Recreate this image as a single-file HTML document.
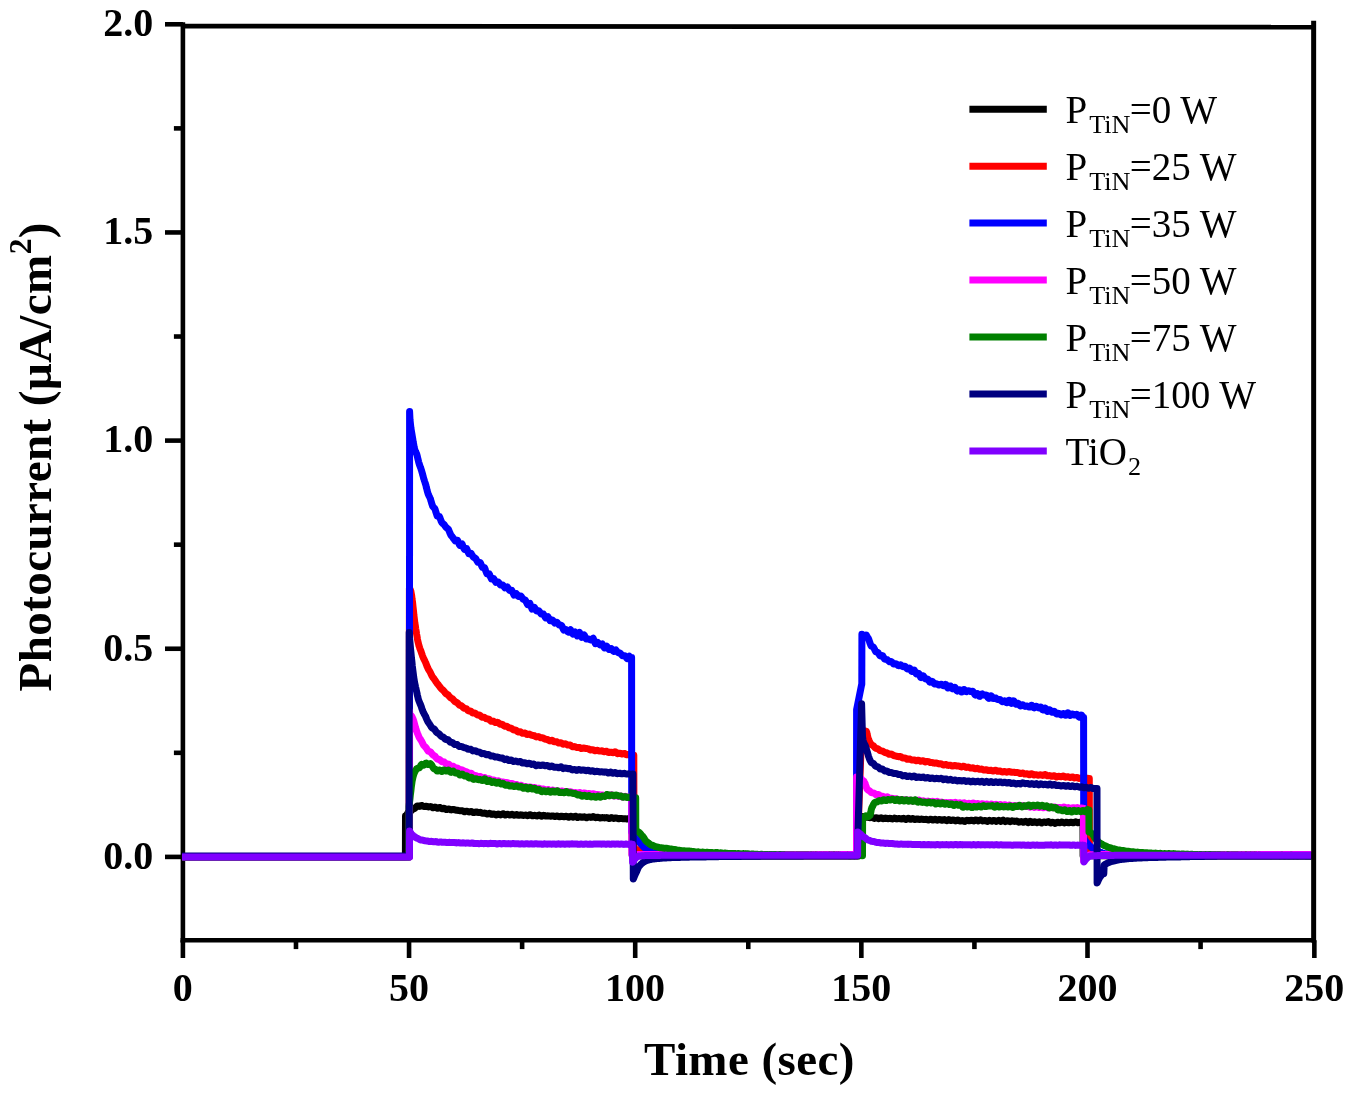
<!DOCTYPE html>
<html lang="en">
<head>
<meta charset="utf-8">
<title>Photocurrent vs Time</title>
<style>
html,body{margin:0;padding:0;background:#fff;}
body{width:1353px;height:1096px;overflow:hidden;}
svg{display:block;will-change:transform;}
</style>
</head>
<body>
<svg width="1353" height="1096" viewBox="0 0 1353 1096">
<rect width="1353" height="1096" fill="#fff"/>
<g stroke="#000" stroke-width="4.6" fill="none" stroke-linecap="butt"><line x1="182.9" y1="22.3" x2="182.9" y2="942.50"/><line x1="180.60" y1="940.2" x2="1315.95" y2="940.2"/><line x1="182.9" y1="26.1" x2="1313.65" y2="27.15"/><line x1="165.00" y1="856.90" x2="182.90" y2="856.90"/><line x1="173.90" y1="752.82" x2="182.90" y2="752.82"/><line x1="165.00" y1="648.75" x2="182.90" y2="648.75"/><line x1="173.90" y1="544.67" x2="182.90" y2="544.67"/><line x1="165.00" y1="440.60" x2="182.90" y2="440.60"/><line x1="173.90" y1="336.52" x2="182.90" y2="336.52"/><line x1="165.00" y1="232.45" x2="182.90" y2="232.45"/><line x1="173.90" y1="128.38" x2="182.90" y2="128.38"/><line x1="165.00" y1="24.30" x2="182.90" y2="24.30"/><line x1="182.90" y1="940.20" x2="182.90" y2="958.00"/><line x1="295.98" y1="940.20" x2="295.98" y2="949.10"/><line x1="409.05" y1="940.20" x2="409.05" y2="958.00"/><line x1="522.12" y1="940.20" x2="522.12" y2="949.10"/><line x1="635.20" y1="940.20" x2="635.20" y2="958.00"/><line x1="748.27" y1="940.20" x2="748.27" y2="949.10"/><line x1="861.35" y1="940.20" x2="861.35" y2="958.00"/><line x1="974.42" y1="940.20" x2="974.42" y2="949.10"/><line x1="1087.50" y1="940.20" x2="1087.50" y2="958.00"/><line x1="1200.58" y1="940.20" x2="1200.58" y2="949.10"/><line x1="1314.35" y1="940.20" x2="1314.35" y2="958.00"/></g>
<defs><clipPath id="plot"><rect x="182" y="24" width="1129.5" height="918"/></clipPath></defs>
<g clip-path="url(#plot)" fill="none" stroke-width="7.0" stroke-linejoin="round" stroke-linecap="round"><path stroke="#000000" d="M182.9 856.9L405.2 856.9L405.4 856.9L405.5 816.1L405.7 816.1L406.1 815.8L406.6 814.9L407.0 814.2L407.5 813.5L407.9 812.8L408.4 812.4L408.8 812.2L409.3 812.0L409.7 811.8L410.2 811.6L410.6 811.3L411.1 810.8L411.5 810.4L412.0 809.9L412.4 809.5L412.9 809.2L413.3 809.0L413.8 808.8L414.2 808.6L414.7 808.4L415.1 808.0L415.6 807.5L416.1 807.0L416.5 806.6L417.0 806.2L417.4 806.0L417.9 806.0L418.3 806.1L418.8 806.2L419.2 806.4L419.7 806.3L420.1 806.1L420.6 805.9L421.0 805.6L421.5 805.4L421.9 805.5L422.4 805.7L422.8 806.0L423.3 806.2L423.7 806.4L424.2 806.5L424.6 806.4L425.1 806.4L425.5 806.3L426.0 806.3L426.4 806.3L426.9 806.5L427.3 806.6L427.8 806.8L428.3 806.9L428.7 806.9L429.2 806.8L429.6 806.7L430.1 806.7L430.5 806.6L431.0 806.7L431.4 806.9L431.9 807.2L432.3 807.4L432.8 807.7L433.2 807.7L433.7 807.5L434.1 807.4L434.6 807.3L435.0 807.1L435.5 807.2L435.9 807.5L436.4 807.7L436.8 808.0L437.3 808.2L437.7 808.2L438.2 808.0L438.6 807.8L439.1 807.6L439.5 807.4L440.0 807.5L440.5 807.8L440.9 808.1L441.4 808.5L441.8 808.8L442.3 808.8L442.7 808.7L443.2 808.6L443.6 808.4L444.1 808.3L444.5 808.4L445.0 808.7L445.4 809.0L445.9 809.3L446.3 809.5L446.8 809.6L447.2 809.4L447.7 809.3L448.1 809.1L448.6 809.0L449.0 809.0L449.5 809.2L449.9 809.4L450.4 809.6L450.8 809.8L451.3 809.9L451.7 809.7L452.2 809.6L452.6 809.5L453.1 809.4L453.6 809.5L454.0 809.6L454.5 809.8L454.9 809.9L455.4 810.0L455.8 810.1L456.3 810.2L456.7 810.2L457.2 810.2L457.6 810.3L458.1 810.4L458.5 810.5L459.0 810.6L459.4 810.7L459.9 810.7L460.3 810.8L460.8 810.8L461.2 810.8L461.7 810.8L462.1 810.8L462.6 810.9L463.0 811.1L463.5 811.3L463.9 811.5L464.4 811.7L464.8 811.7L465.3 811.5L465.8 811.4L466.2 811.3L466.7 811.2L467.1 811.2L467.6 811.4L468.0 811.6L468.5 811.8L468.9 811.9L469.4 811.9L469.8 811.8L470.3 811.7L470.7 811.6L471.2 811.5L471.6 811.7L472.1 811.9L472.5 812.1L473.0 812.4L473.4 812.6L473.9 812.6L474.3 812.4L474.8 812.3L475.2 812.1L475.7 811.9L476.1 811.9L476.6 812.0L477.0 812.2L477.5 812.3L478.0 812.4L478.4 812.5L478.9 812.4L479.3 812.4L479.8 812.4L480.2 812.3L480.7 812.5L481.1 812.7L481.6 812.9L482.0 813.1L482.5 813.3L482.9 813.3L483.4 813.3L483.8 813.2L484.3 813.1L484.7 813.1L485.2 813.2L485.6 813.4L486.1 813.6L486.5 813.8L487.0 814.0L487.4 814.0L487.9 813.8L488.3 813.7L488.8 813.5L489.2 813.3L489.7 813.4L490.2 813.6L490.6 813.9L491.1 814.1L491.5 814.3L492.0 814.4L492.4 814.2L492.9 814.1L493.3 814.0L493.8 813.9L494.2 813.9L494.7 814.2L495.1 814.4L495.6 814.6L496.0 814.9L496.5 814.9L496.9 814.7L497.4 814.5L497.8 814.3L498.3 814.1L498.7 814.2L499.2 814.3L499.6 814.5L500.1 814.7L500.5 814.9L501.0 814.8L501.4 814.5L501.9 814.3L502.4 814.0L502.8 813.7L503.3 813.8L503.7 814.1L504.2 814.3L504.6 814.6L505.1 814.9L505.5 814.9L506.0 814.7L506.4 814.6L506.9 814.4L507.3 814.2L507.8 814.3L508.2 814.4L508.7 814.6L509.1 814.8L509.6 815.0L510.0 814.9L510.5 814.8L510.9 814.6L511.4 814.5L511.8 814.3L512.3 814.4L512.7 814.6L513.2 814.8L513.6 815.0L514.1 815.2L514.6 815.2L515.0 815.1L515.5 814.9L515.9 814.7L516.4 814.6L516.8 814.6L517.3 814.8L517.7 815.0L518.2 815.1L518.6 815.3L519.1 815.3L519.5 815.2L520.0 815.1L520.4 815.0L520.9 814.8L521.3 814.9L521.8 815.0L522.2 815.2L522.7 815.3L523.1 815.4L523.6 815.4L524.0 815.3L524.5 815.3L524.9 815.2L525.4 815.1L525.8 815.1L526.3 815.3L526.8 815.4L527.2 815.5L527.7 815.7L528.1 815.6L528.6 815.4L529.0 815.2L529.5 814.9L529.9 814.7L530.4 814.8L530.8 815.0L531.3 815.3L531.7 815.6L532.2 815.8L532.6 815.8L533.1 815.7L533.5 815.6L534.0 815.4L534.4 815.3L534.9 815.3L535.3 815.5L535.8 815.6L536.2 815.8L536.7 815.9L537.1 815.9L537.6 815.7L538.0 815.5L538.5 815.3L539.0 815.0L539.4 815.1L539.9 815.4L540.3 815.7L540.8 816.0L541.2 816.3L541.7 816.2L542.1 816.0L542.6 815.8L543.0 815.6L543.5 815.3L543.9 815.4L544.4 815.5L544.8 815.7L545.3 815.9L545.7 816.1L546.2 816.1L546.6 816.0L547.1 816.0L547.5 815.9L548.0 815.8L548.4 815.9L548.9 816.0L549.3 816.0L549.8 816.1L550.2 816.2L550.7 816.2L551.2 816.1L551.6 816.1L552.1 816.0L552.5 815.9L553.0 816.0L553.4 816.1L553.9 816.2L554.3 816.3L554.8 816.5L555.2 816.5L555.7 816.4L556.1 816.2L556.6 816.1L557.0 816.0L557.5 816.1L557.9 816.2L558.4 816.4L558.8 816.6L559.3 816.7L559.7 816.7L560.2 816.6L560.6 816.4L561.1 816.3L561.5 816.2L562.0 816.2L562.4 816.4L562.9 816.5L563.4 816.7L563.8 816.8L564.3 816.8L564.7 816.7L565.2 816.5L565.6 816.4L566.1 816.3L566.5 816.3L567.0 816.6L567.4 816.8L567.9 817.0L568.3 817.3L568.8 817.2L569.2 816.9L569.7 816.7L570.1 816.5L570.6 816.2L571.0 816.3L571.5 816.5L571.9 816.7L572.4 817.0L572.8 817.2L573.3 817.2L573.7 816.9L574.2 816.7L574.6 816.5L575.1 816.2L575.6 816.3L576.0 816.6L576.5 816.9L576.9 817.2L577.4 817.5L577.8 817.5L578.3 817.3L578.7 817.1L579.2 816.9L579.6 816.7L580.1 816.7L580.5 816.9L581.0 817.0L581.4 817.2L581.9 817.3L582.3 817.3L582.8 817.2L583.2 817.0L583.7 816.9L584.1 816.8L584.6 816.9L585.0 817.1L585.5 817.3L585.9 817.5L586.4 817.7L586.8 817.7L587.3 817.5L587.8 817.3L588.2 817.1L588.7 816.9L589.1 816.9L589.6 817.0L590.0 817.1L590.5 817.2L590.9 817.4L591.4 817.3L591.8 817.1L592.3 817.0L592.7 816.8L593.2 816.6L593.6 816.7L594.1 817.0L594.5 817.2L595.0 817.5L595.4 817.7L595.9 817.7L596.3 817.6L596.8 817.5L597.2 817.3L597.7 817.2L598.1 817.2L598.6 817.4L599.0 817.6L599.5 817.8L600.0 818.0L600.4 818.0L600.9 817.9L601.3 817.8L601.8 817.7L602.2 817.6L602.7 817.6L603.1 817.7L603.6 817.8L604.0 817.8L604.5 817.9L604.9 817.9L605.4 817.8L605.8 817.7L606.3 817.7L606.7 817.6L607.2 817.7L607.6 817.9L608.1 818.1L608.5 818.3L609.0 818.5L609.4 818.5L609.9 818.3L610.3 818.1L610.8 817.8L611.2 817.6L611.7 817.7L612.2 817.8L612.6 818.0L613.1 818.2L613.5 818.4L614.0 818.4L614.4 818.3L614.9 818.1L615.3 818.0L615.8 817.9L616.2 817.9L616.7 818.1L617.1 818.3L617.6 818.5L618.0 818.7L618.5 818.7L618.9 818.7L619.4 818.6L619.8 818.5L620.3 818.4L620.7 818.4L621.2 818.5L621.6 818.6L622.1 818.6L622.5 818.7L623.0 818.7L623.4 818.7L623.9 818.7L624.4 818.7L624.8 818.7L625.3 818.7L625.7 818.8L626.2 818.9L626.6 818.9L627.1 819.0L627.5 818.9L628.0 818.8L628.4 818.6L628.9 818.5L629.3 818.4L629.8 818.4L630.2 818.7L630.7 818.9L631.1 819.1L631.6 819.0L632.0 819.0L632.2 855.2L632.3 855.2L633.4 855.3L634.5 855.4L635.7 855.5L636.8 855.5L637.9 855.6L639.1 855.6L640.2 855.7L641.3 855.7L642.5 855.7L643.6 855.7L644.7 855.7L645.9 855.7L647.0 855.7L648.1 855.7L649.3 855.7L650.4 855.7L651.5 855.7L652.7 855.7L653.8 855.7L654.9 855.7L656.1 855.7L657.2 855.7L658.3 855.7L659.5 855.7L660.6 855.8L661.7 855.8L662.9 855.8L664.0 855.8L665.1 855.8L666.3 855.8L667.4 855.8L668.5 855.8L669.6 855.8L670.8 855.8L671.9 855.8L673.0 855.8L674.2 855.8L675.3 855.8L676.4 855.8L677.6 855.8L678.7 855.8L679.8 855.8L681.0 855.8L682.1 855.8L683.2 855.8L684.4 855.8L685.5 855.8L686.6 855.9L687.8 855.9L688.9 855.9L690.0 855.9L691.2 855.9L692.3 855.9L693.4 855.9L694.6 855.9L695.7 855.9L696.8 855.9L698.0 855.9L699.1 855.9L700.2 855.9L701.4 855.9L702.5 855.9L703.6 855.9L704.8 855.9L705.9 855.9L707.0 855.9L708.2 855.9L709.3 855.9L710.4 855.9L711.6 855.9L712.7 855.9L713.8 855.9L715.0 855.9L716.1 855.9L717.2 855.9L718.4 855.9L719.5 855.9L720.6 855.9L721.8 855.9L722.9 856.0L724.0 856.0L725.2 856.0L726.3 856.0L727.4 856.0L728.6 856.0L729.7 856.0L730.8 856.0L732.0 856.0L733.1 856.0L734.2 856.0L735.4 856.0L736.5 856.0L737.6 856.0L738.8 856.0L739.9 856.0L741.0 856.0L742.2 856.0L743.3 856.0L744.4 856.0L745.6 856.0L746.7 856.0L747.8 856.0L749.0 856.0L750.1 856.0L751.2 856.0L752.4 856.0L753.5 856.0L754.6 856.0L755.8 856.0L756.9 856.0L758.0 856.0L759.2 856.0L760.3 856.0L761.4 856.0L762.6 856.0L763.7 856.0L764.8 856.0L766.0 856.0L767.1 856.0L768.2 856.0L769.4 856.0L770.5 856.0L771.6 856.0L772.8 856.0L773.9 856.0L775.0 856.0L776.2 856.0L777.3 856.0L778.4 856.0L779.6 856.0L780.7 856.0L781.8 856.0L783.0 856.0L784.1 856.0L785.2 856.0L786.4 856.0L787.5 856.0L788.6 856.0L789.8 856.0L790.9 856.0L792.0 856.0L793.1 856.0L794.3 856.1L795.4 856.1L796.5 856.1L797.7 856.1L798.8 856.1L799.9 856.1L801.1 856.1L802.2 856.1L803.3 856.1L804.5 856.1L805.6 856.1L806.7 856.1L807.9 856.1L809.0 856.1L810.1 856.1L811.3 856.1L812.4 856.1L813.5 856.1L814.7 856.1L815.8 856.1L816.9 856.1L818.1 856.1L819.2 856.1L820.3 856.1L821.5 856.1L822.6 856.1L823.7 856.1L824.9 856.1L826.0 856.1L827.1 856.1L828.3 856.1L829.4 856.1L830.5 856.1L831.7 856.1L832.8 856.1L833.9 856.1L835.1 856.1L836.2 856.1L837.3 856.1L838.5 856.1L839.6 856.1L840.7 856.1L841.9 856.1L843.0 856.1L844.1 856.1L845.3 856.1L846.4 856.1L847.5 856.1L848.7 856.1L849.8 856.1L850.9 856.1L852.1 856.1L853.2 856.1L854.3 856.1L855.5 856.1L856.6 856.1L857.7 856.1L858.2 856.1L858.3 819.4L858.4 819.4L858.9 819.1L859.3 819.0L859.8 818.8L860.2 818.7L860.7 818.5L861.1 818.1L861.6 817.6L862.0 817.2L862.5 816.9L862.9 816.6L863.4 816.7L863.8 816.8L864.3 816.9L864.7 817.1L865.2 817.2L865.6 817.2L866.1 817.2L866.6 817.2L867.0 817.2L867.5 817.2L867.9 817.3L868.4 817.4L868.8 817.5L869.3 817.6L869.7 817.7L870.2 817.6L870.6 817.5L871.1 817.4L871.5 817.3L872.0 817.2L872.4 817.4L872.9 817.7L873.3 817.9L873.8 818.2L874.2 818.4L874.7 818.2L875.1 818.1L875.6 817.9L876.0 817.8L876.5 817.7L877.0 817.9L877.4 818.1L877.9 818.3L878.3 818.5L878.8 818.7L879.2 818.5L879.7 818.3L880.1 818.1L880.6 817.9L881.0 817.8L881.5 818.0L881.9 818.2L882.4 818.4L882.8 818.6L883.3 818.7L883.7 818.6L884.2 818.5L884.6 818.3L885.1 818.2L885.5 818.1L886.0 818.2L886.5 818.3L886.9 818.5L887.4 818.6L887.8 818.7L888.3 818.6L888.7 818.5L889.2 818.4L889.6 818.3L890.1 818.3L890.5 818.4L891.0 818.5L891.4 818.7L891.9 818.8L892.3 818.9L892.8 818.7L893.2 818.6L893.7 818.4L894.1 818.3L894.6 818.1L895.0 818.3L895.5 818.5L896.0 818.6L896.4 818.8L896.9 818.9L897.3 818.8L897.8 818.7L898.2 818.6L898.7 818.6L899.1 818.5L899.6 818.6L900.0 818.7L900.5 818.8L900.9 818.9L901.4 819.0L901.8 818.8L902.3 818.7L902.7 818.5L903.2 818.4L903.6 818.3L904.1 818.6L904.5 818.8L905.0 819.1L905.4 819.3L905.9 819.5L906.4 819.2L906.8 819.0L907.3 818.7L907.7 818.4L908.2 818.2L908.6 818.4L909.1 818.7L909.5 818.9L910.0 819.2L910.4 819.3L910.9 819.2L911.3 819.0L911.8 818.8L912.2 818.6L912.7 818.5L913.1 818.7L913.6 818.9L914.0 819.1L914.5 819.4L914.9 819.6L915.4 819.4L915.9 819.3L916.3 819.1L916.8 819.0L917.2 818.9L917.7 819.0L918.1 819.2L918.6 819.3L919.0 819.4L919.5 819.5L919.9 819.4L920.4 819.3L920.8 819.2L921.3 819.1L921.7 819.1L922.2 819.2L922.6 819.3L923.1 819.4L923.5 819.5L924.0 819.5L924.4 819.5L924.9 819.4L925.4 819.4L925.8 819.3L926.3 819.3L926.7 819.4L927.2 819.6L927.6 819.7L928.1 819.9L928.5 820.0L929.0 819.8L929.4 819.7L929.9 819.5L930.3 819.3L930.8 819.2L931.2 819.4L931.7 819.6L932.1 819.8L932.6 820.0L933.0 820.1L933.5 819.9L933.9 819.8L934.4 819.6L934.8 819.4L935.3 819.3L935.8 819.5L936.2 819.7L936.7 819.9L937.1 820.1L937.6 820.2L938.0 820.0L938.5 819.8L938.9 819.7L939.4 819.5L939.8 819.4L940.3 819.6L940.7 819.8L941.2 820.0L941.6 820.2L942.1 820.3L942.5 820.2L943.0 820.0L943.4 819.8L943.9 819.7L944.3 819.6L944.8 819.8L945.3 820.0L945.7 820.3L946.2 820.5L946.6 820.7L947.1 820.5L947.5 820.3L948.0 820.0L948.4 819.8L948.9 819.6L949.3 819.8L949.8 820.0L950.2 820.2L950.7 820.4L951.1 820.6L951.6 820.4L952.0 820.3L952.5 820.2L952.9 820.0L953.4 819.9L953.8 820.1L954.3 820.4L954.7 820.6L955.2 820.8L955.7 820.9L956.1 820.7L956.6 820.5L957.0 820.4L957.5 820.2L957.9 820.0L958.4 820.2L958.8 820.5L959.3 820.7L959.7 820.9L960.2 821.1L960.6 821.0L961.1 820.9L961.5 820.7L962.0 820.6L962.4 820.6L962.9 820.7L963.3 820.9L963.8 821.1L964.2 821.3L964.7 821.4L965.2 821.2L965.6 820.9L966.1 820.7L966.5 820.5L967.0 820.3L967.4 820.4L967.9 820.5L968.3 820.6L968.8 820.7L969.2 820.8L969.7 820.7L970.1 820.5L970.6 820.4L971.0 820.3L971.5 820.2L971.9 820.3L972.4 820.5L972.8 820.6L973.3 820.8L973.7 820.9L974.2 820.7L974.7 820.4L975.1 820.2L975.6 820.0L976.0 819.9L976.5 820.1L976.9 820.3L977.4 820.5L977.8 820.7L978.3 820.9L978.7 820.6L979.2 820.4L979.6 820.2L980.1 820.0L980.5 819.8L981.0 820.1L981.4 820.3L981.9 820.5L982.3 820.7L982.8 820.9L983.2 820.8L983.7 820.7L984.1 820.6L984.6 820.6L985.1 820.5L985.5 820.7L986.0 820.9L986.4 821.1L986.9 821.3L987.3 821.4L987.8 821.2L988.2 821.0L988.7 820.7L989.1 820.5L989.6 820.3L990.0 820.5L990.5 820.7L990.9 820.9L991.4 821.0L991.8 821.2L992.3 821.0L992.7 820.9L993.2 820.7L993.6 820.5L994.1 820.4L994.6 820.6L995.0 820.8L995.5 821.0L995.9 821.2L996.4 821.4L996.8 821.2L997.3 820.9L997.7 820.7L998.2 820.5L998.6 820.3L999.1 820.5L999.5 820.8L1000.0 821.0L1000.4 821.2L1000.9 821.4L1001.3 821.1L1001.8 820.8L1002.2 820.6L1002.7 820.3L1003.1 820.1L1003.6 820.4L1004.1 820.7L1004.5 821.0L1005.0 821.3L1005.4 821.6L1005.9 821.4L1006.3 821.2L1006.8 821.0L1007.2 820.8L1007.7 820.7L1008.1 820.9L1008.6 821.1L1009.0 821.3L1009.5 821.5L1009.9 821.7L1010.4 821.5L1010.8 821.3L1011.3 821.1L1011.7 820.9L1012.2 820.8L1012.6 820.9L1013.1 821.1L1013.5 821.2L1014.0 821.3L1014.5 821.4L1014.9 821.4L1015.4 821.3L1015.8 821.2L1016.3 821.1L1016.7 821.1L1017.2 821.3L1017.6 821.5L1018.1 821.8L1018.5 822.0L1019.0 822.2L1019.4 822.1L1019.9 821.9L1020.3 821.8L1020.8 821.7L1021.2 821.6L1021.7 821.8L1022.1 821.9L1022.6 822.0L1023.0 822.2L1023.5 822.3L1024.0 822.1L1024.4 821.8L1024.9 821.6L1025.3 821.4L1025.8 821.2L1026.2 821.5L1026.7 821.8L1027.1 822.1L1027.6 822.4L1028.0 822.7L1028.5 822.4L1028.9 822.1L1029.4 821.8L1029.8 821.5L1030.3 821.3L1030.7 821.5L1031.2 821.8L1031.6 822.0L1032.1 822.3L1032.5 822.5L1033.0 822.3L1033.5 822.2L1033.9 822.0L1034.4 821.8L1034.8 821.7L1035.3 821.9L1035.7 822.2L1036.2 822.4L1036.6 822.6L1037.1 822.8L1037.5 822.5L1038.0 822.3L1038.4 822.1L1038.9 821.9L1039.3 821.8L1039.8 822.0L1040.2 822.3L1040.7 822.5L1041.1 822.8L1041.6 823.0L1042.0 822.8L1042.5 822.6L1042.9 822.4L1043.4 822.2L1043.9 822.0L1044.3 822.1L1044.8 822.2L1045.2 822.3L1045.7 822.4L1046.1 822.5L1046.6 822.3L1047.0 822.1L1047.5 821.9L1047.9 821.7L1048.4 821.6L1048.8 821.9L1049.3 822.2L1049.7 822.5L1050.2 822.7L1050.6 823.0L1051.1 822.8L1051.5 822.6L1052.0 822.5L1052.4 822.3L1052.9 822.2L1053.4 822.5L1053.8 822.7L1054.3 823.0L1054.7 823.2L1055.2 823.4L1055.6 823.2L1056.1 822.9L1056.5 822.7L1057.0 822.4L1057.4 822.2L1057.9 822.3L1058.3 822.5L1058.8 822.6L1059.2 822.7L1059.7 822.8L1060.1 822.7L1060.6 822.5L1061.0 822.3L1061.5 822.1L1061.9 822.0L1062.4 822.2L1062.8 822.4L1063.3 822.6L1063.8 822.7L1064.2 822.9L1064.7 822.7L1065.1 822.6L1065.6 822.5L1066.0 822.3L1066.5 822.2L1066.9 822.3L1067.4 822.5L1067.8 822.6L1068.3 822.7L1068.7 822.8L1069.2 822.7L1069.6 822.6L1070.1 822.4L1070.5 822.3L1071.0 822.2L1071.4 822.3L1071.9 822.4L1072.3 822.6L1072.8 822.7L1073.3 822.8L1073.7 822.6L1074.2 822.4L1074.6 822.2L1075.1 822.0L1075.5 821.8L1076.0 822.0L1076.4 822.2L1076.9 822.4L1077.3 822.6L1077.8 822.8L1078.2 822.7L1078.7 822.5L1079.1 822.4L1079.6 822.3L1080.0 822.2L1080.5 822.4L1080.9 822.5L1081.4 822.6L1081.8 822.8L1082.3 822.9L1082.8 822.8L1083.0 822.8L1083.1 855.7L1083.2 855.7L1313.7 856.1"/><path stroke="#ff0000" d="M182.9 856.9L409.0 856.9L409.1 856.9L409.4 588.5L409.4 588.5L409.9 589.3L410.3 589.8L410.8 590.9L411.2 593.1L411.7 595.9L412.1 599.3L412.6 602.7L413.0 606.6L413.5 610.9L413.9 615.3L414.4 619.3L414.8 622.6L415.3 625.6L415.7 628.5L416.2 631.3L416.6 634.0L417.1 636.8L417.5 639.4L418.0 641.7L418.5 643.8L418.9 645.5L419.4 646.9L419.8 648.3L420.3 649.5L420.7 650.7L421.2 651.9L421.6 653.2L422.1 654.5L422.5 655.8L423.0 657.0L423.4 658.1L423.9 659.0L424.3 659.9L424.8 660.8L425.2 661.7L425.7 662.7L426.1 663.9L426.6 665.1L427.0 666.2L427.5 667.3L427.9 668.3L428.4 669.2L428.8 670.0L429.3 670.7L429.8 671.5L430.2 672.3L430.7 673.3L431.1 674.2L431.6 675.1L432.0 676.0L432.5 676.7L432.9 677.4L433.4 678.0L433.8 678.6L434.3 679.2L434.7 679.8L435.2 680.5L435.6 681.2L436.1 681.9L436.5 682.6L437.0 683.2L437.4 683.8L437.9 684.3L438.3 684.8L438.8 685.4L439.2 686.0L439.7 686.6L440.1 687.2L440.6 687.8L441.1 688.5L441.5 688.9L442.0 689.3L442.4 689.7L442.9 690.0L443.3 690.4L443.8 690.9L444.2 691.5L444.7 692.1L445.1 692.7L445.6 693.3L446.0 693.7L446.5 694.0L446.9 694.2L447.4 694.5L447.8 694.7L448.3 695.1L448.7 695.7L449.2 696.2L449.6 696.8L450.1 697.3L450.5 697.7L451.0 698.0L451.5 698.2L451.9 698.5L452.4 698.7L452.8 699.1L453.3 699.7L453.7 700.3L454.2 700.8L454.6 701.4L455.1 701.7L455.5 701.9L456.0 702.1L456.4 702.3L456.9 702.5L457.3 702.8L457.8 703.3L458.2 703.8L458.7 704.3L459.1 704.8L459.6 705.2L460.0 705.3L460.5 705.5L460.9 705.6L461.4 705.8L461.8 706.1L462.3 706.6L462.8 707.0L463.2 707.5L463.7 708.0L464.1 708.2L464.6 708.3L465.0 708.4L465.5 708.5L465.9 708.5L466.4 708.8L466.8 709.3L467.3 709.8L467.7 710.2L468.2 710.7L468.6 710.9L469.1 710.9L469.5 711.0L470.0 711.0L470.4 711.1L470.9 711.3L471.3 711.7L471.8 712.1L472.2 712.5L472.7 712.9L473.1 713.1L473.6 713.1L474.1 713.1L474.5 713.1L475.0 713.1L475.4 713.3L475.9 713.7L476.3 714.0L476.8 714.4L477.2 714.7L477.7 714.9L478.1 714.9L478.6 715.0L479.0 715.0L479.5 715.0L479.9 715.3L480.4 715.7L480.8 716.2L481.3 716.6L481.7 717.0L482.2 717.2L482.6 717.2L483.1 717.2L483.5 717.2L484.0 717.2L484.4 717.4L484.9 717.7L485.4 718.0L485.8 718.3L486.3 718.7L486.7 718.8L487.2 718.8L487.6 718.9L488.1 718.9L488.5 718.9L489.0 719.2L489.4 719.7L489.9 720.2L490.3 720.6L490.8 721.1L491.2 721.3L491.7 721.3L492.1 721.2L492.6 721.2L493.0 721.1L493.5 721.2L493.9 721.5L494.4 721.9L494.8 722.2L495.3 722.5L495.7 722.6L496.2 722.5L496.7 722.5L497.1 722.4L497.6 722.3L498.0 722.5L498.5 722.9L498.9 723.3L499.4 723.6L499.8 724.0L500.3 724.2L500.7 724.2L501.2 724.2L501.6 724.3L502.1 724.3L502.5 724.5L503.0 724.9L503.4 725.3L503.9 725.7L504.3 726.1L504.8 726.2L505.2 726.2L505.7 726.2L506.1 726.2L506.6 726.2L507.0 726.4L507.5 726.7L508.0 727.1L508.4 727.4L508.9 727.8L509.3 727.9L509.8 728.0L510.2 728.1L510.7 728.1L511.1 728.2L511.6 728.4L512.0 728.7L512.5 729.1L512.9 729.4L513.4 729.8L513.8 729.9L514.3 730.0L514.7 730.0L515.2 730.0L515.6 730.0L516.1 730.3L516.5 730.7L517.0 731.1L517.4 731.5L517.9 731.8L518.4 732.0L518.8 731.9L519.3 731.9L519.7 731.8L520.2 731.7L520.6 731.9L521.1 732.2L521.5 732.5L522.0 732.9L522.4 733.2L522.9 733.3L523.3 733.2L523.8 733.2L524.2 733.1L524.7 733.0L525.1 733.1L525.6 733.5L526.0 733.8L526.5 734.1L526.9 734.4L527.4 734.5L527.8 734.4L528.3 734.3L528.7 734.2L529.2 734.1L529.7 734.2L530.1 734.5L530.6 734.7L531.0 735.0L531.5 735.2L531.9 735.3L532.4 735.4L532.8 735.4L533.3 735.4L533.7 735.4L534.2 735.6L534.6 735.9L535.1 736.2L535.5 736.5L536.0 736.8L536.4 736.9L536.9 736.8L537.3 736.7L537.8 736.7L538.2 736.6L538.7 736.7L539.1 736.9L539.6 737.2L540.0 737.4L540.5 737.7L541.0 737.8L541.4 737.8L541.9 737.8L542.3 737.8L542.8 737.8L543.2 738.0L543.7 738.3L544.1 738.6L544.6 738.8L545.0 739.1L545.5 739.3L545.9 739.3L546.4 739.4L546.8 739.4L547.3 739.5L547.7 739.7L548.2 740.0L548.6 740.2L549.1 740.5L549.5 740.8L550.0 740.9L550.4 740.8L550.9 740.6L551.3 740.5L551.8 740.3L552.3 740.4L552.7 740.8L553.2 741.1L553.6 741.4L554.1 741.7L554.5 741.8L555.0 741.8L555.4 741.7L555.9 741.7L556.3 741.7L556.8 741.8L557.2 742.1L557.7 742.4L558.1 742.7L558.6 743.0L559.0 743.1L559.5 743.0L559.9 742.9L560.4 742.8L560.8 742.7L561.3 742.9L561.7 743.2L562.2 743.5L562.6 743.8L563.1 744.2L563.6 744.2L564.0 744.1L564.5 744.0L564.9 743.9L565.4 743.8L565.8 743.9L566.3 744.2L566.7 744.5L567.2 744.7L567.6 745.0L568.1 745.1L568.5 745.1L569.0 745.1L569.4 745.0L569.9 745.0L570.3 745.1L570.8 745.5L571.2 745.8L571.7 746.2L572.1 746.5L572.6 746.7L573.0 746.7L573.5 746.7L573.9 746.7L574.4 746.6L574.9 746.7L575.3 746.9L575.8 747.1L576.2 747.2L576.7 747.4L577.1 747.5L577.6 747.4L578.0 747.4L578.5 747.4L578.9 747.4L579.4 747.5L579.8 747.7L580.3 748.0L580.7 748.2L581.2 748.5L581.6 748.5L582.1 748.4L582.5 748.3L583.0 748.2L583.4 748.0L583.9 748.0L584.3 748.2L584.8 748.3L585.3 748.4L585.7 748.5L586.2 748.6L586.6 748.6L587.1 748.6L587.5 748.7L588.0 748.7L588.4 748.9L588.9 749.1L589.3 749.4L589.8 749.6L590.2 749.9L590.7 749.9L591.1 749.9L591.6 749.8L592.0 749.7L592.5 749.7L592.9 749.8L593.4 750.0L593.8 750.2L594.3 750.5L594.7 750.7L595.2 750.8L595.6 750.6L596.1 750.5L596.6 750.4L597.0 750.3L597.5 750.4L597.9 750.5L598.4 750.7L598.8 750.9L599.3 751.1L599.7 751.1L600.2 751.1L600.6 751.0L601.1 750.9L601.5 750.8L602.0 750.8L602.4 751.1L602.9 751.3L603.3 751.5L603.8 751.8L604.2 751.8L604.7 751.6L605.1 751.5L605.6 751.4L606.0 751.2L606.5 751.3L606.9 751.6L607.4 751.8L607.9 752.1L608.3 752.4L608.8 752.5L609.2 752.4L609.7 752.3L610.1 752.2L610.6 752.2L611.0 752.2L611.5 752.3L611.9 752.5L612.4 752.6L612.8 752.7L613.3 752.6L613.7 752.4L614.2 752.2L614.6 752.0L615.1 751.8L615.5 751.9L616.0 752.3L616.4 752.7L616.9 753.1L617.3 753.5L617.8 753.7L618.2 753.6L618.7 753.4L619.2 753.3L619.6 753.2L620.1 753.2L620.5 753.4L621.0 753.6L621.4 753.8L621.9 754.0L622.3 754.1L622.8 753.9L623.2 753.7L623.7 753.6L624.1 753.4L624.6 753.5L625.0 753.8L625.5 754.1L625.9 754.4L626.4 754.7L626.8 754.8L627.3 754.7L627.7 754.7L628.2 754.6L628.6 754.5L629.1 754.6L629.5 754.8L630.0 755.0L630.5 755.2L630.9 755.4L631.4 755.5L631.8 755.4L632.3 755.4L632.7 755.3L633.2 755.2L633.6 755.3L633.8 755.3L634.0 851.9L634.1 848.6L635.2 848.9L636.3 849.2L637.5 849.6L638.6 850.0L639.7 850.4L640.9 851.0L642.0 851.7L643.1 852.3L644.2 852.7L645.4 853.1L646.5 853.4L647.6 853.8L648.8 854.0L649.9 854.2L651.0 854.4L652.2 854.5L653.3 854.6L654.4 854.8L655.6 854.8L656.7 854.9L657.8 855.0L658.9 855.1L660.1 855.1L661.2 855.2L662.3 855.2L663.5 855.3L664.6 855.3L665.7 855.4L666.9 855.4L668.0 855.4L669.1 855.5L670.3 855.5L671.4 855.5L672.5 855.6L673.6 855.6L674.8 855.6L675.9 855.6L677.0 855.6L678.2 855.6L679.3 855.6L680.4 855.7L681.6 855.7L682.7 855.7L683.8 855.7L685.0 855.7L686.1 855.7L687.2 855.7L688.3 855.7L689.5 855.7L690.6 855.7L691.7 855.7L692.9 855.7L694.0 855.7L695.1 855.7L696.3 855.7L697.4 855.7L698.5 855.7L699.7 855.7L700.8 855.7L701.9 855.7L703.0 855.7L704.2 855.7L705.3 855.7L706.4 855.7L707.6 855.7L708.7 855.7L709.8 855.7L711.0 855.7L712.1 855.7L713.2 855.7L714.4 855.7L715.5 855.7L716.6 855.7L717.7 855.7L718.9 855.7L720.0 855.7L721.1 855.7L722.3 855.7L723.4 855.7L724.5 855.7L725.7 855.7L726.8 855.7L727.9 855.7L729.1 855.7L730.2 855.7L731.3 855.7L732.4 855.7L733.6 855.7L734.7 855.7L735.8 855.7L737.0 855.7L738.1 855.7L739.2 855.7L740.4 855.7L741.5 855.7L742.6 855.7L743.8 855.7L744.9 855.7L746.0 855.7L747.1 855.7L748.3 855.7L749.4 855.7L750.5 855.7L751.7 855.7L752.8 855.7L753.9 855.7L755.1 855.7L756.2 855.7L757.3 855.7L758.5 855.7L759.6 855.7L760.7 855.7L761.8 855.7L763.0 855.7L764.1 855.7L765.2 855.7L766.4 855.7L767.5 855.7L768.6 855.7L769.8 855.7L770.9 855.7L772.0 855.7L773.2 855.7L774.3 855.7L775.4 855.7L776.5 855.7L777.7 855.7L778.8 855.7L779.9 855.7L781.1 855.7L782.2 855.7L783.3 855.7L784.5 855.7L785.6 855.7L786.7 855.7L787.9 855.7L789.0 855.7L790.1 855.7L791.2 855.7L792.4 855.7L793.5 855.7L794.6 855.7L795.8 855.7L796.9 855.7L798.0 855.7L799.2 855.7L800.3 855.7L801.4 855.7L802.6 855.7L803.7 855.7L804.8 855.7L805.9 855.7L807.1 855.7L808.2 855.7L809.3 855.7L810.5 855.7L811.6 855.7L812.7 855.7L813.9 855.7L815.0 855.7L816.1 855.7L817.3 855.7L818.4 855.7L819.5 855.7L820.6 855.7L821.8 855.7L822.9 855.7L824.0 855.7L825.2 855.7L826.3 855.7L827.4 855.7L828.6 855.7L829.7 855.7L830.8 855.7L832.0 855.7L833.1 855.7L834.2 855.7L835.3 855.7L836.5 855.7L837.6 855.7L838.7 855.7L839.9 855.7L841.0 855.7L842.1 855.7L843.3 855.7L844.4 855.7L845.5 855.7L846.7 855.7L847.8 855.7L848.9 855.7L850.0 855.7L851.2 855.7L852.3 855.7L853.4 855.7L854.6 855.7L855.7 855.7L856.8 855.7L857.1 855.7L861.4 738.3L861.4 738.3L861.8 736.6L862.3 735.1L862.7 733.7L863.2 732.6L863.6 731.8L864.1 731.2L864.5 730.9L865.0 730.9L865.4 731.0L865.9 731.1L866.3 731.4L866.8 732.5L867.2 734.4L867.7 736.5L868.1 738.4L868.6 739.4L869.0 740.4L869.5 741.5L869.9 742.4L870.4 743.3L870.8 744.0L871.3 744.5L871.8 744.8L872.2 745.1L872.7 745.4L873.1 745.6L873.6 746.0L874.0 746.5L874.5 747.0L874.9 747.5L875.4 748.0L875.8 748.3L876.3 748.4L876.7 748.5L877.2 748.6L877.6 748.7L878.1 748.9L878.5 749.3L879.0 749.7L879.4 750.1L879.9 750.5L880.3 750.7L880.8 750.7L881.3 750.8L881.7 750.9L882.2 750.9L882.6 751.1L883.1 751.4L883.5 751.7L884.0 752.0L884.4 752.3L884.9 752.5L885.3 752.6L885.8 752.7L886.2 752.7L886.7 752.8L887.1 753.0L887.6 753.3L888.0 753.6L888.5 753.9L888.9 754.2L889.4 754.3L889.8 754.3L890.3 754.2L890.7 754.1L891.2 754.1L891.7 754.2L892.1 754.5L892.6 754.8L893.0 755.1L893.5 755.4L893.9 755.6L894.4 755.7L894.8 755.8L895.3 755.9L895.7 756.0L896.2 756.1L896.6 756.2L897.1 756.4L897.5 756.5L898.0 756.6L898.4 756.7L898.9 756.6L899.3 756.6L899.8 756.5L900.2 756.5L900.7 756.6L901.2 756.9L901.6 757.3L902.1 757.6L902.5 757.9L903.0 758.1L903.4 758.0L903.9 758.0L904.3 758.0L904.8 757.9L905.2 758.1L905.7 758.4L906.1 758.6L906.6 758.9L907.0 759.2L907.5 759.3L907.9 759.2L908.4 759.1L908.8 759.0L909.3 758.9L909.7 759.0L910.2 759.2L910.7 759.4L911.1 759.7L911.6 759.9L912.0 760.0L912.5 760.0L912.9 759.9L913.4 759.9L913.8 759.9L914.3 760.0L914.7 760.1L915.2 760.3L915.6 760.5L916.1 760.7L916.5 760.7L917.0 760.5L917.4 760.4L917.9 760.3L918.3 760.2L918.8 760.2L919.2 760.5L919.7 760.7L920.1 760.9L920.6 761.2L921.1 761.2L921.5 761.1L922.0 760.9L922.4 760.8L922.9 760.7L923.3 760.7L923.8 761.0L924.2 761.3L924.7 761.6L925.1 761.9L925.6 761.9L926.0 761.8L926.5 761.6L926.9 761.5L927.4 761.4L927.8 761.4L928.3 761.6L928.7 761.8L929.2 762.0L929.6 762.2L930.1 762.4L930.6 762.4L931.0 762.4L931.5 762.4L931.9 762.5L932.4 762.5L932.8 762.7L933.3 762.8L933.7 763.0L934.2 763.1L934.6 763.2L935.1 763.1L935.5 763.1L936.0 763.1L936.4 763.0L936.9 763.1L937.3 763.3L937.8 763.5L938.2 763.6L938.7 763.8L939.1 763.9L939.6 763.8L940.1 763.8L940.5 763.8L941.0 763.8L941.4 763.9L941.9 764.2L942.3 764.5L942.8 764.7L943.2 765.0L943.7 765.0L944.1 764.9L944.6 764.7L945.0 764.6L945.5 764.4L945.9 764.5L946.4 764.7L946.8 764.9L947.3 765.1L947.7 765.3L948.2 765.4L948.6 765.4L949.1 765.3L949.5 765.3L950.0 765.2L950.5 765.3L950.9 765.5L951.4 765.7L951.8 765.9L952.3 766.1L952.7 766.1L953.2 765.9L953.6 765.7L954.1 765.6L954.5 765.4L955.0 765.4L955.4 765.6L955.9 765.7L956.3 765.9L956.8 766.0L957.2 766.1L957.7 766.1L958.1 766.1L958.6 766.1L959.0 766.1L959.5 766.2L960.0 766.4L960.4 766.6L960.9 766.7L961.3 766.9L961.8 766.9L962.2 766.7L962.7 766.5L963.1 766.3L963.6 766.2L964.0 766.2L964.5 766.5L964.9 766.8L965.4 767.0L965.8 767.3L966.3 767.4L966.7 767.3L967.2 767.2L967.6 767.2L968.1 767.1L968.5 767.2L969.0 767.4L969.4 767.6L969.9 767.8L970.4 768.0L970.8 768.1L971.3 768.0L971.7 768.0L972.2 767.9L972.6 767.8L973.1 767.9L973.5 768.1L974.0 768.3L974.4 768.5L974.9 768.7L975.3 768.8L975.8 768.7L976.2 768.6L976.7 768.5L977.1 768.3L977.6 768.4L978.0 768.6L978.5 768.8L978.9 769.0L979.4 769.2L979.9 769.3L980.3 769.2L980.8 769.2L981.2 769.1L981.7 769.1L982.1 769.2L982.6 769.4L983.0 769.6L983.5 769.9L983.9 770.1L984.4 770.1L984.8 770.0L985.3 769.9L985.7 769.8L986.2 769.7L986.6 769.8L987.1 770.0L987.5 770.2L988.0 770.4L988.4 770.6L988.9 770.6L989.4 770.5L989.8 770.4L990.3 770.3L990.7 770.2L991.2 770.3L991.6 770.5L992.1 770.7L992.5 770.9L993.0 771.0L993.4 771.0L993.9 770.8L994.3 770.6L994.8 770.4L995.2 770.2L995.7 770.2L996.1 770.4L996.6 770.7L997.0 770.9L997.5 771.2L997.9 771.2L998.4 771.2L998.8 771.1L999.3 771.1L999.8 771.0L1000.2 771.1L1000.7 771.3L1001.1 771.5L1001.6 771.7L1002.0 771.9L1002.5 772.0L1002.9 771.9L1003.4 771.7L1003.8 771.6L1004.3 771.5L1004.7 771.6L1005.2 771.7L1005.6 771.9L1006.1 772.0L1006.5 772.2L1007.0 772.2L1007.4 772.0L1007.9 771.9L1008.3 771.7L1008.8 771.6L1009.3 771.6L1009.7 771.7L1010.2 771.9L1010.6 772.0L1011.1 772.2L1011.5 772.3L1012.0 772.2L1012.4 772.2L1012.9 772.2L1013.3 772.2L1013.8 772.2L1014.2 772.3L1014.7 772.4L1015.1 772.5L1015.6 772.5L1016.0 772.6L1016.5 772.6L1016.9 772.6L1017.4 772.6L1017.8 772.6L1018.3 772.7L1018.8 772.9L1019.2 773.1L1019.7 773.3L1020.1 773.5L1020.6 773.6L1021.0 773.4L1021.5 773.3L1021.9 773.2L1022.4 773.1L1022.8 773.1L1023.3 773.3L1023.7 773.6L1024.2 773.8L1024.6 774.0L1025.1 774.1L1025.5 774.0L1026.0 773.9L1026.4 773.8L1026.9 773.7L1027.3 773.7L1027.8 774.0L1028.2 774.2L1028.7 774.5L1029.2 774.7L1029.6 774.7L1030.1 774.4L1030.5 774.2L1031.0 773.9L1031.4 773.7L1031.9 773.7L1032.3 774.0L1032.8 774.3L1033.2 774.6L1033.7 774.9L1034.1 775.0L1034.6 774.9L1035.0 774.8L1035.5 774.8L1035.9 774.7L1036.4 774.8L1036.8 774.9L1037.3 775.0L1037.7 775.1L1038.2 775.2L1038.7 775.2L1039.1 775.1L1039.6 775.0L1040.0 774.9L1040.5 774.8L1040.9 774.9L1041.4 775.0L1041.8 775.1L1042.3 775.3L1042.7 775.4L1043.2 775.3L1043.6 775.1L1044.1 774.9L1044.5 774.7L1045.0 774.5L1045.4 774.6L1045.9 774.9L1046.3 775.1L1046.8 775.4L1047.2 775.7L1047.7 775.8L1048.1 775.8L1048.6 775.7L1049.1 775.7L1049.5 775.6L1050.0 775.7L1050.4 775.9L1050.9 776.0L1051.3 776.2L1051.8 776.3L1052.2 776.3L1052.7 776.2L1053.1 776.0L1053.6 775.8L1054.0 775.7L1054.5 775.7L1054.9 776.0L1055.4 776.3L1055.8 776.6L1056.3 776.9L1056.7 776.9L1057.2 776.7L1057.6 776.6L1058.1 776.4L1058.6 776.2L1059.0 776.2L1059.5 776.4L1059.9 776.5L1060.4 776.6L1060.8 776.8L1061.3 776.7L1061.7 776.6L1062.2 776.4L1062.6 776.2L1063.1 776.0L1063.5 776.0L1064.0 776.3L1064.4 776.6L1064.9 776.8L1065.3 777.1L1065.8 777.2L1066.2 777.0L1066.7 776.9L1067.1 776.8L1067.6 776.7L1068.1 776.8L1068.5 777.0L1069.0 777.1L1069.4 777.3L1069.9 777.5L1070.3 777.5L1070.8 777.4L1071.2 777.2L1071.7 777.1L1072.1 776.9L1072.6 777.0L1073.0 777.2L1073.5 777.4L1073.9 777.7L1074.4 777.9L1074.8 777.9L1075.3 777.8L1075.7 777.7L1076.2 777.6L1076.6 777.5L1077.1 777.5L1077.5 777.7L1078.0 777.9L1078.5 778.1L1078.9 778.4L1079.4 778.4L1079.8 778.3L1080.3 778.1L1080.7 778.0L1081.2 777.9L1081.6 777.9L1082.1 778.1L1082.5 778.3L1083.0 778.5L1083.4 778.7L1083.9 778.7L1084.3 778.5L1084.8 778.4L1085.2 778.2L1085.7 778.0L1086.1 778.0L1086.6 778.1L1087.0 778.2L1087.5 778.3L1088.0 778.5L1088.4 778.5L1088.9 778.5L1089.3 778.5L1089.4 852.7L1089.5 852.7L1090.7 853.2L1091.8 853.6L1092.9 854.0L1094.1 854.3L1095.2 854.6L1096.3 854.8L1097.5 854.9L1098.6 855.0L1099.7 855.1L1100.9 855.2L1102.0 855.3L1103.1 855.4L1104.2 855.5L1105.4 855.5L1106.5 855.6L1107.6 855.6L1108.8 855.6L1109.9 855.7L1111.0 855.7L1112.2 855.7L1113.3 855.7L1114.4 855.7L1115.6 855.7L1116.7 855.7L1117.8 855.7L1119.0 855.7L1120.1 855.7L1121.2 855.7L1122.4 855.7L1123.5 855.7L1124.6 855.7L1125.8 855.7L1126.9 855.7L1128.0 855.7L1129.2 855.7L1130.3 855.7L1131.4 855.7L1132.5 855.7L1133.7 855.7L1134.8 855.7L1135.9 855.7L1137.1 855.7L1138.2 855.7L1139.3 855.7L1140.5 855.7L1141.6 855.7L1142.7 855.7L1143.9 855.7L1145.0 855.7L1146.1 855.7L1147.3 855.7L1148.4 855.7L1149.5 855.7L1150.7 855.7L1151.8 855.7L1152.9 855.7L1154.1 855.7L1155.2 855.7L1156.3 855.7L1157.4 855.7L1158.6 855.7L1159.7 855.7L1160.8 855.7L1162.0 855.7L1163.1 855.7L1164.2 855.7L1165.4 855.7L1166.5 855.7L1167.6 855.7L1168.8 855.7L1169.9 855.7L1171.0 855.7L1172.2 855.7L1173.3 855.7L1174.4 855.7L1175.6 855.7L1176.7 855.7L1177.8 855.7L1179.0 855.7L1180.1 855.7L1181.2 855.7L1182.4 855.7L1183.5 855.7L1184.6 855.7L1185.7 855.7L1186.9 855.7L1188.0 855.7L1189.1 855.7L1190.3 855.7L1191.4 855.7L1192.5 855.7L1193.7 855.7L1194.8 855.7L1195.9 855.7L1197.1 855.7L1198.2 855.7L1199.3 855.7L1200.5 855.7L1201.6 855.7L1202.7 855.7L1203.9 855.7L1205.0 855.7L1206.1 855.7L1207.3 855.7L1208.4 855.7L1209.5 855.7L1210.6 855.7L1211.8 855.7L1212.9 855.7L1214.0 855.7L1215.2 855.7L1216.3 855.7L1217.4 855.7L1218.6 855.7L1219.7 855.7L1220.8 855.7L1222.0 855.7L1223.1 855.7L1224.2 855.7L1225.4 855.7L1226.5 855.7L1227.6 855.7L1228.8 855.7L1229.9 855.7L1231.0 855.7L1232.2 855.7L1233.3 855.7L1234.4 855.7L1235.5 855.7L1236.7 855.7L1237.8 855.7L1238.9 855.7L1240.1 855.7L1241.2 855.7L1242.3 855.7L1243.5 855.7L1244.6 855.7L1245.7 855.7L1246.9 855.7L1248.0 855.7L1249.1 855.7L1250.3 855.7L1251.4 855.7L1252.5 855.7L1253.7 855.7L1254.8 855.7L1255.9 855.7L1257.1 855.7L1258.2 855.7L1259.3 855.7L1260.5 855.7L1261.6 855.7L1262.7 855.7L1263.8 855.7L1265.0 855.7L1266.1 855.7L1267.2 855.7L1268.4 855.7L1269.5 855.7L1270.6 855.7L1271.8 855.7L1272.9 855.7L1274.0 855.7L1275.2 855.7L1276.3 855.7L1277.4 855.7L1278.6 855.7L1279.7 855.7L1280.8 855.7L1282.0 855.7L1283.1 855.7L1284.2 855.7L1285.4 855.7L1286.5 855.7L1287.6 855.7L1288.7 855.7L1289.9 855.7L1291.0 855.7L1292.1 855.7L1293.3 855.7L1294.4 855.7L1295.5 855.7L1296.7 855.7L1297.8 855.7L1298.9 855.7L1300.1 855.7L1301.2 855.7L1302.3 855.7L1303.5 855.7L1304.6 855.7L1305.7 855.7L1306.9 855.7L1308.0 855.7L1309.1 855.7L1310.3 855.7L1311.4 855.7L1312.5 855.7L1313.7 855.7"/><path stroke="#0000ff" d="M182.9 856.9L409.1 856.9L409.4 856.9L409.6 411.6L409.6 411.6L410.0 419.6L410.5 424.3L410.9 427.8L411.4 431.0L411.9 433.8L412.3 436.3L412.8 439.2L413.2 441.9L413.7 444.5L414.1 446.8L414.6 449.0L415.0 450.2L415.5 451.3L415.9 452.4L416.4 453.4L416.8 454.4L417.3 456.2L417.7 458.1L418.2 460.0L418.6 461.8L419.1 463.7L419.5 464.9L420.0 466.1L420.4 467.3L420.9 468.6L421.3 469.8L421.8 471.5L422.3 473.2L422.7 474.8L423.2 476.5L423.6 478.2L424.1 479.6L424.5 481.0L425.0 482.5L425.4 483.9L425.9 485.3L426.3 487.2L426.8 489.0L427.2 490.7L427.7 492.4L428.1 493.9L428.6 494.9L429.0 495.9L429.5 496.8L429.9 497.7L430.4 498.7L430.8 500.3L431.3 501.8L431.7 503.4L432.2 504.9L432.7 506.3L433.1 506.9L433.6 507.4L434.0 507.9L434.5 508.3L434.9 508.9L435.4 510.3L435.8 511.8L436.3 513.2L436.7 514.6L437.2 516.0L437.6 516.1L438.1 516.2L438.5 516.3L439.0 516.3L439.4 516.5L439.9 517.7L440.3 518.9L440.8 520.1L441.2 521.3L441.7 522.4L442.1 522.8L442.6 523.3L443.0 523.7L443.5 524.1L444.0 524.5L444.4 525.1L444.9 525.7L445.3 526.3L445.8 526.9L446.2 527.5L446.7 527.8L447.1 528.2L447.6 528.6L448.0 528.9L448.5 529.4L448.9 530.5L449.4 531.6L449.8 532.7L450.3 533.8L450.7 534.9L451.2 535.5L451.6 536.0L452.1 536.6L452.5 537.1L453.0 537.7L453.4 538.4L453.9 539.0L454.4 539.7L454.8 540.3L455.3 540.9L455.7 540.8L456.2 540.6L456.6 540.5L457.1 540.3L457.5 540.2L458.0 541.3L458.4 542.3L458.9 543.4L459.3 544.5L459.8 545.4L460.2 545.1L460.7 544.7L461.1 544.4L461.6 544.0L462.0 543.8L462.5 544.9L462.9 546.0L463.4 547.1L463.8 548.3L464.3 549.3L464.8 549.1L465.2 548.9L465.7 548.8L466.1 548.6L466.6 548.5L467.0 549.6L467.5 550.6L467.9 551.7L468.4 552.8L468.8 553.8L469.3 553.7L469.7 553.6L470.2 553.4L470.6 553.3L471.1 553.3L471.5 554.0L472.0 554.8L472.4 555.6L472.9 556.4L473.3 557.1L473.8 557.4L474.2 557.6L474.7 557.9L475.1 558.1L475.6 558.4L476.1 559.2L476.5 560.0L477.0 560.8L477.4 561.5L477.9 562.3L478.3 562.3L478.8 562.3L479.2 562.4L479.7 562.4L480.1 562.4L480.6 563.4L481.0 564.4L481.5 565.4L481.9 566.4L482.4 567.4L482.8 567.4L483.3 567.5L483.7 567.5L484.2 567.6L484.6 567.7L485.1 569.0L485.5 570.2L486.0 571.5L486.5 572.8L486.9 573.9L487.4 573.9L487.8 573.8L488.3 573.8L488.7 573.8L489.2 573.8L489.6 574.8L490.1 575.9L490.5 577.0L491.0 578.0L491.4 579.0L491.9 578.9L492.3 578.8L492.8 578.7L493.2 578.5L493.7 578.5L494.1 579.3L494.6 580.1L495.0 580.8L495.5 581.6L495.9 582.4L496.4 582.3L496.9 582.2L497.3 582.0L497.8 581.9L498.2 581.9L498.7 582.5L499.1 583.1L499.6 583.8L500.0 584.4L500.5 585.0L500.9 585.0L501.4 585.0L501.8 585.0L502.3 585.0L502.7 585.0L503.2 585.6L503.6 586.2L504.1 586.8L504.5 587.3L505.0 587.9L505.4 587.7L505.9 587.4L506.3 587.2L506.8 587.0L507.2 586.8L507.7 587.6L508.2 588.3L508.6 589.0L509.1 589.8L509.5 590.4L510.0 590.4L510.4 590.3L510.9 590.3L511.3 590.2L511.8 590.2L512.2 591.2L512.7 592.2L513.1 593.2L513.6 594.2L514.0 595.1L514.5 594.8L514.9 594.4L515.4 594.1L515.8 593.8L516.3 593.6L516.7 594.1L517.2 594.7L517.6 595.3L518.1 595.9L518.6 596.5L519.0 596.4L519.5 596.2L519.9 596.1L520.4 595.9L520.8 595.9L521.3 596.5L521.7 597.2L522.2 597.9L522.6 598.5L523.1 599.2L523.5 599.4L524.0 599.5L524.4 599.7L524.9 599.9L525.3 600.1L525.8 601.0L526.2 601.9L526.7 602.8L527.1 603.7L527.6 604.6L528.0 604.3L528.5 604.1L529.0 603.9L529.4 603.6L529.9 603.4L530.3 604.6L530.8 605.8L531.2 606.9L531.7 608.1L532.1 609.1L532.6 608.8L533.0 608.4L533.5 608.1L533.9 607.7L534.4 607.4L534.8 608.1L535.3 608.8L535.7 609.5L536.2 610.2L536.6 610.9L537.1 610.9L537.5 610.9L538.0 610.9L538.4 610.8L538.9 610.8L539.3 611.5L539.8 612.1L540.3 612.8L540.7 613.4L541.2 614.0L541.6 614.0L542.1 614.0L542.5 613.9L543.0 613.9L543.4 614.0L543.9 614.8L544.3 615.6L544.8 616.4L545.2 617.3L545.7 618.0L546.1 617.8L546.6 617.5L547.0 617.2L547.5 616.9L547.9 616.7L548.4 617.5L548.8 618.4L549.3 619.2L549.7 620.0L550.2 620.8L550.7 620.7L551.1 620.5L551.6 620.3L552.0 620.1L552.5 620.0L552.9 620.6L553.4 621.3L553.8 621.9L554.3 622.5L554.7 623.1L555.2 622.9L555.6 622.8L556.1 622.6L556.5 622.4L557.0 622.3L557.4 622.9L557.9 623.4L558.3 624.0L558.8 624.6L559.2 625.1L559.7 625.1L560.1 625.2L560.6 625.2L561.1 625.2L561.5 625.3L562.0 626.3L562.4 627.3L562.9 628.2L563.3 629.2L563.8 630.1L564.2 630.0L564.7 629.9L565.1 629.8L565.6 629.6L566.0 629.6L566.5 630.1L566.9 630.6L567.4 631.1L567.8 631.7L568.3 632.1L568.7 631.6L569.2 631.1L569.6 630.6L570.1 630.1L570.5 629.7L571.0 630.6L571.5 631.5L571.9 632.3L572.4 633.2L572.8 634.0L573.3 633.6L573.7 633.2L574.2 632.7L574.6 632.3L575.1 631.9L575.5 632.7L576.0 633.6L576.4 634.4L576.9 635.2L577.3 635.9L577.8 635.2L578.2 634.5L578.7 633.8L579.1 633.1L579.6 632.5L580.0 633.5L580.5 634.5L580.9 635.5L581.4 636.5L581.8 637.4L582.3 636.9L582.8 636.4L583.2 635.8L583.7 635.3L584.1 634.9L584.6 635.7L585.0 636.6L585.5 637.4L585.9 638.3L586.4 639.1L586.8 639.1L587.3 639.1L587.7 639.0L588.2 639.0L588.6 639.0L589.1 639.2L589.5 639.4L590.0 639.6L590.4 639.8L590.9 640.0L591.3 639.6L591.8 639.3L592.2 638.9L592.7 638.6L593.2 638.3L593.6 639.4L594.1 640.5L594.5 641.6L595.0 642.7L595.4 643.7L595.9 643.5L596.3 643.2L596.8 642.9L597.2 642.6L597.7 642.3L598.1 642.9L598.6 643.4L599.0 643.9L599.5 644.4L599.9 644.9L600.4 644.7L600.8 644.5L601.3 644.3L601.7 644.1L602.2 643.9L602.6 644.7L603.1 645.6L603.6 646.4L604.0 647.2L604.5 647.9L604.9 647.6L605.4 647.2L605.8 646.9L606.3 646.5L606.7 646.2L607.2 646.9L607.6 647.5L608.1 648.2L608.5 648.8L609.0 649.5L609.4 649.3L609.9 649.1L610.3 648.9L610.8 648.7L611.2 648.5L611.7 649.1L612.1 649.7L612.6 650.3L613.0 650.9L613.5 651.4L613.9 651.1L614.4 650.8L614.9 650.5L615.3 650.2L615.8 649.9L616.2 650.4L616.7 651.0L617.1 651.5L617.6 652.0L618.0 652.5L618.5 652.6L618.9 652.8L619.4 652.9L619.8 653.0L620.3 653.2L620.7 653.7L621.2 654.2L621.6 654.7L622.1 655.2L622.5 655.7L623.0 655.7L623.4 655.7L623.9 655.7L624.3 655.7L624.8 655.7L625.3 656.3L625.7 656.9L626.2 657.4L626.6 658.0L627.1 658.5L627.5 658.0L628.0 657.6L628.4 657.1L628.9 656.6L629.3 656.2L629.8 657.0L630.2 657.8L630.7 658.6L631.1 657.5L631.6 657.5L631.7 831.9L631.8 831.9L632.9 833.4L634.1 834.9L635.2 836.4L636.3 837.9L637.5 839.4L638.6 841.0L639.7 842.5L640.8 843.9L642.0 845.2L643.1 846.4L644.2 847.5L645.3 848.5L646.5 849.4L647.6 850.1L648.7 850.7L649.9 851.2L651.0 851.7L652.1 852.2L653.2 852.6L654.4 853.0L655.5 853.3L656.6 853.5L657.8 853.7L658.9 853.9L660.0 854.1L661.1 854.3L662.3 854.4L663.4 854.6L664.5 854.7L665.7 854.9L666.8 855.0L667.9 855.1L669.0 855.1L670.2 855.2L671.3 855.2L672.4 855.3L673.6 855.3L674.7 855.3L675.8 855.3L676.9 855.4L678.1 855.4L679.2 855.4L680.3 855.4L681.5 855.5L682.6 855.5L683.7 855.5L684.8 855.5L686.0 855.5L687.1 855.5L688.2 855.6L689.4 855.6L690.5 855.6L691.6 855.6L692.7 855.6L693.9 855.6L695.0 855.6L696.1 855.6L697.3 855.6L698.4 855.6L699.5 855.6L700.6 855.6L701.8 855.7L702.9 855.7L704.0 855.7L705.2 855.7L706.3 855.7L707.4 855.7L708.5 855.7L709.7 855.7L710.8 855.7L711.9 855.7L713.1 855.7L714.2 855.7L715.3 855.7L716.4 855.7L717.6 855.7L718.7 855.7L719.8 855.7L721.0 855.7L722.1 855.7L723.2 855.7L724.3 855.7L725.5 855.7L726.6 855.7L727.7 855.7L728.9 855.7L730.0 855.7L731.1 855.7L732.2 855.7L733.4 855.7L734.5 855.7L735.6 855.7L736.8 855.7L737.9 855.7L739.0 855.7L740.1 855.7L741.3 855.7L742.4 855.7L743.5 855.7L744.7 855.7L745.8 855.7L746.9 855.7L748.0 855.7L749.2 855.7L750.3 855.7L751.4 855.7L752.6 855.7L753.7 855.7L754.8 855.7L755.9 855.7L757.1 855.7L758.2 855.7L759.3 855.7L760.5 855.7L761.6 855.7L762.7 855.7L763.8 855.7L765.0 855.7L766.1 855.7L767.2 855.7L768.4 855.7L769.5 855.7L770.6 855.7L771.7 855.7L772.9 855.7L774.0 855.7L775.1 855.7L776.3 855.7L777.4 855.7L778.5 855.7L779.6 855.7L780.8 855.7L781.9 855.7L783.0 855.7L784.2 855.7L785.3 855.7L786.4 855.7L787.5 855.7L788.7 855.7L789.8 855.7L790.9 855.7L792.1 855.7L793.2 855.7L794.3 855.7L795.4 855.7L796.6 855.7L797.7 855.7L798.8 855.7L800.0 855.7L801.1 855.7L802.2 855.7L803.3 855.7L804.5 855.7L805.6 855.7L806.7 855.7L807.9 855.7L809.0 855.7L810.1 855.7L811.2 855.7L812.4 855.7L813.5 855.7L814.6 855.7L815.7 855.7L816.9 855.7L818.0 855.7L819.1 855.7L820.3 855.7L821.4 855.7L822.5 855.7L823.6 855.7L824.8 855.7L825.9 855.7L827.0 855.7L828.2 855.7L829.3 855.7L830.4 855.7L831.5 855.7L832.7 855.7L833.8 855.7L834.9 855.7L836.1 855.7L837.2 855.7L838.3 855.7L839.4 855.7L840.6 855.7L841.7 855.7L842.8 855.7L844.0 855.7L845.1 855.7L846.2 855.7L847.3 855.7L848.5 855.7L849.6 855.7L850.7 855.7L851.9 855.7L853.0 855.7L854.1 855.7L855.2 855.7L856.4 855.7L856.5 855.7L856.6 709.8L856.6 709.8L861.7 684.3L861.8 684.3L861.9 634.3L861.9 634.3L862.3 637.4L862.8 637.5L863.2 637.4L863.7 637.2L864.2 636.9L864.6 636.5L865.1 636.0L865.5 635.4L866.0 635.0L866.4 635.2L866.9 636.1L867.3 636.8L867.8 637.5L868.2 638.3L868.7 639.2L869.1 640.4L869.6 641.9L870.0 643.2L870.5 644.4L870.9 645.4L871.4 646.1L871.8 646.3L872.3 646.5L872.7 646.8L873.2 646.9L873.6 647.5L874.1 648.4L874.6 649.4L875.0 650.3L875.5 651.2L875.9 651.7L876.4 651.9L876.8 652.1L877.3 652.2L877.7 652.4L878.2 652.8L878.6 653.5L879.1 654.2L879.5 654.9L880.0 655.6L880.4 655.9L880.9 655.8L881.3 655.7L881.8 655.6L882.2 655.5L882.7 655.8L883.1 656.6L883.6 657.3L884.0 658.1L884.5 658.9L885.0 659.3L885.4 659.3L885.9 659.3L886.3 659.4L886.8 659.4L887.2 659.6L887.7 660.1L888.1 660.5L888.6 661.0L889.0 661.4L889.5 661.7L889.9 661.7L890.4 661.6L890.8 661.6L891.3 661.6L891.7 661.8L892.2 662.4L892.6 662.9L893.1 663.4L893.5 663.9L894.0 664.1L894.4 664.0L894.9 663.9L895.3 663.8L895.8 663.7L896.3 663.9L896.7 664.3L897.2 664.7L897.6 665.1L898.1 665.5L898.5 665.7L899.0 665.4L899.4 665.2L899.9 665.0L900.3 664.8L900.8 664.9L901.2 665.3L901.7 665.7L902.1 666.1L902.6 666.5L903.0 666.7L903.5 666.6L903.9 666.5L904.4 666.3L904.8 666.2L905.3 666.4L905.7 667.0L906.2 667.6L906.7 668.1L907.1 668.7L907.6 668.9L908.0 668.7L908.5 668.5L908.9 668.3L909.4 668.1L909.8 668.4L910.3 669.1L910.7 669.8L911.2 670.5L911.6 671.2L912.1 671.4L912.5 671.0L913.0 670.7L913.4 670.3L913.9 670.0L914.3 670.2L914.8 671.1L915.2 671.9L915.7 672.8L916.1 673.7L916.6 674.0L917.1 673.8L917.5 673.6L918.0 673.5L918.4 673.3L918.9 673.6L919.3 674.6L919.8 675.5L920.2 676.4L920.7 677.4L921.1 677.6L921.6 677.2L922.0 676.7L922.5 676.3L922.9 675.8L923.4 675.9L923.8 676.6L924.3 677.3L924.7 677.9L925.2 678.6L925.6 678.9L926.1 678.9L926.5 678.9L927.0 678.9L927.4 678.9L927.9 679.2L928.4 679.9L928.8 680.6L929.3 681.3L929.7 682.0L930.2 682.2L930.6 682.0L931.1 681.8L931.5 681.5L932.0 681.3L932.4 681.5L932.9 682.1L933.3 682.7L933.8 683.2L934.2 683.8L934.7 684.1L935.1 684.0L935.6 684.0L936.0 683.9L936.5 683.8L936.9 683.9L937.4 684.2L937.8 684.5L938.3 684.8L938.8 685.1L939.2 685.1L939.7 684.9L940.1 684.6L940.6 684.4L941.0 684.2L941.5 684.2L941.9 684.6L942.4 685.0L942.8 685.3L943.3 685.7L943.7 685.7L944.2 685.4L944.6 685.0L945.1 684.7L945.5 684.4L946.0 684.6L946.4 685.4L946.9 686.3L947.3 687.1L947.8 688.0L948.2 688.1L948.7 687.6L949.2 687.0L949.6 686.5L950.1 685.9L950.5 686.0L951.0 686.7L951.4 687.4L951.9 688.1L952.3 688.8L952.8 688.9L953.2 688.5L953.7 688.0L954.1 687.6L954.6 687.2L955.0 687.4L955.5 688.2L955.9 689.1L956.4 690.0L956.8 690.8L957.3 691.1L957.7 690.7L958.2 690.4L958.6 690.0L959.1 689.7L959.5 689.7L960.0 690.3L960.5 690.9L960.9 691.4L961.4 692.0L961.8 692.0L962.3 691.4L962.7 690.8L963.2 690.1L963.6 689.5L964.1 689.5L964.5 690.0L965.0 690.5L965.4 691.0L965.9 691.6L966.3 691.7L966.8 691.4L967.2 691.2L967.7 690.9L968.1 690.7L968.6 690.7L969.0 690.9L969.5 691.1L969.9 691.3L970.4 691.5L970.9 691.6L971.3 691.5L971.8 691.4L972.2 691.3L972.7 691.2L973.1 691.6L973.6 692.4L974.0 693.2L974.5 694.0L974.9 694.8L975.4 695.1L975.8 694.7L976.3 694.3L976.7 693.9L977.2 693.5L977.6 693.7L978.1 694.3L978.5 695.0L979.0 695.7L979.4 696.3L979.9 696.4L980.3 695.8L980.8 695.2L981.3 694.7L981.7 694.1L982.2 693.9L982.6 694.2L983.1 694.5L983.5 694.8L984.0 695.1L984.4 695.2L984.9 695.1L985.3 695.1L985.8 695.0L986.2 695.0L986.7 695.3L987.1 696.1L987.6 696.8L988.0 697.6L988.5 698.3L988.9 698.4L989.4 697.7L989.8 697.1L990.3 696.4L990.7 695.8L991.2 695.8L991.6 696.4L992.1 697.1L992.6 697.7L993.0 698.4L993.5 698.6L993.9 698.5L994.4 698.3L994.8 698.1L995.3 697.9L995.7 698.0L996.2 698.4L996.6 698.7L997.1 699.1L997.5 699.4L998.0 699.6L998.4 699.6L998.9 699.6L999.3 699.6L999.8 699.5L1000.2 699.7L1000.7 700.2L1001.1 700.7L1001.6 701.1L1002.0 701.6L1002.5 701.7L1003.0 701.5L1003.4 701.2L1003.9 701.0L1004.3 700.8L1004.8 700.9L1005.2 701.3L1005.7 701.8L1006.1 702.3L1006.6 702.7L1007.0 702.7L1007.5 702.1L1007.9 701.5L1008.4 700.9L1008.8 700.3L1009.3 700.3L1009.7 701.1L1010.2 701.8L1010.6 702.6L1011.1 703.3L1011.5 703.4L1012.0 702.7L1012.4 702.1L1012.9 701.5L1013.4 700.8L1013.8 700.9L1014.3 701.7L1014.7 702.4L1015.2 703.2L1015.6 704.0L1016.1 704.3L1016.5 704.0L1017.0 703.7L1017.4 703.5L1017.9 703.2L1018.3 703.3L1018.8 703.9L1019.2 704.5L1019.7 705.1L1020.1 705.7L1020.6 705.9L1021.0 705.6L1021.5 705.3L1021.9 705.0L1022.4 704.8L1022.8 704.8L1023.3 705.2L1023.8 705.5L1024.2 705.9L1024.7 706.2L1025.1 706.4L1025.6 706.3L1026.0 706.2L1026.5 706.1L1026.9 706.0L1027.4 706.1L1027.8 706.3L1028.3 706.6L1028.7 706.9L1029.2 707.1L1029.6 707.0L1030.1 706.6L1030.5 706.1L1031.0 705.6L1031.4 705.2L1031.9 705.2L1032.3 705.9L1032.8 706.5L1033.2 707.1L1033.7 707.7L1034.1 707.9L1034.6 707.5L1035.1 707.1L1035.5 706.7L1036.0 706.3L1036.4 706.3L1036.9 706.7L1037.3 707.1L1037.8 707.4L1038.2 707.8L1038.7 707.9L1039.1 707.7L1039.6 707.4L1040.0 707.2L1040.5 707.0L1040.9 707.2L1041.4 707.9L1041.8 708.6L1042.3 709.2L1042.7 709.9L1043.2 710.0L1043.6 709.5L1044.1 709.0L1044.5 708.5L1045.0 708.0L1045.5 708.1L1045.9 708.9L1046.4 709.7L1046.8 710.5L1047.3 711.3L1047.7 711.5L1048.2 711.1L1048.6 710.7L1049.1 710.3L1049.5 709.8L1050.0 709.9L1050.4 710.4L1050.9 711.0L1051.3 711.6L1051.8 712.1L1052.2 712.3L1052.7 712.0L1053.1 711.8L1053.6 711.5L1054.0 711.2L1054.5 711.4L1054.9 712.0L1055.4 712.6L1055.9 713.2L1056.3 713.8L1056.8 714.0L1057.2 713.8L1057.7 713.6L1058.1 713.5L1058.6 713.3L1059.0 713.4L1059.5 713.8L1059.9 714.1L1060.4 714.5L1060.8 714.9L1061.3 714.9L1061.7 714.6L1062.2 714.2L1062.6 713.8L1063.1 713.5L1063.5 713.5L1064.0 713.9L1064.4 714.4L1064.9 714.8L1065.3 715.2L1065.8 715.2L1066.2 714.6L1066.7 714.0L1067.2 713.4L1067.6 712.8L1068.1 712.8L1068.5 713.4L1069.0 714.1L1069.4 714.7L1069.9 715.3L1070.3 715.5L1070.8 715.1L1071.2 714.7L1071.7 714.4L1072.1 714.0L1072.6 714.0L1073.0 714.3L1073.5 714.5L1073.9 714.8L1074.4 715.1L1074.8 715.1L1075.3 714.9L1075.7 714.7L1076.2 714.5L1076.6 714.2L1077.1 714.4L1077.6 715.1L1078.0 715.7L1078.5 716.4L1078.9 717.1L1079.4 717.2L1079.8 716.6L1080.3 716.1L1080.7 715.6L1081.2 715.1L1081.6 715.2L1082.1 716.0L1082.5 716.8L1083.0 717.6L1083.4 717.4L1083.6 717.4L1083.7 838.2L1083.9 838.2L1085.0 840.0L1086.1 841.7L1087.3 843.3L1088.4 844.6L1089.5 845.7L1090.7 846.7L1091.8 847.7L1092.9 848.5L1094.1 849.3L1095.2 849.9L1096.3 850.5L1097.5 851.0L1098.6 851.5L1099.7 852.0L1100.9 852.4L1102.0 852.8L1103.1 853.1L1104.3 853.4L1105.4 853.6L1106.5 853.8L1107.7 854.0L1108.8 854.2L1109.9 854.4L1111.0 854.5L1112.2 854.7L1113.3 854.8L1114.4 854.9L1115.6 855.0L1116.7 855.1L1117.8 855.2L1119.0 855.2L1120.1 855.3L1121.2 855.3L1122.4 855.3L1123.5 855.3L1124.6 855.4L1125.8 855.4L1126.9 855.4L1128.0 855.4L1129.2 855.4L1130.3 855.5L1131.4 855.5L1132.6 855.5L1133.7 855.5L1134.8 855.5L1135.9 855.5L1137.1 855.5L1138.2 855.6L1139.3 855.6L1140.5 855.6L1141.6 855.6L1142.7 855.6L1143.9 855.6L1145.0 855.6L1146.1 855.6L1147.3 855.6L1148.4 855.6L1149.5 855.6L1150.7 855.6L1151.8 855.6L1152.9 855.6L1154.1 855.7L1155.2 855.7L1156.3 855.7L1157.5 855.7L1158.6 855.7L1159.7 855.7L1160.8 855.7L1162.0 855.7L1163.1 855.7L1164.2 855.7L1165.4 855.7L1166.5 855.7L1167.6 855.7L1168.8 855.7L1169.9 855.7L1171.0 855.7L1172.2 855.7L1173.3 855.7L1174.4 855.7L1175.6 855.7L1176.7 855.7L1177.8 855.7L1179.0 855.7L1180.1 855.7L1181.2 855.7L1182.4 855.7L1183.5 855.7L1184.6 855.7L1185.7 855.7L1186.9 855.7L1188.0 855.7L1189.1 855.7L1190.3 855.7L1191.4 855.7L1192.5 855.7L1193.7 855.7L1194.8 855.7L1195.9 855.7L1197.1 855.7L1198.2 855.7L1199.3 855.7L1200.5 855.7L1201.6 855.7L1202.7 855.7L1203.9 855.7L1205.0 855.7L1206.1 855.7L1207.3 855.7L1208.4 855.7L1209.5 855.7L1210.7 855.7L1211.8 855.7L1212.9 855.7L1214.0 855.7L1215.2 855.7L1216.3 855.7L1217.4 855.7L1218.6 855.7L1219.7 855.7L1220.8 855.7L1222.0 855.7L1223.1 855.7L1224.2 855.7L1225.4 855.7L1226.5 855.7L1227.6 855.7L1228.8 855.7L1229.9 855.7L1231.0 855.7L1232.2 855.7L1233.3 855.7L1234.4 855.7L1235.6 855.7L1236.7 855.7L1237.8 855.7L1238.9 855.7L1240.1 855.7L1241.2 855.7L1242.3 855.7L1243.5 855.7L1244.6 855.7L1245.7 855.7L1246.9 855.7L1248.0 855.7L1249.1 855.7L1250.3 855.7L1251.4 855.7L1252.5 855.7L1253.7 855.7L1254.8 855.7L1255.9 855.7L1257.1 855.7L1258.2 855.7L1259.3 855.7L1260.5 855.7L1261.6 855.7L1262.7 855.7L1263.8 855.7L1265.0 855.7L1266.1 855.7L1267.2 855.7L1268.4 855.7L1269.5 855.7L1270.6 855.7L1271.8 855.7L1272.9 855.7L1274.0 855.7L1275.2 855.7L1276.3 855.7L1277.4 855.7L1278.6 855.7L1279.7 855.7L1280.8 855.7L1282.0 855.7L1283.1 855.7L1284.2 855.7L1285.4 855.7L1286.5 855.7L1287.6 855.7L1288.7 855.7L1289.9 855.7L1291.0 855.7L1292.1 855.7L1293.3 855.7L1294.4 855.7L1295.5 855.7L1296.7 855.7L1297.8 855.7L1298.9 855.7L1300.1 855.7L1301.2 855.7L1302.3 855.7L1303.5 855.7L1304.6 855.7L1305.7 855.7L1306.9 855.7L1308.0 855.7L1309.1 855.7L1310.3 855.7L1311.4 855.7L1312.5 855.7L1313.7 855.7"/><path stroke="#ff00ff" d="M182.9 856.9L409.1 856.9L409.5 856.9L409.6 711.2L409.7 713.3L410.2 714.5L410.6 715.0L411.1 715.5L411.5 716.1L412.0 716.8L412.4 717.6L412.9 718.7L413.4 720.0L413.8 721.4L414.3 723.0L414.7 724.7L415.2 726.3L415.6 727.8L416.1 729.3L416.5 730.7L417.0 732.0L417.4 733.2L417.9 734.3L418.3 735.4L418.8 736.5L419.2 737.5L419.7 738.2L420.1 739.0L420.6 739.6L421.0 740.3L421.5 741.0L422.0 742.0L422.4 742.9L422.9 743.8L423.3 744.7L423.8 745.4L424.2 745.9L424.7 746.4L425.1 746.8L425.6 747.2L426.0 747.7L426.5 748.4L426.9 749.2L427.4 749.9L427.8 750.6L428.3 751.2L428.7 751.3L429.2 751.5L429.6 751.7L430.1 751.8L430.6 752.0L431.0 752.6L431.5 753.2L431.9 753.7L432.4 754.3L432.8 754.8L433.3 755.1L433.7 755.4L434.2 755.7L434.6 755.9L435.1 756.3L435.5 756.9L436.0 757.5L436.4 758.1L436.9 758.6L437.3 759.1L437.8 759.2L438.3 759.3L438.7 759.3L439.2 759.4L439.6 759.6L440.1 760.0L440.5 760.5L441.0 760.9L441.4 761.3L441.9 761.7L442.3 761.7L442.8 761.7L443.2 761.8L443.7 761.8L444.1 761.9L444.6 762.4L445.0 762.8L445.5 763.3L445.9 763.7L446.4 764.1L446.9 764.1L447.3 764.1L447.8 764.1L448.2 764.1L448.7 764.2L449.1 764.6L449.6 765.0L450.0 765.4L450.5 765.8L450.9 766.1L451.4 766.2L451.8 766.2L452.3 766.2L452.7 766.2L453.2 766.3L453.6 766.6L454.1 767.0L454.6 767.3L455.0 767.6L455.5 767.9L455.9 767.9L456.4 768.0L456.8 768.0L457.3 768.1L457.7 768.2L458.2 768.6L458.6 769.0L459.1 769.3L459.5 769.7L460.0 770.0L460.4 769.9L460.9 769.9L461.3 769.9L461.8 769.8L462.2 769.9L462.7 770.2L463.2 770.5L463.6 770.8L464.1 771.1L464.5 771.4L465.0 771.5L465.4 771.5L465.9 771.6L466.3 771.7L466.8 771.9L467.2 772.3L467.7 772.6L468.1 773.0L468.6 773.4L469.0 773.6L469.5 773.6L469.9 773.5L470.4 773.4L470.9 773.3L471.3 773.3L471.8 773.8L472.2 774.2L472.7 774.6L473.1 775.1L473.6 775.4L474.0 775.4L474.5 775.4L474.9 775.5L475.4 775.5L475.8 775.5L476.3 775.8L476.7 776.0L477.2 776.2L477.6 776.5L478.1 776.6L478.5 776.6L479.0 776.6L479.5 776.5L479.9 776.5L480.4 776.5L480.8 776.9L481.3 777.2L481.7 777.5L482.2 777.9L482.6 778.1L483.1 778.0L483.5 777.9L484.0 777.8L484.4 777.6L484.9 777.6L485.3 778.0L485.8 778.3L486.2 778.6L486.7 778.9L487.2 779.1L487.6 779.0L488.1 779.0L488.5 778.9L489.0 778.8L489.4 778.8L489.9 779.1L490.3 779.4L490.8 779.7L491.2 779.9L491.7 780.1L492.1 780.1L492.6 780.1L493.0 780.0L493.5 780.0L493.9 780.1L494.4 780.3L494.8 780.6L495.3 780.9L495.8 781.2L496.2 781.4L496.7 781.2L497.1 781.1L497.6 781.0L498.0 780.8L498.5 780.8L498.9 781.1L499.4 781.4L499.8 781.7L500.3 782.0L500.7 782.2L501.2 782.2L501.6 782.1L502.1 782.1L502.5 782.0L503.0 782.0L503.5 782.1L503.9 782.2L504.4 782.3L504.8 782.4L505.3 782.5L505.7 782.6L506.2 782.6L506.6 782.6L507.1 782.6L507.5 782.7L508.0 782.9L508.4 783.1L508.9 783.3L509.3 783.6L509.8 783.7L510.2 783.6L510.7 783.5L511.1 783.5L511.6 783.4L512.1 783.4L512.5 783.6L513.0 783.9L513.4 784.2L513.9 784.4L514.3 784.6L514.8 784.6L515.2 784.5L515.7 784.5L516.1 784.4L516.6 784.5L517.0 784.8L517.5 785.1L517.9 785.5L518.4 785.8L518.8 786.0L519.3 785.8L519.7 785.6L520.2 785.4L520.7 785.2L521.1 785.2L521.6 785.6L522.0 786.0L522.5 786.4L522.9 786.8L523.4 787.0L523.8 786.9L524.3 786.8L524.7 786.6L525.2 786.5L525.6 786.4L526.1 786.7L526.5 787.0L527.0 787.2L527.4 787.5L527.9 787.6L528.4 787.4L528.8 787.3L529.3 787.1L529.7 787.0L530.2 786.9L530.6 787.1L531.1 787.2L531.5 787.4L532.0 787.6L532.4 787.7L532.9 787.7L533.3 787.6L533.8 787.5L534.2 787.5L534.7 787.5L535.1 787.7L535.6 788.0L536.0 788.2L536.5 788.4L537.0 788.6L537.4 788.5L537.9 788.4L538.3 788.3L538.8 788.3L539.2 788.3L539.7 788.5L540.1 788.8L540.6 789.1L541.0 789.3L541.5 789.5L541.9 789.4L542.4 789.3L542.8 789.1L543.3 789.0L543.7 789.0L544.2 789.3L544.7 789.5L545.1 789.8L545.6 790.1L546.0 790.2L546.5 790.1L546.9 789.9L547.4 789.7L547.8 789.6L548.3 789.5L548.7 789.9L549.2 790.2L549.6 790.5L550.1 790.8L550.5 790.9L551.0 790.7L551.4 790.5L551.9 790.3L552.3 790.1L552.8 790.0L553.3 790.3L553.7 790.5L554.2 790.7L554.6 790.9L555.1 791.0L555.5 791.0L556.0 790.9L556.4 790.9L556.9 790.8L557.3 790.8L557.8 791.0L558.2 791.1L558.7 791.3L559.1 791.4L559.6 791.5L560.0 791.4L560.5 791.3L561.0 791.2L561.4 791.1L561.9 791.0L562.3 791.1L562.8 791.3L563.2 791.4L563.7 791.5L564.1 791.6L564.6 791.6L565.0 791.5L565.5 791.5L565.9 791.5L566.4 791.5L566.8 791.6L567.3 791.7L567.7 791.8L568.2 791.9L568.6 792.0L569.1 791.9L569.6 791.8L570.0 791.8L570.5 791.7L570.9 791.7L571.4 792.0L571.8 792.3L572.3 792.5L572.7 792.8L573.2 793.0L573.6 792.9L574.1 792.8L574.5 792.7L575.0 792.6L575.4 792.5L575.9 792.7L576.3 792.9L576.8 793.0L577.3 793.2L577.7 793.3L578.2 793.1L578.6 792.9L579.1 792.8L579.5 792.6L580.0 792.6L580.4 792.9L580.9 793.2L581.3 793.5L581.8 793.8L582.2 793.9L582.7 793.7L583.1 793.5L583.6 793.3L584.0 793.0L584.5 792.9L584.9 793.1L585.4 793.3L585.9 793.5L586.3 793.7L586.8 793.9L587.2 793.8L587.7 793.7L588.1 793.6L588.6 793.5L589.0 793.4L589.5 793.6L589.9 793.7L590.4 793.8L590.8 794.0L591.3 794.1L591.7 794.0L592.2 794.0L592.6 793.9L593.1 793.8L593.5 793.8L594.0 794.0L594.5 794.1L594.9 794.2L595.4 794.4L595.8 794.5L596.3 794.5L596.7 794.5L597.2 794.5L597.6 794.6L598.1 794.6L598.5 794.7L599.0 794.8L599.4 794.8L599.9 794.9L600.3 795.0L600.8 795.0L601.2 794.9L601.7 794.9L602.2 794.9L602.6 795.0L603.1 795.2L603.5 795.5L604.0 795.7L604.4 796.0L604.9 796.1L605.3 795.9L605.8 795.7L606.2 795.5L606.7 795.3L607.1 795.2L607.6 795.3L608.0 795.4L608.5 795.6L608.9 795.7L609.4 795.8L609.8 795.5L610.3 795.3L610.8 795.1L611.2 794.9L611.7 794.8L612.1 795.1L612.6 795.4L613.0 795.7L613.5 795.9L613.9 796.1L614.4 796.0L614.8 795.9L615.3 795.8L615.7 795.6L616.2 795.6L616.6 795.8L617.1 795.9L617.5 796.1L618.0 796.3L618.5 796.4L618.9 796.3L619.4 796.2L619.8 796.2L620.3 796.1L620.7 796.1L621.2 796.3L621.6 796.5L622.1 796.8L622.5 797.0L623.0 797.1L623.4 796.9L623.9 796.7L624.3 796.5L624.8 796.4L625.2 796.3L625.7 796.5L626.1 796.7L626.6 797.0L627.1 797.2L627.5 797.4L628.0 797.3L628.4 797.1L628.9 797.0L629.3 796.9L629.8 796.9L630.2 797.2L630.7 797.4L631.1 797.7L631.6 797.5L631.8 797.5L631.9 854.4L632.0 854.4L856.4 854.4L856.5 854.4L856.6 777.0L856.6 777.0L857.1 777.3L857.6 777.5L858.0 777.7L858.5 777.7L858.9 777.7L859.4 777.7L859.8 777.8L860.3 777.9L860.7 778.4L861.2 778.8L861.6 779.3L862.1 779.8L862.5 780.3L863.0 780.5L863.4 780.8L863.9 781.3L864.3 782.0L864.8 782.8L865.2 784.1L865.7 785.4L866.1 786.7L866.6 787.9L867.0 789.0L867.5 789.6L868.0 790.0L868.4 790.2L868.9 790.5L869.3 790.7L869.8 791.1L870.2 791.6L870.7 792.0L871.1 792.4L871.6 792.8L872.0 792.8L872.5 792.8L872.9 792.9L873.4 792.9L873.8 792.9L874.3 793.3L874.7 793.6L875.2 794.0L875.6 794.4L876.1 794.7L876.5 794.7L877.0 794.6L877.4 794.6L877.9 794.5L878.4 794.5L878.8 794.8L879.3 795.1L879.7 795.4L880.2 795.7L880.6 796.0L881.1 796.1L881.5 796.1L882.0 796.2L882.4 796.3L882.9 796.3L883.3 796.6L883.8 796.9L884.2 797.1L884.7 797.4L885.1 797.6L885.6 797.5L886.0 797.3L886.5 797.1L886.9 797.0L887.4 796.8L887.8 797.1L888.3 797.4L888.8 797.7L889.2 798.0L889.7 798.3L890.1 798.3L890.6 798.3L891.0 798.3L891.5 798.3L891.9 798.2L892.4 798.4L892.8 798.5L893.3 798.7L893.7 798.8L894.2 798.9L894.6 798.9L895.1 798.9L895.5 798.8L896.0 798.8L896.4 798.7L896.9 799.0L897.3 799.2L897.8 799.4L898.2 799.6L898.7 799.8L899.2 799.8L899.6 799.7L900.1 799.6L900.5 799.5L901.0 799.4L901.4 799.5L901.9 799.7L902.3 799.8L902.8 800.0L903.2 800.1L903.7 800.0L904.1 799.9L904.6 799.9L905.0 799.8L905.5 799.7L905.9 799.9L906.4 800.0L906.8 800.2L907.3 800.3L907.7 800.5L908.2 800.4L908.7 800.3L909.1 800.2L909.6 800.1L910.0 800.0L910.5 800.2L910.9 800.4L911.4 800.6L911.8 800.9L912.3 801.1L912.7 800.9L913.2 800.7L913.6 800.5L914.1 800.4L914.5 800.2L915.0 800.3L915.4 800.4L915.9 800.5L916.3 800.7L916.8 800.8L917.2 800.6L917.7 800.5L918.1 800.3L918.6 800.2L919.1 800.0L919.5 800.3L920.0 800.6L920.4 800.8L920.9 801.1L921.3 801.4L921.8 801.2L922.2 801.1L922.7 801.0L923.1 800.9L923.6 800.8L924.0 801.0L924.5 801.2L924.9 801.5L925.4 801.7L925.8 801.9L926.3 801.7L926.7 801.6L927.2 801.4L927.6 801.2L928.1 801.1L928.5 801.3L929.0 801.6L929.5 801.8L929.9 802.0L930.4 802.3L930.8 802.1L931.3 801.9L931.7 801.6L932.2 801.4L932.6 801.2L933.1 801.4L933.5 801.6L934.0 801.8L934.4 802.1L934.9 802.3L935.3 802.1L935.8 801.9L936.2 801.7L936.7 801.5L937.1 801.3L937.6 801.6L938.0 801.8L938.5 802.1L938.9 802.3L939.4 802.6L939.9 802.5L940.3 802.4L940.8 802.3L941.2 802.2L941.7 802.1L942.1 802.3L942.6 802.4L943.0 802.6L943.5 802.8L943.9 802.9L944.4 802.9L944.8 802.8L945.3 802.7L945.7 802.6L946.2 802.6L946.6 802.6L947.1 802.7L947.5 802.8L948.0 802.8L948.4 802.9L948.9 802.8L949.3 802.7L949.8 802.6L950.3 802.6L950.7 802.5L951.2 802.6L951.6 802.7L952.1 802.8L952.5 802.9L953.0 802.9L953.4 802.8L953.9 802.7L954.3 802.6L954.8 802.5L955.2 802.3L955.7 802.5L956.1 802.7L956.6 802.9L957.0 803.1L957.5 803.3L957.9 803.2L958.4 803.1L958.8 803.0L959.3 802.9L959.7 802.8L960.2 802.9L960.7 803.1L961.1 803.3L961.6 803.4L962.0 803.6L962.5 803.4L962.9 803.3L963.4 803.1L963.8 803.0L964.3 802.8L964.7 803.1L965.2 803.4L965.6 803.6L966.1 803.9L966.5 804.2L967.0 804.0L967.4 803.8L967.9 803.6L968.3 803.4L968.8 803.2L969.2 803.4L969.7 803.6L970.2 803.9L970.6 804.1L971.1 804.3L971.5 804.0L972.0 803.8L972.4 803.5L972.9 803.2L973.3 803.0L973.8 803.2L974.2 803.4L974.7 803.7L975.1 803.9L975.6 804.1L976.0 804.0L976.5 803.9L976.9 803.7L977.4 803.6L977.8 803.5L978.3 803.7L978.7 803.9L979.2 804.0L979.6 804.2L980.1 804.4L980.6 804.3L981.0 804.1L981.5 804.0L981.9 803.8L982.4 803.7L982.8 803.9L983.3 804.0L983.7 804.2L984.2 804.4L984.6 804.5L985.1 804.4L985.5 804.3L986.0 804.2L986.4 804.1L986.9 804.0L987.3 804.2L987.8 804.4L988.2 804.6L988.7 804.8L989.1 805.0L989.6 804.8L990.0 804.6L990.5 804.4L991.0 804.2L991.4 804.0L991.9 804.2L992.3 804.4L992.8 804.6L993.2 804.8L993.7 805.0L994.1 804.9L994.6 804.7L995.0 804.6L995.5 804.4L995.9 804.3L996.4 804.5L996.8 804.7L997.3 804.9L997.7 805.0L998.2 805.2L998.6 805.1L999.1 805.0L999.5 804.8L1000.0 804.7L1000.4 804.5L1000.9 804.7L1001.4 804.9L1001.8 805.1L1002.3 805.3L1002.7 805.5L1003.2 805.3L1003.6 805.2L1004.1 805.0L1004.5 804.8L1005.0 804.7L1005.4 804.9L1005.9 805.2L1006.3 805.4L1006.8 805.6L1007.2 805.8L1007.7 805.7L1008.1 805.5L1008.6 805.3L1009.0 805.2L1009.5 805.0L1009.9 805.3L1010.4 805.5L1010.8 805.7L1011.3 806.0L1011.8 806.2L1012.2 806.1L1012.7 805.9L1013.1 805.8L1013.6 805.7L1014.0 805.5L1014.5 805.7L1014.9 805.9L1015.4 806.0L1015.8 806.2L1016.3 806.4L1016.7 806.2L1017.2 806.0L1017.6 805.8L1018.1 805.5L1018.5 805.3L1019.0 805.6L1019.4 805.8L1019.9 806.1L1020.3 806.3L1020.8 806.6L1021.3 806.4L1021.7 806.2L1022.2 806.0L1022.6 805.8L1023.1 805.6L1023.5 805.8L1024.0 806.0L1024.4 806.1L1024.9 806.3L1025.3 806.5L1025.8 806.4L1026.2 806.4L1026.7 806.4L1027.1 806.4L1027.6 806.3L1028.0 806.5L1028.5 806.7L1028.9 806.8L1029.4 807.0L1029.8 807.2L1030.3 807.0L1030.7 806.9L1031.2 806.8L1031.7 806.6L1032.1 806.5L1032.6 806.7L1033.0 806.9L1033.5 807.0L1033.9 807.2L1034.4 807.4L1034.8 807.2L1035.3 807.1L1035.7 806.9L1036.2 806.8L1036.6 806.6L1037.1 806.8L1037.5 806.9L1038.0 807.1L1038.4 807.3L1038.9 807.5L1039.3 807.3L1039.8 807.2L1040.2 807.1L1040.7 807.0L1041.1 806.9L1041.6 807.1L1042.1 807.3L1042.5 807.4L1043.0 807.6L1043.4 807.8L1043.9 807.6L1044.3 807.4L1044.8 807.2L1045.2 807.0L1045.7 806.8L1046.1 807.1L1046.6 807.3L1047.0 807.5L1047.5 807.7L1047.9 807.9L1048.4 807.8L1048.8 807.6L1049.3 807.4L1049.7 807.2L1050.2 807.0L1050.6 807.1L1051.1 807.3L1051.5 807.4L1052.0 807.6L1052.5 807.7L1052.9 807.6L1053.4 807.4L1053.8 807.3L1054.3 807.1L1054.7 807.0L1055.2 807.1L1055.6 807.3L1056.1 807.5L1056.5 807.6L1057.0 807.8L1057.4 807.7L1057.9 807.6L1058.3 807.5L1058.8 807.5L1059.2 807.4L1059.7 807.5L1060.1 807.6L1060.6 807.7L1061.0 807.9L1061.5 808.0L1061.9 807.8L1062.4 807.6L1062.9 807.4L1063.3 807.2L1063.8 807.0L1064.2 807.2L1064.7 807.4L1065.1 807.5L1065.6 807.7L1066.0 807.9L1066.5 807.8L1066.9 807.8L1067.4 807.7L1067.8 807.7L1068.3 807.6L1068.7 807.8L1069.2 808.0L1069.6 808.2L1070.1 808.4L1070.5 808.6L1071.0 808.4L1071.4 808.2L1071.9 808.1L1072.4 807.9L1072.8 807.7L1073.3 807.8L1073.7 807.8L1074.2 807.9L1074.6 808.0L1075.1 808.0L1075.5 807.9L1076.0 807.9L1076.4 807.8L1076.9 807.7L1077.3 807.6L1077.8 807.9L1078.2 808.1L1078.7 808.3L1079.1 808.5L1079.6 808.7L1080.0 808.6L1080.5 808.4L1080.9 808.2L1081.4 808.0L1081.8 807.9L1082.3 808.1L1082.8 808.4L1083.2 808.3L1083.4 808.3L1083.6 861.1L1083.7 861.1L1084.8 859.1L1085.9 857.6L1087.1 856.5L1088.2 855.7L1089.3 855.0L1090.5 854.8L1091.6 854.8L1092.7 854.7L1093.9 854.7L1095.0 854.6L1096.1 854.6L1097.3 854.5L1098.4 854.5L1099.5 854.5L1100.7 854.5L1101.8 854.5L1102.9 854.4L1104.0 854.4L1105.2 854.4L1106.3 854.4L1107.4 854.4L1108.6 854.4L1109.7 854.4L1110.8 854.4L1112.0 854.4L1113.1 854.4L1114.2 854.4L1115.4 854.4L1116.5 854.4L1117.6 854.4L1118.8 854.4L1119.9 854.4L1121.0 854.4L1122.2 854.4L1123.3 854.4L1124.4 854.4L1125.6 854.4L1126.7 854.4L1127.8 854.4L1129.0 854.4L1130.1 854.4L1131.2 854.4L1132.4 854.4L1133.5 854.4L1134.6 854.4L1135.8 854.4L1136.9 854.4L1138.0 854.4L1139.2 854.4L1140.3 854.4L1141.4 854.4L1142.6 854.4L1143.7 854.4L1144.8 854.4L1146.0 854.4L1147.1 854.4L1148.2 854.4L1149.4 854.4L1150.5 854.4L1151.6 854.4L1152.8 854.4L1153.9 854.4L1155.0 854.4L1156.2 854.4L1157.3 854.4L1158.4 854.4L1159.6 854.4L1160.7 854.4L1161.8 854.4L1163.0 854.4L1164.1 854.4L1165.2 854.4L1166.4 854.4L1167.5 854.4L1168.6 854.4L1169.8 854.4L1170.9 854.4L1172.0 854.4L1173.2 854.4L1174.3 854.4L1175.4 854.4L1176.6 854.4L1177.7 854.4L1178.8 854.4L1180.0 854.4L1181.1 854.4L1182.2 854.4L1183.4 854.4L1184.5 854.4L1185.6 854.4L1186.8 854.4L1187.9 854.4L1189.0 854.4L1190.2 854.4L1191.3 854.4L1192.4 854.4L1193.6 854.4L1194.7 854.4L1195.8 854.4L1197.0 854.4L1198.1 854.4L1199.2 854.4L1200.4 854.4L1201.5 854.4L1202.6 854.4L1203.8 854.4L1204.9 854.4L1206.0 854.4L1207.2 854.4L1208.3 854.4L1209.4 854.4L1210.5 854.4L1211.7 854.4L1212.8 854.4L1213.9 854.4L1215.1 854.4L1216.2 854.4L1217.3 854.4L1218.5 854.4L1219.6 854.4L1220.7 854.4L1221.9 854.4L1223.0 854.4L1224.1 854.4L1225.3 854.4L1226.4 854.4L1227.5 854.4L1228.7 854.4L1229.8 854.4L1230.9 854.4L1232.1 854.4L1233.2 854.4L1234.3 854.4L1235.5 854.4L1236.6 854.4L1237.7 854.4L1238.9 854.4L1240.0 854.4L1241.1 854.4L1242.3 854.4L1243.4 854.4L1244.5 854.4L1245.7 854.4L1246.8 854.4L1247.9 854.4L1249.1 854.4L1250.2 854.4L1251.3 854.4L1252.5 854.4L1253.6 854.4L1254.7 854.4L1255.9 854.4L1257.0 854.4L1258.1 854.4L1259.3 854.4L1260.4 854.4L1261.5 854.4L1262.7 854.4L1263.8 854.4L1264.9 854.4L1266.1 854.4L1267.2 854.4L1268.3 854.4L1269.5 854.4L1270.6 854.4L1271.7 854.4L1272.9 854.4L1274.0 854.4L1275.1 854.4L1276.3 854.4L1277.4 854.4L1278.5 854.4L1279.7 854.4L1280.8 854.4L1281.9 854.4L1283.1 854.4L1284.2 854.4L1285.3 854.4L1286.5 854.4L1287.6 854.4L1288.7 854.4L1289.9 854.4L1291.0 854.4L1292.1 854.4L1293.3 854.4L1294.4 854.4L1295.5 854.4L1296.7 854.4L1297.8 854.4L1298.9 854.4L1300.1 854.4L1301.2 854.4L1302.3 854.4L1303.5 854.4L1304.6 854.4L1305.7 854.4L1306.9 854.4L1308.0 854.4L1309.1 854.4L1310.3 854.4L1311.4 854.4L1312.5 854.4L1313.7 854.4"/><path stroke="#008000" d="M182.9 856.9L408.7 856.9L408.9 856.9L409.1 806.9L409.1 806.9L409.5 802.3L410.0 798.3L410.4 794.5L410.9 790.7L411.3 787.1L411.8 783.6L412.2 780.6L412.7 778.4L413.1 776.6L413.6 775.0L414.0 773.7L414.5 772.6L414.9 771.7L415.4 770.8L415.8 770.0L416.3 769.4L416.7 768.8L417.2 768.4L417.7 768.3L418.1 768.2L418.6 768.1L419.0 768.1L419.5 767.7L419.9 766.9L420.4 766.1L420.8 765.4L421.3 764.7L421.7 764.4L422.2 764.6L422.6 764.8L423.1 765.0L423.5 765.2L424.0 765.0L424.4 764.6L424.9 764.1L425.3 763.6L425.8 763.2L426.3 763.1L426.7 763.4L427.2 763.8L427.6 764.1L428.1 764.5L428.5 764.6L429.0 764.3L429.4 764.0L429.9 763.8L430.3 763.6L430.8 763.9L431.2 764.5L431.7 765.1L432.1 765.8L432.6 766.7L433.0 767.5L433.5 768.2L434.0 768.7L434.4 769.1L434.9 769.1L435.3 769.2L435.8 769.6L436.2 770.1L436.7 770.5L437.1 771.0L437.6 771.0L438.0 770.8L438.5 770.5L438.9 770.2L439.4 769.9L439.8 769.9L440.3 770.3L440.7 770.7L441.2 771.1L441.6 771.5L442.1 771.5L442.6 771.1L443.0 770.7L443.5 770.4L443.9 770.0L444.4 769.9L444.8 770.2L445.3 770.5L445.7 770.7L446.2 771.0L446.6 771.0L447.1 770.8L447.5 770.6L448.0 770.4L448.4 770.1L448.9 770.3L449.3 770.8L449.8 771.3L450.3 771.8L450.7 772.3L451.2 772.4L451.6 772.0L452.1 771.7L452.5 771.4L453.0 771.1L453.4 771.1L453.9 771.6L454.3 772.0L454.8 772.5L455.2 772.9L455.7 773.1L456.1 773.1L456.6 773.1L457.0 773.1L457.5 773.1L457.9 773.2L458.4 773.7L458.9 774.1L459.3 774.5L459.8 774.9L460.2 775.0L460.7 774.7L461.1 774.5L461.6 774.3L462.0 774.1L462.5 774.2L462.9 774.6L463.4 775.0L463.8 775.4L464.3 775.8L464.7 776.0L465.2 776.0L465.6 775.9L466.1 775.9L466.5 775.8L467.0 776.0L467.5 776.5L467.9 777.0L468.4 777.4L468.8 777.9L469.3 778.0L469.7 777.8L470.2 777.6L470.6 777.4L471.1 777.2L471.5 777.3L472.0 777.8L472.4 778.3L472.9 778.8L473.3 779.3L473.8 779.4L474.2 779.3L474.7 779.1L475.2 778.9L475.6 778.7L476.1 778.7L476.5 778.9L477.0 779.2L477.4 779.4L477.9 779.6L478.3 779.7L478.8 779.6L479.2 779.6L479.7 779.5L480.1 779.5L480.6 779.6L481.0 779.9L481.5 780.1L481.9 780.4L482.4 780.6L482.8 780.6L483.3 780.1L483.8 779.7L484.2 779.3L484.7 778.8L485.1 779.0L485.6 779.6L486.0 780.2L486.5 780.8L486.9 781.5L487.4 781.6L487.8 781.3L488.3 781.1L488.7 780.8L489.2 780.5L489.6 780.6L490.1 781.0L490.5 781.5L491.0 781.9L491.5 782.4L491.9 782.5L492.4 782.3L492.8 782.1L493.3 781.8L493.7 781.6L494.2 781.7L494.6 782.1L495.1 782.4L495.5 782.8L496.0 783.1L496.4 783.2L496.9 782.9L497.3 782.7L497.8 782.4L498.2 782.2L498.7 782.3L499.1 782.7L499.6 783.1L500.1 783.5L500.5 783.9L501.0 784.0L501.4 783.8L501.9 783.6L502.3 783.4L502.8 783.3L503.2 783.4L503.7 783.8L504.1 784.3L504.6 784.7L505.0 785.1L505.5 785.3L505.9 785.2L506.4 785.1L506.8 785.0L507.3 784.9L507.8 785.0L508.2 785.2L508.7 785.5L509.1 785.7L509.6 786.0L510.0 786.1L510.5 786.0L510.9 785.9L511.4 785.9L511.8 785.8L512.3 785.9L512.7 786.1L513.2 786.2L513.6 786.4L514.1 786.6L514.5 786.6L515.0 786.4L515.4 786.2L515.9 786.0L516.4 785.8L516.8 785.8L517.3 786.1L517.7 786.4L518.2 786.6L518.6 786.9L519.1 787.0L519.5 786.8L520.0 786.7L520.4 786.6L520.9 786.4L521.3 786.6L521.8 787.0L522.2 787.4L522.7 787.8L523.1 788.2L523.6 788.3L524.0 788.1L524.5 787.8L525.0 787.5L525.4 787.2L525.9 787.3L526.3 787.7L526.8 788.2L527.2 788.6L527.7 789.0L528.1 789.0L528.6 788.6L529.0 788.2L529.5 787.8L529.9 787.4L530.4 787.4L530.8 787.8L531.3 788.2L531.7 788.6L532.2 789.0L532.7 789.1L533.1 788.9L533.6 788.7L534.0 788.5L534.5 788.3L534.9 788.4L535.4 788.9L535.8 789.3L536.3 789.8L536.7 790.2L537.2 790.3L537.6 790.1L538.1 789.9L538.5 789.7L539.0 789.5L539.4 789.6L539.9 790.1L540.3 790.6L540.8 791.1L541.3 791.6L541.7 791.7L542.2 791.4L542.6 791.2L543.1 790.9L543.5 790.7L544.0 790.7L544.4 790.9L544.9 791.2L545.3 791.5L545.8 791.7L546.2 791.7L546.7 791.5L547.1 791.3L547.6 791.0L548.0 790.8L548.5 790.9L549.0 791.2L549.4 791.6L549.9 791.9L550.3 792.3L550.8 792.3L551.2 792.0L551.7 791.7L552.1 791.4L552.6 791.1L553.0 791.1L553.5 791.3L553.9 791.6L554.4 791.8L554.8 792.1L555.3 792.0L555.7 791.7L556.2 791.4L556.6 791.1L557.1 790.8L557.6 790.9L558.0 791.3L558.5 791.7L558.9 792.1L559.4 792.5L559.8 792.6L560.3 792.5L560.7 792.4L561.2 792.4L561.6 792.3L562.1 792.3L562.5 792.4L563.0 792.5L563.4 792.6L563.9 792.8L564.3 792.7L564.8 792.4L565.2 792.2L565.7 791.9L566.2 791.6L566.6 791.6L567.1 791.9L567.5 792.2L568.0 792.5L568.4 792.8L568.9 792.9L569.3 792.8L569.8 792.8L570.2 792.7L570.7 792.7L571.1 792.7L571.6 792.9L572.0 793.1L572.5 793.2L572.9 793.4L573.4 793.5L573.9 793.5L574.3 793.5L574.8 793.6L575.2 793.6L575.7 793.8L576.1 794.0L576.6 794.3L577.0 794.6L577.5 794.9L577.9 795.0L578.4 794.9L578.8 794.8L579.3 794.8L579.7 794.7L580.2 794.9L580.6 795.2L581.1 795.6L581.5 795.9L582.0 796.3L582.5 796.3L582.9 796.0L583.4 795.8L583.8 795.5L584.3 795.2L584.7 795.2L585.2 795.6L585.6 795.9L586.1 796.2L586.5 796.6L587.0 796.6L587.4 796.3L587.9 796.1L588.3 795.8L588.8 795.5L589.2 795.6L589.7 795.9L590.2 796.2L590.6 796.5L591.1 796.9L591.5 796.9L592.0 796.8L592.4 796.6L592.9 796.4L593.3 796.3L593.8 796.3L594.2 796.5L594.7 796.7L595.1 797.0L595.6 797.2L596.0 797.2L596.5 796.9L596.9 796.6L597.4 796.3L597.8 796.0L598.3 796.0L598.8 796.3L599.2 796.6L599.7 796.9L600.1 797.2L600.6 797.2L601.0 796.9L601.5 796.6L601.9 796.3L602.4 796.0L602.8 795.9L603.3 796.1L603.7 796.2L604.2 796.3L604.6 796.4L605.1 796.2L605.5 795.8L606.0 795.4L606.5 794.9L606.9 794.5L607.4 794.4L607.8 794.7L608.3 795.1L608.7 795.4L609.2 795.7L609.6 795.8L610.1 795.5L610.5 795.3L611.0 795.1L611.4 794.9L611.9 794.9L612.3 795.1L612.8 795.3L613.2 795.5L613.7 795.7L614.1 795.8L614.6 795.5L615.1 795.3L615.5 795.1L616.0 794.9L616.4 794.9L616.9 795.2L617.3 795.4L617.8 795.6L618.2 795.8L618.7 796.0L619.1 795.9L619.6 795.9L620.0 795.9L620.5 795.9L620.9 796.0L621.4 796.3L621.8 796.6L622.3 796.9L622.7 797.2L623.2 797.2L623.7 797.1L624.1 796.9L624.6 796.8L625.0 796.6L625.5 796.7L625.9 796.9L626.4 797.1L626.8 797.4L627.3 797.6L627.7 797.6L628.2 797.5L628.6 797.3L629.1 797.2L629.5 797.0L630.0 797.1L630.4 797.3L630.9 797.6L631.4 797.8L631.8 798.1L632.3 798.1L632.7 797.9L633.2 797.6L633.6 797.4L634.1 797.2L634.5 797.2L635.0 797.5L635.4 797.8L635.7 797.8L635.8 829.4L635.9 830.3L636.3 830.4L636.8 830.8L637.2 831.1L637.7 831.4L638.1 831.7L638.6 832.0L639.0 832.3L639.5 832.7L640.0 833.2L640.4 833.7L640.9 834.3L641.3 834.9L641.8 835.4L642.2 835.9L642.7 836.3L643.1 836.9L643.6 837.4L644.0 838.1L644.5 838.8L644.9 839.5L645.4 840.2L645.8 840.9L646.3 841.4L646.7 841.7L647.2 842.1L647.7 842.4L648.1 842.7L648.6 843.0L649.0 843.4L649.5 843.8L649.9 844.2L650.4 844.6L650.8 844.8L651.3 845.0L651.7 845.1L652.2 845.2L652.6 845.4L653.1 845.6L653.5 845.8L654.0 846.0L654.4 846.3L654.9 846.5L655.3 846.6L655.8 846.7L656.3 846.8L656.7 846.9L657.2 847.0L657.6 847.1L658.1 847.2L658.5 847.4L659.0 847.5L659.4 847.6L659.9 847.7L660.3 847.7L660.8 847.7L661.2 847.7L661.7 847.8L662.1 847.8L662.6 848.0L663.0 848.1L663.5 848.2L663.9 848.3L664.4 848.4L664.9 848.3L665.3 848.3L665.8 848.2L666.2 848.2L666.7 848.2L667.1 848.4L667.6 848.5L668.0 848.6L668.5 848.8L668.9 848.8L669.4 848.9L669.8 848.9L670.3 848.9L670.7 848.9L671.2 849.0L671.6 849.1L672.1 849.2L672.6 849.3L673.0 849.4L673.5 849.5L673.9 849.5L674.4 849.5L674.8 849.5L675.3 849.6L675.7 849.7L676.2 849.8L676.6 849.9L677.1 850.1L677.5 850.2L678.0 850.3L678.4 850.3L678.9 850.3L679.3 850.3L679.8 850.3L680.2 850.4L680.7 850.5L681.2 850.6L681.6 850.7L682.1 850.8L682.5 850.8L683.0 850.8L683.4 850.8L683.9 850.8L684.3 850.8L684.8 850.8L685.2 850.9L685.7 850.9L686.1 851.0L686.6 851.0L687.0 851.0L687.5 851.0L687.9 851.0L688.4 851.0L688.9 851.0L689.3 851.0L689.8 851.1L690.2 851.2L690.7 851.2L691.1 851.3L691.6 851.4L692.0 851.4L692.5 851.4L692.9 851.4L693.4 851.4L693.8 851.4L694.3 851.6L694.7 851.7L695.2 851.9L695.6 852.0L696.1 852.0L696.5 852.0L697.0 851.9L697.5 851.9L697.9 851.8L698.4 851.9L698.8 852.0L699.3 852.1L699.7 852.2L700.2 852.3L700.6 852.3L701.1 852.3L701.5 852.2L702.0 852.2L702.4 852.1L702.9 852.1L703.3 852.2L703.8 852.3L704.2 852.4L704.7 852.5L705.1 852.5L705.6 852.4L706.1 852.4L706.5 852.3L707.0 852.2L707.4 852.3L707.9 852.3L708.3 852.4L708.8 852.5L709.2 852.6L709.7 852.6L710.1 852.6L710.6 852.6L711.0 852.5L711.5 852.5L711.9 852.5L712.4 852.6L712.8 852.7L713.3 852.8L713.8 852.8L714.2 852.8L714.7 852.7L715.1 852.6L715.6 852.5L716.0 852.4L716.5 852.4L716.9 852.5L717.4 852.7L717.8 852.8L718.3 852.9L718.7 852.9L719.2 852.9L719.6 852.9L720.1 852.9L720.5 852.8L721.0 852.9L721.4 853.0L721.9 853.1L722.4 853.1L722.8 853.2L723.3 853.2L723.7 853.2L724.2 853.2L724.6 853.1L725.1 853.1L725.5 853.1L726.0 853.2L726.4 853.2L726.9 853.3L727.3 853.4L727.8 853.4L728.2 853.4L728.7 853.4L729.1 853.4L729.6 853.4L730.1 853.4L730.5 853.4L731.0 853.5L731.4 853.6L731.9 853.6L732.3 853.6L732.8 853.6L733.2 853.5L733.7 853.5L734.1 853.4L734.6 853.5L735.0 853.5L735.5 853.6L735.9 853.6L736.4 853.7L736.8 853.7L737.3 853.7L737.7 853.6L738.2 853.6L738.7 853.6L739.1 853.6L739.6 853.7L740.0 853.8L740.5 853.9L740.9 853.9L741.4 853.9L741.8 853.8L742.3 853.8L742.7 853.7L743.2 853.6L743.6 853.6L744.1 853.7L744.5 853.7L745.0 853.8L745.4 853.9L745.9 853.9L746.4 853.8L746.8 853.8L747.3 853.8L747.7 853.8L748.2 853.8L748.6 853.9L749.1 854.0L749.5 854.1L750.0 854.2L750.4 854.2L750.9 854.2L751.3 854.1L751.8 854.1L752.2 854.1L752.7 854.1L753.1 854.1L753.6 854.1L754.0 854.2L754.5 854.2L755.0 854.2L755.4 854.2L755.9 854.2L756.3 854.2L756.8 854.2L757.2 854.3L757.7 854.4L758.1 854.4L758.6 854.5L759.0 854.6L759.5 854.6L759.9 854.5L760.4 854.4L760.8 854.3L761.3 854.3L761.7 854.3L762.2 854.4L762.6 854.5L763.1 854.6L763.6 854.7L764.0 854.7L764.5 854.6L764.9 854.6L765.4 854.5L765.8 854.4L766.3 854.4L766.7 854.5L767.2 854.6L767.6 854.6L768.1 854.7L768.5 854.7L769.0 854.6L769.4 854.6L769.9 854.5L770.3 854.5L770.8 854.5L771.3 854.5L771.7 854.6L772.2 854.6L772.6 854.7L773.1 854.7L773.5 854.6L774.0 854.6L774.4 854.5L774.9 854.5L775.3 854.5L775.8 854.6L776.2 854.8L776.7 854.9L777.1 855.0L777.6 855.0L778.0 854.9L778.5 854.8L778.9 854.7L779.4 854.6L779.9 854.5L780.3 854.6L780.8 854.6L781.2 854.7L781.7 854.7L782.1 854.7L782.6 854.7L783.0 854.7L783.5 854.7L783.9 854.7L784.4 854.8L784.8 854.9L785.3 855.0L785.7 855.0L786.2 855.1L786.6 855.1L787.1 855.1L787.6 855.0L788.0 854.9L788.5 854.9L788.9 854.9L789.4 854.9L789.8 854.9L790.3 855.0L790.7 855.0L791.2 855.0L791.6 855.0L792.1 855.0L792.5 855.0L793.0 855.0L793.4 855.0L793.9 855.1L794.3 855.1L794.8 855.2L795.2 855.2L795.7 855.2L796.2 855.1L796.6 855.0L797.1 854.9L797.5 854.9L798.0 854.9L798.4 854.9L798.9 855.0L799.3 855.0L799.8 855.1L800.2 855.1L800.7 855.0L801.1 855.0L801.6 854.9L802.0 854.9L802.5 854.9L802.9 854.9L803.4 855.0L803.8 855.0L804.3 855.1L804.8 855.1L805.2 855.0L805.7 855.0L806.1 855.0L806.6 854.9L807.0 854.9L807.5 855.0L807.9 855.1L808.4 855.1L808.8 855.2L809.3 855.2L809.7 855.2L810.2 855.1L810.6 855.1L811.1 855.0L811.5 855.1L812.0 855.1L812.5 855.2L812.9 855.3L813.4 855.4L813.8 855.4L814.3 855.3L814.7 855.2L815.2 855.2L815.6 855.1L816.1 855.1L816.5 855.2L817.0 855.3L817.4 855.3L817.9 855.4L818.3 855.4L818.8 855.4L819.2 855.3L819.7 855.3L820.1 855.2L820.6 855.2L821.1 855.3L821.5 855.3L822.0 855.4L822.4 855.5L822.9 855.4L823.3 855.4L823.8 855.3L824.2 855.2L824.7 855.2L825.1 855.2L825.6 855.3L826.0 855.3L826.5 855.4L826.9 855.5L827.4 855.5L827.8 855.4L828.3 855.3L828.8 855.2L829.2 855.1L829.7 855.1L830.1 855.2L830.6 855.3L831.0 855.3L831.5 855.4L831.9 855.4L832.4 855.3L832.8 855.2L833.3 855.1L833.7 855.0L834.2 855.1L834.6 855.1L835.1 855.2L835.5 855.3L836.0 855.4L836.4 855.4L836.9 855.3L837.4 855.3L837.8 855.2L838.3 855.1L838.7 855.2L839.2 855.2L839.6 855.3L840.1 855.4L840.5 855.5L841.0 855.5L841.4 855.5L841.9 855.4L842.3 855.4L842.8 855.4L843.2 855.4L843.7 855.4L844.1 855.5L844.6 855.6L845.1 855.6L845.5 855.6L846.0 855.5L846.4 855.5L846.9 855.4L847.3 855.3L847.8 855.4L848.2 855.5L848.7 855.6L849.1 855.7L849.6 855.8L850.0 855.8L850.5 855.7L850.9 855.6L851.4 855.5L851.8 855.5L852.3 855.5L852.7 855.5L853.2 855.6L853.7 855.6L854.1 855.7L854.6 855.7L855.0 855.6L855.5 855.6L855.9 855.5L856.4 855.5L856.8 855.5L857.3 855.5L857.7 855.6L858.2 855.7L858.6 855.8L859.1 855.7L859.5 855.7L860.0 855.6L860.4 855.5L860.9 855.4L861.3 855.4L861.8 855.5L862.3 855.7L862.5 855.7L862.6 819.4L862.7 819.4L863.2 819.1L863.6 818.5L864.1 817.7L864.5 817.1L865.0 816.4L865.4 815.9L865.9 815.7L866.3 815.9L866.8 816.2L867.2 816.5L867.7 816.8L868.1 816.8L868.6 816.5L869.0 816.1L869.5 815.7L870.0 815.3L870.4 814.1L870.9 811.8L871.3 809.3L871.8 807.8L872.2 807.1L872.7 806.2L873.1 805.2L873.6 804.3L874.0 803.5L874.5 802.8L874.9 802.4L875.4 802.2L875.8 802.1L876.3 802.1L876.7 802.1L877.2 801.9L877.6 801.6L878.1 801.3L878.6 801.0L879.0 800.7L879.5 800.6L879.9 800.7L880.4 800.8L880.8 800.9L881.3 801.0L881.7 800.9L882.2 800.6L882.6 800.3L883.1 800.0L883.5 799.8L884.0 799.7L884.4 799.9L884.9 800.1L885.3 800.3L885.8 800.6L886.3 800.5L886.7 800.3L887.2 800.0L887.6 799.7L888.1 799.5L888.5 799.4L889.0 799.6L889.4 799.7L889.9 799.8L890.3 800.0L890.8 799.9L891.2 799.7L891.7 799.5L892.1 799.3L892.6 799.2L893.0 799.2L893.5 799.5L893.9 799.8L894.4 800.1L894.9 800.4L895.3 800.4L895.8 800.1L896.2 799.9L896.7 799.6L897.1 799.3L897.6 799.4L898.0 799.8L898.5 800.1L898.9 800.5L899.4 800.9L899.8 800.9L900.3 800.5L900.7 800.2L901.2 799.9L901.6 799.6L902.1 799.6L902.5 799.9L903.0 800.3L903.5 800.7L903.9 801.0L904.4 801.1L904.8 800.7L905.3 800.4L905.7 800.0L906.2 799.7L906.6 799.7L907.1 800.1L907.5 800.5L908.0 800.8L908.4 801.2L908.9 801.2L909.3 800.9L909.8 800.6L910.2 800.3L910.7 800.0L911.2 800.0L911.6 800.4L912.1 800.7L912.5 801.0L913.0 801.4L913.4 801.3L913.9 800.9L914.3 800.6L914.8 800.2L915.2 799.8L915.7 799.9L916.1 800.4L916.6 801.0L917.0 801.5L917.5 802.1L917.9 802.2L918.4 802.0L918.8 801.8L919.3 801.6L919.8 801.3L920.2 801.4L920.7 801.6L921.1 801.8L921.6 802.1L922.0 802.3L922.5 802.4L922.9 802.3L923.4 802.2L923.8 802.1L924.3 802.0L924.7 802.1L925.2 802.3L925.6 802.5L926.1 802.7L926.5 802.9L927.0 802.9L927.5 802.7L927.9 802.5L928.4 802.3L928.8 802.0L929.3 802.0L929.7 802.2L930.2 802.4L930.6 802.6L931.1 802.9L931.5 802.9L932.0 802.8L932.4 802.7L932.9 802.5L933.3 802.4L933.8 802.5L934.2 802.9L934.7 803.2L935.1 803.6L935.6 803.9L936.1 803.9L936.5 803.6L937.0 803.3L937.4 803.1L937.9 802.8L938.3 802.8L938.8 803.1L939.2 803.4L939.7 803.7L940.1 804.0L940.6 804.0L941.0 803.7L941.5 803.4L941.9 803.1L942.4 802.8L942.8 802.8L943.3 803.1L943.7 803.5L944.2 803.9L944.7 804.2L945.1 804.3L945.6 804.1L946.0 803.9L946.5 803.7L946.9 803.5L947.4 803.5L947.8 803.8L948.3 804.0L948.7 804.2L949.2 804.5L949.6 804.5L950.1 804.3L950.5 804.2L951.0 804.0L951.4 803.9L951.9 804.0L952.4 804.3L952.8 804.7L953.3 805.1L953.7 805.4L954.2 805.5L954.6 805.2L955.1 804.9L955.5 804.6L956.0 804.3L956.4 804.3L956.9 804.5L957.3 804.8L957.8 805.0L958.2 805.2L958.7 805.3L959.1 805.1L959.6 804.9L960.0 804.7L960.5 804.5L961.0 804.7L961.4 805.3L961.9 806.0L962.3 806.6L962.8 807.2L963.2 807.3L963.7 807.0L964.1 806.7L964.6 806.4L965.0 806.0L965.5 806.0L965.9 806.2L966.4 806.5L966.8 806.7L967.3 806.9L967.7 806.9L968.2 806.8L968.7 806.6L969.1 806.5L969.6 806.3L970.0 806.4L970.5 806.7L970.9 807.0L971.4 807.3L971.8 807.6L972.3 807.6L972.7 807.3L973.2 807.0L973.6 806.8L974.1 806.5L974.5 806.4L975.0 806.6L975.4 806.8L975.9 806.9L976.3 807.1L976.8 807.1L977.3 806.8L977.7 806.6L978.2 806.3L978.6 806.1L979.1 806.1L979.5 806.3L980.0 806.5L980.4 806.7L980.9 806.9L981.3 806.9L981.8 806.6L982.2 806.3L982.7 806.0L983.1 805.7L983.6 805.6L984.0 805.9L984.5 806.1L985.0 806.3L985.4 806.6L985.9 806.6L986.3 806.4L986.8 806.3L987.2 806.1L987.7 805.9L988.1 805.9L988.6 805.9L989.0 806.0L989.5 806.1L989.9 806.1L990.4 806.1L990.8 806.0L991.3 805.8L991.7 805.7L992.2 805.6L992.6 805.7L993.1 806.1L993.6 806.4L994.0 806.8L994.5 807.2L994.9 807.2L995.4 806.8L995.8 806.4L996.3 806.0L996.7 805.7L997.2 805.6L997.6 806.0L998.1 806.3L998.5 806.7L999.0 807.0L999.4 807.1L999.9 806.9L1000.3 806.7L1000.8 806.5L1001.2 806.3L1001.7 806.3L1002.2 806.4L1002.6 806.6L1003.1 806.7L1003.5 806.9L1004.0 806.9L1004.4 806.8L1004.9 806.7L1005.3 806.5L1005.8 806.4L1006.2 806.4L1006.7 806.6L1007.1 806.7L1007.6 806.8L1008.0 807.0L1008.5 806.9L1008.9 806.7L1009.4 806.5L1009.9 806.2L1010.3 806.0L1010.8 806.1L1011.2 806.5L1011.7 806.9L1012.1 807.2L1012.6 807.6L1013.0 807.6L1013.5 807.2L1013.9 806.9L1014.4 806.5L1014.8 806.1L1015.3 806.0L1015.7 806.1L1016.2 806.3L1016.6 806.4L1017.1 806.6L1017.5 806.5L1018.0 806.2L1018.5 805.9L1018.9 805.6L1019.4 805.3L1019.8 805.3L1020.3 805.7L1020.7 806.1L1021.2 806.5L1021.6 806.9L1022.1 806.9L1022.5 806.6L1023.0 806.4L1023.4 806.1L1023.9 805.8L1024.3 805.7L1024.8 805.8L1025.2 806.0L1025.7 806.2L1026.2 806.3L1026.6 806.2L1027.1 805.9L1027.5 805.6L1028.0 805.3L1028.4 805.0L1028.9 805.0L1029.3 805.4L1029.8 805.8L1030.2 806.2L1030.7 806.6L1031.1 806.6L1031.6 806.2L1032.0 805.9L1032.5 805.6L1032.9 805.2L1033.4 805.2L1033.8 805.3L1034.3 805.5L1034.8 805.7L1035.2 805.9L1035.7 805.9L1036.1 805.7L1036.6 805.5L1037.0 805.3L1037.5 805.1L1037.9 805.1L1038.4 805.4L1038.8 805.7L1039.3 806.0L1039.7 806.2L1040.2 806.2L1040.6 806.0L1041.1 805.8L1041.5 805.5L1042.0 805.3L1042.4 805.3L1042.9 805.6L1043.4 805.9L1043.8 806.2L1044.3 806.5L1044.7 806.5L1045.2 806.3L1045.6 806.1L1046.1 806.0L1046.5 805.8L1047.0 805.9L1047.4 806.4L1047.9 806.9L1048.3 807.3L1048.8 807.8L1049.2 807.9L1049.7 807.6L1050.1 807.3L1050.6 807.0L1051.1 806.7L1051.5 806.7L1052.0 807.0L1052.4 807.3L1052.9 807.6L1053.3 807.9L1053.8 808.0L1054.2 807.9L1054.7 807.8L1055.1 807.7L1055.6 807.6L1056.0 807.9L1056.5 808.3L1056.9 808.8L1057.4 809.3L1057.8 809.8L1058.3 810.0L1058.7 809.9L1059.2 809.9L1059.7 809.8L1060.1 809.7L1060.6 809.8L1061.0 810.0L1061.5 810.3L1061.9 810.5L1062.4 810.7L1062.8 810.7L1063.3 810.5L1063.7 810.3L1064.2 810.1L1064.6 809.8L1065.1 809.9L1065.5 810.3L1066.0 810.7L1066.4 811.1L1066.9 811.5L1067.4 811.6L1067.8 811.3L1068.3 811.0L1068.7 810.7L1069.2 810.4L1069.6 810.5L1070.1 810.9L1070.5 811.3L1071.0 811.7L1071.4 812.1L1071.9 812.1L1072.3 811.7L1072.8 811.3L1073.2 810.8L1073.7 810.4L1074.1 810.3L1074.6 810.6L1075.0 810.9L1075.5 811.2L1076.0 811.4L1076.4 811.5L1076.9 811.2L1077.3 811.0L1077.8 810.8L1078.2 810.5L1078.7 810.6L1079.1 810.9L1079.6 811.2L1080.0 811.5L1080.5 811.8L1080.9 811.8L1081.4 811.4L1081.8 811.1L1082.3 810.8L1082.7 810.4L1083.2 810.4L1083.7 810.7L1084.1 811.0L1084.6 811.3L1085.0 811.7L1085.5 811.5L1085.9 811.0L1086.4 810.5L1086.8 810.0L1087.3 809.5L1087.7 809.5L1088.2 809.9L1088.6 809.9L1088.9 809.9L1089.0 831.9L1089.1 831.9L1089.5 832.0L1090.0 832.2L1090.4 832.5L1090.9 832.7L1091.3 833.1L1091.8 833.4L1092.2 833.8L1092.7 834.3L1093.1 835.0L1093.6 835.7L1094.1 836.6L1094.5 837.4L1095.0 838.1L1095.4 838.7L1095.9 839.2L1096.3 839.6L1096.8 840.0L1097.2 840.5L1097.7 841.0L1098.1 841.5L1098.6 841.9L1099.0 842.4L1099.5 842.7L1099.9 843.0L1100.4 843.3L1100.8 843.5L1101.3 843.7L1101.7 844.0L1102.2 844.3L1102.6 844.6L1103.1 844.9L1103.5 845.2L1104.0 845.4L1104.4 845.6L1104.9 845.7L1105.3 845.9L1105.8 846.1L1106.3 846.3L1106.7 846.5L1107.2 846.8L1107.6 847.0L1108.1 847.2L1108.5 847.3L1109.0 847.5L1109.4 847.6L1109.9 847.7L1110.3 847.8L1110.8 848.0L1111.2 848.1L1111.7 848.3L1112.1 848.4L1112.6 848.6L1113.0 848.7L1113.5 848.7L1113.9 848.8L1114.4 848.9L1114.8 849.0L1115.3 849.1L1115.7 849.3L1116.2 849.5L1116.6 849.7L1117.1 849.8L1117.5 849.9L1118.0 849.9L1118.5 850.0L1118.9 850.0L1119.4 850.0L1119.8 850.1L1120.3 850.3L1120.7 850.4L1121.2 850.5L1121.6 850.6L1122.1 850.6L1122.5 850.6L1123.0 850.6L1123.4 850.6L1123.9 850.6L1124.3 850.8L1124.8 850.9L1125.2 851.1L1125.7 851.2L1126.1 851.4L1126.6 851.4L1127.0 851.3L1127.5 851.3L1127.9 851.3L1128.4 851.2L1128.8 851.3L1129.3 851.5L1129.7 851.6L1130.2 851.7L1130.7 851.8L1131.1 851.8L1131.6 851.8L1132.0 851.8L1132.5 851.7L1132.9 851.7L1133.4 851.8L1133.8 851.9L1134.3 852.0L1134.7 852.1L1135.2 852.2L1135.6 852.2L1136.1 852.2L1136.5 852.2L1137.0 852.2L1137.4 852.1L1137.9 852.2L1138.3 852.3L1138.8 852.4L1139.2 852.5L1139.7 852.6L1140.1 852.6L1140.6 852.5L1141.0 852.5L1141.5 852.5L1141.9 852.4L1142.4 852.5L1142.9 852.6L1143.3 852.6L1143.8 852.7L1144.2 852.8L1144.7 852.8L1145.1 852.8L1145.6 852.8L1146.0 852.7L1146.5 852.7L1146.9 852.8L1147.4 852.8L1147.8 852.9L1148.3 852.9L1148.7 853.0L1149.2 853.0L1149.6 853.0L1150.1 853.0L1150.5 853.0L1151.0 853.0L1151.4 853.1L1151.9 853.2L1152.3 853.3L1152.8 853.4L1153.2 853.5L1153.7 853.4L1154.1 853.3L1154.6 853.2L1155.1 853.2L1155.5 853.1L1156.0 853.2L1156.4 853.3L1156.9 853.4L1157.3 853.5L1157.8 853.6L1158.2 853.5L1158.7 853.5L1159.1 853.4L1159.6 853.4L1160.0 853.3L1160.5 853.4L1160.9 853.5L1161.4 853.6L1161.8 853.6L1162.3 853.7L1162.7 853.7L1163.2 853.7L1163.6 853.7L1164.1 853.6L1164.5 853.6L1165.0 853.6L1165.4 853.7L1165.9 853.7L1166.3 853.7L1166.8 853.7L1167.3 853.7L1167.7 853.7L1168.2 853.6L1168.6 853.6L1169.1 853.6L1169.5 853.6L1170.0 853.7L1170.4 853.8L1170.9 853.9L1171.3 853.9L1171.8 853.9L1172.2 853.8L1172.7 853.7L1173.1 853.7L1173.6 853.6L1174.0 853.7L1174.5 853.8L1174.9 853.8L1175.4 853.9L1175.8 854.0L1176.3 854.0L1176.7 854.0L1177.2 854.0L1177.6 853.9L1178.1 853.9L1178.5 854.0L1179.0 854.1L1179.5 854.1L1179.9 854.2L1180.4 854.3L1180.8 854.2L1181.3 854.1L1181.7 854.1L1182.2 854.0L1182.6 853.9L1183.1 854.0L1183.5 854.1L1184.0 854.1L1184.4 854.2L1184.9 854.3L1185.3 854.3L1185.8 854.2L1186.2 854.2L1186.7 854.2L1187.1 854.1L1187.6 854.2L1188.0 854.2L1188.5 854.3L1188.9 854.4L1189.4 854.4L1189.8 854.4L1190.3 854.4L1190.7 854.3L1191.2 854.3L1191.7 854.3L1192.1 854.3L1192.6 854.4L1193.0 854.4L1193.5 854.5L1193.9 854.6L1194.4 854.5L1194.8 854.5L1195.3 854.5L1195.7 854.4L1196.2 854.4L1196.6 854.5L1197.1 854.5L1197.5 854.6L1198.0 854.7L1198.4 854.8L1198.9 854.7L1199.3 854.7L1199.8 854.6L1200.2 854.5L1200.7 854.5L1201.1 854.6L1201.6 854.7L1202.0 854.8L1202.5 854.8L1202.9 854.9L1203.4 854.9L1203.9 854.8L1204.3 854.8L1204.8 854.7L1205.2 854.6L1205.7 854.6L1206.1 854.7L1206.6 854.7L1207.0 854.8L1207.5 854.8L1207.9 854.8L1208.4 854.7L1208.8 854.6L1209.3 854.5L1209.7 854.4L1210.2 854.5L1210.6 854.6L1211.1 854.7L1211.5 854.7L1212.0 854.8L1212.4 854.8L1212.9 854.8L1213.3 854.8L1213.8 854.7L1214.2 854.7L1214.7 854.7L1215.1 854.8L1215.6 854.8L1216.1 854.9L1216.5 854.9L1217.0 854.9L1217.4 854.8L1217.9 854.8L1218.3 854.7L1218.8 854.7L1219.2 854.7L1219.7 854.8L1220.1 854.9L1220.6 855.0L1221.0 855.0L1221.5 855.0L1221.9 855.0L1222.4 855.0L1222.8 855.0L1223.3 854.9L1223.7 855.0L1224.2 855.0L1224.6 855.1L1225.1 855.2L1225.5 855.2L1226.0 855.2L1226.4 855.1L1226.9 855.0L1227.3 854.9L1227.8 854.8L1228.3 854.9L1228.7 855.0L1229.2 855.0L1229.6 855.1L1230.1 855.2L1230.5 855.2L1231.0 855.1L1231.4 855.1L1231.9 855.1L1232.3 855.1L1232.8 855.1L1233.2 855.1L1233.7 855.1L1234.1 855.1L1234.6 855.1L1235.0 855.1L1235.5 855.1L1235.9 855.0L1236.4 855.0L1236.8 854.9L1237.3 855.0L1237.7 855.1L1238.2 855.2L1238.6 855.2L1239.1 855.3L1239.5 855.3L1240.0 855.2L1240.5 855.2L1240.9 855.2L1241.4 855.1L1241.8 855.2L1242.3 855.2L1242.7 855.3L1243.2 855.4L1243.6 855.4L1244.1 855.4L1244.5 855.3L1245.0 855.2L1245.4 855.1L1245.9 855.0L1246.3 855.1L1246.8 855.2L1247.2 855.2L1247.7 855.3L1248.1 855.4L1248.6 855.3L1249.0 855.3L1249.5 855.2L1249.9 855.2L1250.4 855.1L1250.8 855.1L1251.3 855.2L1251.7 855.2L1252.2 855.3L1252.7 855.3L1253.1 855.3L1253.6 855.2L1254.0 855.2L1254.5 855.2L1254.9 855.1L1255.4 855.2L1255.8 855.2L1256.3 855.3L1256.7 855.4L1257.2 855.4L1257.6 855.4L1258.1 855.4L1258.5 855.4L1259.0 855.3L1259.4 855.3L1259.9 855.4L1260.3 855.4L1260.8 855.5L1261.2 855.6L1261.7 855.6L1262.1 855.6L1262.6 855.5L1263.0 855.5L1263.5 855.4L1263.9 855.4L1264.4 855.4L1264.9 855.5L1265.3 855.5L1265.8 855.6L1266.2 855.6L1266.7 855.6L1267.1 855.6L1267.6 855.6L1268.0 855.5L1268.5 855.5L1268.9 855.5L1269.4 855.6L1269.8 855.6L1270.3 855.6L1270.7 855.7L1271.2 855.6L1271.6 855.6L1272.1 855.6L1272.5 855.5L1273.0 855.5L1273.4 855.5L1273.9 855.5L1274.3 855.6L1274.8 855.6L1275.2 855.6L1275.7 855.6L1276.1 855.5L1276.6 855.5L1277.1 855.5L1277.5 855.4L1278.0 855.5L1278.4 855.5L1278.9 855.6L1279.3 855.6L1279.8 855.7L1280.2 855.6L1280.7 855.5L1281.1 855.4L1281.6 855.3L1282.0 855.3L1282.5 855.3L1282.9 855.4L1283.4 855.5L1283.8 855.6L1284.3 855.7L1284.7 855.7L1285.2 855.6L1285.6 855.5L1286.1 855.5L1286.5 855.4L1287.0 855.5L1287.4 855.6L1287.9 855.6L1288.3 855.7L1288.8 855.8L1289.3 855.7L1289.7 855.6L1290.2 855.5L1290.6 855.4L1291.1 855.3L1291.5 855.3L1292.0 855.4L1292.4 855.5L1292.9 855.6L1293.3 855.7L1293.8 855.6L1294.2 855.6L1294.7 855.6L1295.1 855.5L1295.6 855.5L1296.0 855.5L1296.5 855.6L1296.9 855.6L1297.4 855.7L1297.8 855.7L1298.3 855.7L1298.7 855.6L1299.2 855.6L1299.6 855.5L1300.1 855.4L1300.5 855.5L1301.0 855.5L1301.5 855.6L1301.9 855.6L1302.4 855.6L1302.8 855.6L1303.3 855.5L1303.7 855.5L1304.2 855.5L1304.6 855.4L1305.1 855.5L1305.5 855.6L1306.0 855.7L1306.4 855.7L1306.9 855.8L1307.3 855.8L1307.8 855.7L1308.2 855.7L1308.7 855.6L1309.1 855.6L1309.6 855.6L1310.0 855.7L1310.5 855.7L1310.9 855.8L1311.4 855.8L1311.8 855.7L1312.3 855.6L1312.7 855.5L1313.2 855.4L1313.7 855.7"/><path stroke="#000080" d="M182.9 856.1L408.6 856.1L409.1 856.1L409.2 632.5L409.2 632.5L409.6 638.5L410.1 643.6L410.5 648.5L411.0 653.1L411.4 657.5L411.9 661.6L412.3 665.9L412.8 669.9L413.3 673.6L413.7 677.1L414.2 680.1L414.6 682.6L415.1 684.8L415.5 686.8L416.0 688.7L416.4 690.6L416.9 692.8L417.3 694.8L417.8 696.8L418.2 698.7L418.7 700.3L419.1 701.4L419.6 702.5L420.0 703.6L420.5 704.6L420.9 705.6L421.4 707.0L421.8 708.4L422.3 709.7L422.7 710.9L423.2 712.1L423.7 712.9L424.1 713.8L424.6 714.6L425.0 715.4L425.5 716.3L425.9 717.4L426.4 718.4L426.8 719.5L427.3 720.5L427.7 721.4L428.2 722.1L428.6 722.8L429.1 723.4L429.5 724.1L430.0 724.7L430.4 725.5L430.9 726.2L431.3 726.9L431.8 727.5L432.2 728.1L432.7 728.3L433.1 728.5L433.6 728.7L434.0 728.9L434.5 729.3L435.0 730.0L435.4 730.7L435.9 731.4L436.3 732.1L436.8 732.6L437.2 732.8L437.7 733.1L438.1 733.3L438.6 733.5L439.0 733.8L439.5 734.3L439.9 734.8L440.4 735.4L440.8 735.9L441.3 736.3L441.7 736.5L442.2 736.7L442.6 736.8L443.1 737.0L443.5 737.3L444.0 737.7L444.4 738.2L444.9 738.7L445.3 739.2L445.8 739.6L446.3 739.6L446.7 739.6L447.2 739.6L447.6 739.6L448.1 739.7L448.5 740.3L449.0 740.8L449.4 741.4L449.9 741.9L450.3 742.3L450.8 742.3L451.2 742.4L451.7 742.4L452.1 742.5L452.6 742.6L453.0 743.0L453.5 743.4L453.9 743.9L454.4 744.3L454.8 744.5L455.3 744.5L455.7 744.5L456.2 744.4L456.6 744.4L457.1 744.5L457.6 744.9L458.0 745.4L458.5 745.9L458.9 746.3L459.4 746.6L459.8 746.6L460.3 746.5L460.7 746.5L461.2 746.4L461.6 746.4L462.1 746.7L462.5 746.9L463.0 747.2L463.4 747.4L463.9 747.6L464.3 747.7L464.8 747.8L465.2 747.9L465.7 748.0L466.1 748.1L466.6 748.4L467.0 748.6L467.5 748.8L467.9 749.1L468.4 749.2L468.9 749.2L469.3 749.2L469.8 749.2L470.2 749.2L470.7 749.3L471.1 749.6L471.6 750.0L472.0 750.3L472.5 750.6L472.9 750.9L473.4 750.8L473.8 750.8L474.3 750.7L474.7 750.7L475.2 750.7L475.6 750.9L476.1 751.1L476.5 751.4L477.0 751.6L477.4 751.8L477.9 751.8L478.3 751.9L478.8 752.0L479.2 752.0L479.7 752.2L480.2 752.5L480.6 752.8L481.1 753.1L481.5 753.5L482.0 753.7L482.4 753.6L482.9 753.5L483.3 753.4L483.8 753.4L484.2 753.4L484.7 753.7L485.1 754.0L485.6 754.3L486.0 754.6L486.5 754.8L486.9 754.7L487.4 754.6L487.8 754.6L488.3 754.5L488.7 754.6L489.2 754.9L489.6 755.2L490.1 755.5L490.6 755.8L491.0 756.0L491.5 756.0L491.9 756.0L492.4 756.0L492.8 756.0L493.3 756.1L493.7 756.3L494.2 756.5L494.6 756.8L495.1 757.0L495.5 757.1L496.0 757.1L496.4 757.1L496.9 757.1L497.3 757.1L497.8 757.1L498.2 757.3L498.7 757.5L499.1 757.6L499.6 757.8L500.0 757.9L500.5 757.9L500.9 757.9L501.4 757.9L501.9 757.9L502.3 758.0L502.8 758.3L503.2 758.7L503.7 759.0L504.1 759.3L504.6 759.6L505.0 759.4L505.5 759.3L505.9 759.2L506.4 759.1L506.8 759.1L507.3 759.5L507.7 759.8L508.2 760.1L508.6 760.5L509.1 760.6L509.5 760.5L510.0 760.3L510.4 760.1L510.9 760.0L511.3 759.9L511.8 760.3L512.2 760.6L512.7 761.0L513.2 761.3L513.6 761.5L514.1 761.4L514.5 761.3L515.0 761.2L515.4 761.1L515.9 761.1L516.3 761.3L516.8 761.4L517.2 761.6L517.7 761.8L518.1 761.9L518.6 761.8L519.0 761.7L519.5 761.6L519.9 761.5L520.4 761.5L520.8 761.9L521.3 762.2L521.7 762.5L522.2 762.9L522.6 763.1L523.1 763.0L523.5 762.9L524.0 762.8L524.5 762.8L524.9 762.8L525.4 763.0L525.8 763.2L526.3 763.5L526.7 763.7L527.2 763.8L527.6 763.7L528.1 763.6L528.5 763.4L529.0 763.3L529.4 763.2L529.9 763.5L530.3 763.7L530.8 764.0L531.2 764.2L531.7 764.4L532.1 764.3L532.6 764.2L533.0 764.1L533.5 764.0L533.9 764.1L534.4 764.4L534.8 764.8L535.3 765.2L535.8 765.6L536.2 765.8L536.7 765.6L537.1 765.4L537.6 765.2L538.0 765.0L538.5 764.9L538.9 765.1L539.4 765.2L539.8 765.4L540.3 765.5L540.7 765.6L541.2 765.4L541.6 765.3L542.1 765.2L542.5 765.0L543.0 765.0L543.4 765.2L543.9 765.3L544.3 765.5L544.8 765.7L545.2 765.8L545.7 765.7L546.1 765.6L546.6 765.5L547.1 765.4L547.5 765.4L548.0 765.7L548.4 766.0L548.9 766.3L549.3 766.6L549.8 766.8L550.2 766.6L550.7 766.5L551.1 766.3L551.6 766.1L552.0 766.1L552.5 766.4L552.9 766.6L553.4 766.9L553.8 767.1L554.3 767.3L554.7 767.2L555.2 767.2L555.6 767.2L556.1 767.2L556.5 767.2L557.0 767.3L557.4 767.4L557.9 767.6L558.4 767.7L558.8 767.7L559.3 767.5L559.7 767.3L560.2 767.0L560.6 766.8L561.1 766.8L561.5 767.2L562.0 767.6L562.4 768.0L562.9 768.3L563.3 768.6L563.8 768.4L564.2 768.3L564.7 768.1L565.1 768.0L565.6 767.9L566.0 768.1L566.5 768.2L566.9 768.4L567.4 768.6L567.8 768.7L568.3 768.6L568.8 768.6L569.2 768.6L569.7 768.5L570.1 768.6L570.6 768.9L571.0 769.2L571.5 769.5L571.9 769.8L572.4 769.9L572.8 769.8L573.3 769.7L573.7 769.6L574.2 769.5L574.6 769.4L575.1 769.6L575.5 769.8L576.0 770.1L576.4 770.3L576.9 770.4L577.3 770.2L577.8 770.0L578.2 769.8L578.7 769.6L579.1 769.5L579.6 769.7L580.1 769.9L580.5 770.0L581.0 770.2L581.4 770.2L581.9 770.2L582.3 770.1L582.8 770.0L583.2 769.9L583.7 769.9L584.1 770.1L584.6 770.3L585.0 770.4L585.5 770.6L585.9 770.7L586.4 770.6L586.8 770.5L587.3 770.4L587.7 770.2L588.2 770.2L588.6 770.4L589.1 770.6L589.5 770.9L590.0 771.1L590.4 771.2L590.9 771.1L591.4 771.0L591.8 770.9L592.3 770.8L592.7 770.8L593.2 771.0L593.6 771.2L594.1 771.4L594.5 771.6L595.0 771.7L595.4 771.6L595.9 771.5L596.3 771.4L596.8 771.3L597.2 771.2L597.7 771.4L598.1 771.5L598.6 771.7L599.0 771.8L599.5 771.9L599.9 771.9L600.4 771.9L600.8 771.8L601.3 771.8L601.7 771.8L602.2 771.9L602.7 772.0L603.1 772.1L603.6 772.1L604.0 772.2L604.5 772.1L604.9 772.0L605.4 772.0L605.8 771.9L606.3 771.9L606.7 772.2L607.2 772.5L607.6 772.7L608.1 773.0L608.5 773.1L609.0 772.9L609.4 772.6L609.9 772.4L610.3 772.1L610.8 772.0L611.2 772.3L611.7 772.6L612.1 772.9L612.6 773.2L613.0 773.3L613.5 773.1L614.0 773.0L614.4 772.8L614.9 772.6L615.3 772.5L615.8 772.8L616.2 773.1L616.7 773.3L617.1 773.6L617.6 773.7L618.0 773.6L618.5 773.5L618.9 773.4L619.4 773.3L619.8 773.2L620.3 773.3L620.7 773.5L621.2 773.6L621.6 773.8L622.1 773.8L622.5 773.7L623.0 773.6L623.4 773.5L623.9 773.4L624.3 773.3L624.8 773.5L625.3 773.6L625.7 773.8L626.2 773.9L626.6 774.0L627.1 773.9L627.5 773.9L628.0 773.9L628.4 773.8L628.9 773.8L629.3 773.9L629.8 774.1L630.2 774.2L630.7 774.3L631.1 774.4L631.6 774.2L632.0 774.1L632.5 774.1L632.9 774.1L633.3 879.0L633.4 879.0L634.5 876.3L635.6 873.7L636.8 871.2L637.9 868.5L639.0 866.4L640.2 865.1L641.3 863.9L642.4 863.0L643.5 862.1L644.7 861.5L645.8 860.9L646.9 860.5L648.1 860.1L649.2 859.8L650.3 859.6L651.4 859.3L652.6 859.1L653.7 859.0L654.8 858.8L656.0 858.7L657.1 858.6L658.2 858.5L659.3 858.4L660.5 858.3L661.6 858.2L662.7 858.1L663.9 858.0L665.0 857.9L666.1 857.9L667.2 857.8L668.4 857.7L669.5 857.7L670.6 857.7L671.8 857.6L672.9 857.6L674.0 857.5L675.1 857.5L676.3 857.5L677.4 857.4L678.5 857.4L679.7 857.4L680.8 857.3L681.9 857.3L683.0 857.3L684.2 857.3L685.3 857.2L686.4 857.2L687.6 857.2L688.7 857.2L689.8 857.1L690.9 857.1L692.1 857.1L693.2 857.1L694.3 857.0L695.5 857.0L696.6 857.0L697.7 857.0L698.8 857.0L700.0 857.0L701.1 856.9L702.2 856.9L703.4 856.9L704.5 856.9L705.6 856.9L706.7 856.8L707.9 856.8L709.0 856.8L710.1 856.8L711.3 856.8L712.4 856.7L713.5 856.7L714.6 856.7L715.8 856.7L716.9 856.7L718.0 856.7L719.2 856.6L720.3 856.6L721.4 856.6L722.5 856.6L723.7 856.6L724.8 856.6L725.9 856.5L727.1 856.5L728.2 856.5L729.3 856.5L730.4 856.5L731.6 856.5L732.7 856.5L733.8 856.4L735.0 856.4L736.1 856.4L737.2 856.4L738.3 856.4L739.5 856.4L740.6 856.4L741.7 856.3L742.9 856.3L744.0 856.3L745.1 856.3L746.2 856.3L747.4 856.3L748.5 856.3L749.6 856.3L750.8 856.2L751.9 856.2L753.0 856.2L754.1 856.2L755.3 856.2L756.4 856.2L757.5 856.2L758.7 856.2L759.8 856.2L760.9 856.1L762.0 856.1L763.2 856.1L764.3 856.1L765.4 856.1L766.5 856.1L767.7 856.1L768.8 856.1L769.9 856.1L771.1 856.1L772.2 856.1L773.3 856.1L774.4 856.0L775.6 856.0L776.7 856.0L777.8 856.0L779.0 856.0L780.1 856.0L781.2 856.0L782.3 856.0L783.5 856.0L784.6 856.0L785.7 856.0L786.9 856.0L788.0 855.9L789.1 855.9L790.2 855.9L791.4 855.9L792.5 855.9L793.6 855.9L794.8 855.9L795.9 855.9L797.0 855.9L798.1 855.9L799.3 855.9L800.4 855.9L801.5 855.9L802.7 855.9L803.8 855.8L804.9 855.8L806.0 855.8L807.2 855.8L808.3 855.8L809.4 855.8L810.6 855.8L811.7 855.8L812.8 855.8L813.9 855.8L815.1 855.8L816.2 855.8L817.3 855.8L818.5 855.8L819.6 855.8L820.7 855.8L821.8 855.8L823.0 855.7L824.1 855.7L825.2 855.7L826.4 855.7L827.5 855.7L828.6 855.7L829.7 855.7L830.9 855.7L832.0 855.7L833.1 855.7L834.3 855.7L835.4 855.7L836.5 855.7L837.6 855.7L838.8 855.7L839.9 855.7L841.0 855.7L842.2 855.7L843.3 855.7L844.4 855.7L845.5 855.7L846.7 855.7L847.8 855.7L848.9 855.7L850.1 855.7L851.2 855.7L852.3 855.7L853.4 855.7L854.6 855.7L855.7 855.7L856.8 855.7L857.3 855.7L861.6 703.7L861.6 703.7L862.1 722.6L862.5 736.4L863.0 740.0L863.4 741.7L863.9 742.8L864.3 743.6L864.8 744.5L865.2 745.4L865.7 746.6L866.1 748.1L866.6 749.7L867.1 751.3L867.5 752.9L868.0 754.4L868.4 755.9L868.9 757.2L869.3 758.6L869.8 759.7L870.2 760.7L870.7 761.5L871.1 762.3L871.6 762.7L872.0 762.9L872.5 763.1L872.9 763.3L873.4 763.4L873.8 764.0L874.3 764.6L874.7 765.1L875.2 765.7L875.7 766.2L876.1 766.4L876.6 766.5L877.0 766.6L877.5 766.7L877.9 766.8L878.4 767.2L878.8 767.6L879.3 768.0L879.7 768.5L880.2 768.9L880.6 769.0L881.1 769.1L881.5 769.1L882.0 769.1L882.4 769.1L882.9 769.5L883.3 769.8L883.8 770.2L884.3 770.6L884.7 771.0L885.2 771.1L885.6 771.1L886.1 771.1L886.5 771.1L887.0 771.1L887.4 771.3L887.9 771.6L888.3 771.9L888.8 772.2L889.2 772.5L889.7 772.6L890.1 772.6L890.6 772.6L891.0 772.6L891.5 772.6L891.9 772.7L892.4 772.9L892.9 773.1L893.3 773.3L893.8 773.5L894.2 773.6L894.7 773.6L895.1 773.5L895.6 773.5L896.0 773.5L896.5 773.7L896.9 773.8L897.4 774.0L897.8 774.2L898.3 774.4L898.7 774.4L899.2 774.5L899.6 774.5L900.1 774.5L900.5 774.5L901.0 774.7L901.5 775.0L901.9 775.3L902.4 775.6L902.8 775.9L903.3 775.8L903.7 775.8L904.2 775.7L904.6 775.6L905.1 775.5L905.5 775.7L906.0 775.9L906.4 776.1L906.9 776.3L907.3 776.6L907.8 776.5L908.2 776.4L908.7 776.3L909.1 776.1L909.6 776.0L910.1 776.2L910.5 776.3L911.0 776.5L911.4 776.7L911.9 776.9L912.3 776.8L912.8 776.6L913.2 776.4L913.7 776.2L914.1 776.0L914.6 776.2L915.0 776.6L915.5 776.9L915.9 777.2L916.4 777.5L916.8 777.4L917.3 777.3L917.7 777.1L918.2 777.0L918.7 776.9L919.1 777.0L919.6 777.1L920.0 777.3L920.5 777.4L920.9 777.6L921.4 777.5L921.8 777.4L922.3 777.3L922.7 777.2L923.2 777.0L923.6 777.2L924.1 777.4L924.5 777.6L925.0 777.9L925.4 778.1L925.9 778.0L926.4 777.9L926.8 777.8L927.3 777.7L927.7 777.5L928.2 777.7L928.6 777.9L929.1 778.1L929.5 778.3L930.0 778.5L930.4 778.4L930.9 778.3L931.3 778.2L931.8 778.1L932.2 777.9L932.7 778.1L933.1 778.2L933.6 778.4L934.0 778.6L934.5 778.8L935.0 778.7L935.4 778.6L935.9 778.5L936.3 778.4L936.8 778.3L937.2 778.4L937.7 778.5L938.1 778.6L938.6 778.7L939.0 778.8L939.5 778.7L939.9 778.6L940.4 778.5L940.8 778.4L941.3 778.3L941.7 778.5L942.2 778.8L942.6 779.1L943.1 779.4L943.6 779.7L944.0 779.6L944.5 779.4L944.9 779.2L945.4 779.0L945.8 778.9L946.3 779.0L946.7 779.3L947.2 779.6L947.6 779.9L948.1 780.1L948.5 780.1L949.0 779.9L949.4 779.7L949.9 779.5L950.3 779.3L950.8 779.5L951.2 779.7L951.7 779.9L952.2 780.2L952.6 780.4L953.1 780.4L953.5 780.3L954.0 780.2L954.4 780.1L954.9 780.0L955.3 780.1L955.8 780.3L956.2 780.5L956.7 780.7L957.1 780.9L957.6 780.9L958.0 780.8L958.5 780.7L958.9 780.5L959.4 780.4L959.8 780.5L960.3 780.6L960.8 780.7L961.2 780.8L961.7 781.0L962.1 780.9L962.6 780.8L963.0 780.7L963.5 780.6L963.9 780.4L964.4 780.6L964.8 780.8L965.3 781.0L965.7 781.2L966.2 781.4L966.6 781.3L967.1 781.2L967.5 781.1L968.0 781.0L968.4 780.9L968.9 781.0L969.4 781.2L969.8 781.4L970.3 781.7L970.7 781.9L971.2 781.8L971.6 781.6L972.1 781.5L972.5 781.3L973.0 781.1L973.4 781.3L973.9 781.4L974.3 781.6L974.8 781.8L975.2 781.9L975.7 781.8L976.1 781.7L976.6 781.5L977.0 781.4L977.5 781.2L978.0 781.3L978.4 781.5L978.9 781.7L979.3 781.8L979.8 782.0L980.2 781.9L980.7 781.7L981.1 781.6L981.6 781.4L982.0 781.2L982.5 781.4L982.9 781.7L983.4 781.9L983.8 782.2L984.3 782.4L984.7 782.3L985.2 782.0L985.6 781.8L986.1 781.6L986.6 781.3L987.0 781.5L987.5 781.7L987.9 782.0L988.4 782.2L988.8 782.5L989.3 782.4L989.7 782.2L990.2 782.0L990.6 781.8L991.1 781.6L991.5 781.7L992.0 781.9L992.4 782.1L992.9 782.3L993.3 782.6L993.8 782.5L994.2 782.3L994.7 782.1L995.2 781.9L995.6 781.8L996.1 781.9L996.5 782.1L997.0 782.2L997.4 782.4L997.9 782.6L998.3 782.5L998.8 782.4L999.2 782.2L999.7 782.0L1000.1 781.9L1000.6 782.0L1001.0 782.2L1001.5 782.4L1001.9 782.6L1002.4 782.8L1002.8 782.7L1003.3 782.6L1003.8 782.5L1004.2 782.3L1004.7 782.2L1005.1 782.3L1005.6 782.5L1006.0 782.7L1006.5 782.9L1006.9 783.0L1007.4 783.0L1007.8 782.8L1008.3 782.7L1008.7 782.5L1009.2 782.4L1009.6 782.6L1010.1 782.8L1010.5 783.0L1011.0 783.3L1011.4 783.5L1011.9 783.4L1012.4 783.3L1012.8 783.2L1013.3 783.1L1013.7 783.0L1014.2 783.2L1014.6 783.4L1015.1 783.6L1015.5 783.8L1016.0 784.0L1016.4 783.9L1016.9 783.8L1017.3 783.6L1017.8 783.5L1018.2 783.4L1018.7 783.4L1019.1 783.5L1019.6 783.6L1020.0 783.7L1020.5 783.9L1021.0 783.7L1021.4 783.5L1021.9 783.2L1022.3 783.0L1022.8 782.8L1023.2 782.9L1023.7 783.1L1024.1 783.3L1024.6 783.5L1025.0 783.7L1025.5 783.7L1025.9 783.6L1026.4 783.5L1026.8 783.5L1027.3 783.4L1027.7 783.5L1028.2 783.7L1028.6 783.9L1029.1 784.1L1029.6 784.3L1030.0 784.2L1030.5 784.1L1030.9 783.9L1031.4 783.8L1031.8 783.6L1032.3 783.7L1032.7 783.9L1033.2 784.1L1033.6 784.3L1034.1 784.5L1034.5 784.4L1035.0 784.2L1035.4 784.0L1035.9 783.8L1036.3 783.6L1036.8 783.8L1037.2 784.1L1037.7 784.4L1038.2 784.7L1038.6 784.9L1039.1 784.8L1039.5 784.5L1040.0 784.3L1040.4 784.0L1040.9 783.8L1041.3 783.9L1041.8 784.1L1042.2 784.3L1042.7 784.5L1043.1 784.7L1043.6 784.7L1044.0 784.5L1044.5 784.4L1044.9 784.3L1045.4 784.2L1045.8 784.4L1046.3 784.6L1046.8 784.8L1047.2 784.9L1047.7 785.1L1048.1 785.0L1048.6 784.7L1049.0 784.5L1049.5 784.2L1049.9 784.0L1050.4 784.1L1050.8 784.4L1051.3 784.7L1051.7 784.9L1052.2 785.2L1052.6 785.1L1053.1 785.0L1053.5 784.8L1054.0 784.6L1054.4 784.5L1054.9 784.6L1055.4 784.9L1055.8 785.1L1056.3 785.3L1056.7 785.6L1057.2 785.6L1057.6 785.5L1058.1 785.4L1058.5 785.4L1059.0 785.3L1059.4 785.4L1059.9 785.6L1060.3 785.7L1060.8 785.8L1061.2 786.0L1061.7 785.9L1062.1 785.8L1062.6 785.7L1063.1 785.6L1063.5 785.5L1064.0 785.6L1064.4 785.7L1064.9 785.9L1065.3 786.1L1065.8 786.2L1066.2 786.2L1066.7 786.0L1067.1 785.9L1067.6 785.8L1068.0 785.6L1068.5 785.8L1068.9 786.0L1069.4 786.2L1069.8 786.4L1070.3 786.6L1070.7 786.5L1071.2 786.3L1071.7 786.1L1072.1 786.0L1072.6 785.8L1073.0 785.9L1073.5 786.2L1073.9 786.4L1074.4 786.6L1074.8 786.8L1075.3 786.7L1075.7 786.6L1076.2 786.4L1076.6 786.3L1077.1 786.2L1077.5 786.3L1078.0 786.6L1078.4 786.8L1078.9 787.0L1079.3 787.2L1079.8 787.2L1080.3 787.1L1080.7 787.0L1081.2 786.9L1081.6 786.8L1082.1 787.0L1082.5 787.2L1083.0 787.4L1083.4 787.6L1083.9 787.8L1084.3 787.8L1084.8 787.6L1085.2 787.5L1085.7 787.4L1086.1 787.3L1086.6 787.4L1087.0 787.6L1087.5 787.9L1087.9 788.1L1088.4 788.3L1088.9 788.2L1089.3 788.0L1089.8 787.8L1090.2 787.6L1090.7 787.4L1091.1 787.6L1091.6 787.8L1092.0 788.0L1092.5 788.3L1092.9 788.5L1093.4 788.5L1093.8 788.5L1094.3 788.5L1094.7 788.4L1095.2 788.4L1095.6 788.5L1096.1 788.7L1096.5 788.6L1097.0 788.6L1097.1 883.0L1097.2 883.0L1098.3 880.4L1099.3 878.2L1100.4 876.6L1101.4 875.3L1102.5 874.2L1103.6 873.6L1103.8 873.6L1104.2 864.8L1104.2 864.8L1105.4 864.2L1106.5 863.6L1107.6 863.0L1108.8 862.5L1109.9 862.0L1111.0 861.7L1112.2 861.4L1113.3 861.1L1114.4 860.8L1115.6 860.5L1116.7 860.2L1117.8 860.0L1119.0 859.8L1120.1 859.6L1121.2 859.4L1122.3 859.3L1123.5 859.2L1124.6 859.0L1125.7 858.9L1126.9 858.8L1128.0 858.7L1129.1 858.6L1130.3 858.5L1131.4 858.5L1132.5 858.4L1133.7 858.3L1134.8 858.2L1135.9 858.2L1137.1 858.1L1138.2 858.0L1139.3 858.0L1140.5 857.9L1141.6 857.9L1142.7 857.8L1143.9 857.8L1145.0 857.8L1146.1 857.7L1147.3 857.7L1148.4 857.6L1149.5 857.6L1150.6 857.6L1151.8 857.5L1152.9 857.5L1154.0 857.5L1155.2 857.4L1156.3 857.4L1157.4 857.4L1158.6 857.3L1159.7 857.3L1160.8 857.3L1162.0 857.2L1163.1 857.2L1164.2 857.2L1165.4 857.2L1166.5 857.1L1167.6 857.1L1168.8 857.1L1169.9 857.1L1171.0 857.0L1172.2 857.0L1173.3 857.0L1174.4 857.0L1175.5 856.9L1176.7 856.9L1177.8 856.9L1178.9 856.9L1180.1 856.9L1181.2 856.8L1182.3 856.8L1183.5 856.8L1184.6 856.8L1185.7 856.7L1186.9 856.7L1188.0 856.7L1189.1 856.7L1190.3 856.6L1191.4 856.6L1192.5 856.6L1193.7 856.6L1194.8 856.5L1195.9 856.5L1197.1 856.5L1198.2 856.5L1199.3 856.4L1200.5 856.4L1201.6 856.4L1202.7 856.4L1203.8 856.4L1205.0 856.3L1206.1 856.3L1207.2 856.3L1208.4 856.3L1209.5 856.3L1210.6 856.2L1211.8 856.2L1212.9 856.2L1214.0 856.2L1215.2 856.2L1216.3 856.2L1217.4 856.1L1218.6 856.1L1219.7 856.1L1220.8 856.1L1222.0 856.1L1223.1 856.1L1224.2 856.1L1225.4 856.1L1226.5 856.1L1227.6 856.1L1228.8 856.1L1229.9 856.1L1231.0 856.1L1232.1 856.1L1233.3 856.1L1234.4 856.1L1235.5 856.1L1236.7 856.1L1237.8 856.1L1238.9 856.1L1240.1 856.1L1241.2 856.1L1242.3 856.1L1243.5 856.1L1244.6 856.1L1245.7 856.1L1246.9 856.1L1248.0 856.1L1249.1 856.1L1250.3 856.1L1251.4 856.1L1252.5 856.1L1253.7 856.1L1254.8 856.1L1255.9 856.1L1257.1 856.1L1258.2 856.1L1259.3 856.1L1260.4 856.1L1261.6 856.1L1262.7 856.1L1263.8 856.1L1265.0 856.1L1266.1 856.1L1267.2 856.1L1268.4 856.1L1269.5 856.1L1270.6 856.1L1271.8 856.1L1272.9 856.1L1274.0 856.1L1275.2 856.1L1276.3 856.1L1277.4 856.1L1278.6 856.1L1279.7 856.1L1280.8 856.1L1282.0 856.1L1283.1 856.1L1284.2 856.1L1285.4 856.1L1286.5 856.1L1287.6 856.1L1288.7 856.1L1289.9 856.1L1291.0 856.1L1292.1 856.1L1293.3 856.1L1294.4 856.1L1295.5 856.1L1296.7 856.1L1297.8 856.1L1298.9 856.1L1300.1 856.1L1301.2 856.1L1302.3 856.1L1303.5 856.1L1304.6 856.1L1305.7 856.1L1306.9 856.1L1308.0 856.1L1309.1 856.1L1310.3 856.1L1311.4 856.1L1312.5 856.1L1313.7 856.1"/><path stroke="#8000ff" d="M182.9 856.9L409.1 856.9L409.4 856.9L409.6 831.1L409.7 831.1L410.2 832.0L410.6 832.8L411.1 833.5L411.5 834.0L412.0 834.5L412.4 834.9L412.9 835.3L413.4 835.7L413.8 836.0L414.3 836.4L414.7 836.8L415.2 837.1L415.6 837.5L416.1 837.7L416.5 837.9L417.0 838.2L417.4 838.3L417.9 838.5L418.3 838.8L418.8 839.0L419.2 839.3L419.7 839.5L420.1 839.8L420.6 839.9L421.0 840.0L421.5 840.0L422.0 840.1L422.4 840.1L422.9 840.2L423.3 840.4L423.8 840.5L424.2 840.6L424.7 840.8L425.1 840.8L425.6 840.8L426.0 840.9L426.5 840.9L426.9 840.9L427.4 841.0L427.8 841.1L428.3 841.2L428.7 841.3L429.2 841.5L429.6 841.5L430.1 841.4L430.6 841.4L431.0 841.4L431.5 841.3L431.9 841.4L432.4 841.5L432.8 841.6L433.3 841.7L433.7 841.8L434.2 841.8L434.6 841.7L435.1 841.7L435.5 841.6L436.0 841.6L436.4 841.7L436.9 841.8L437.3 842.0L437.8 842.1L438.3 842.2L438.7 842.2L439.2 842.2L439.6 842.1L440.1 842.0L440.5 842.0L441.0 842.0L441.4 842.1L441.9 842.2L442.3 842.2L442.8 842.3L443.2 842.3L443.7 842.3L444.1 842.3L444.6 842.3L445.0 842.2L445.5 842.3L445.9 842.4L446.4 842.5L446.9 842.6L447.3 842.6L447.8 842.6L448.2 842.5L448.7 842.5L449.1 842.4L449.6 842.3L450.0 842.4L450.5 842.4L450.9 842.5L451.4 842.5L451.8 842.6L452.3 842.6L452.7 842.6L453.2 842.5L453.6 842.5L454.1 842.4L454.6 842.5L455.0 842.6L455.5 842.7L455.9 842.8L456.4 842.9L456.8 842.8L457.3 842.8L457.7 842.7L458.2 842.7L458.6 842.6L459.1 842.7L459.5 842.8L460.0 842.9L460.4 843.0L460.9 843.0L461.3 843.0L461.8 843.0L462.2 842.9L462.7 842.9L463.2 842.8L463.6 842.9L464.1 842.9L464.5 843.0L465.0 843.1L465.4 843.2L465.9 843.2L466.3 843.1L466.8 843.1L467.2 843.0L467.7 843.0L468.1 843.0L468.6 843.1L469.0 843.2L469.5 843.2L469.9 843.3L470.4 843.3L470.9 843.2L471.3 843.1L471.8 843.0L472.2 843.0L472.7 843.0L473.1 843.2L473.6 843.3L474.0 843.5L474.5 843.6L474.9 843.6L475.4 843.6L475.8 843.5L476.3 843.5L476.7 843.4L477.2 843.4L477.6 843.5L478.1 843.6L478.5 843.6L479.0 843.7L479.5 843.7L479.9 843.6L480.4 843.5L480.8 843.4L481.3 843.3L481.7 843.4L482.2 843.4L482.6 843.5L483.1 843.6L483.5 843.7L484.0 843.6L484.4 843.6L484.9 843.5L485.3 843.5L485.8 843.4L486.2 843.4L486.7 843.5L487.2 843.6L487.6 843.7L488.1 843.8L488.5 843.7L489.0 843.6L489.4 843.5L489.9 843.4L490.3 843.3L490.8 843.3L491.2 843.4L491.7 843.5L492.1 843.5L492.6 843.6L493.0 843.6L493.5 843.6L493.9 843.5L494.4 843.4L494.8 843.4L495.3 843.5L495.8 843.6L496.2 843.7L496.7 843.9L497.1 844.0L497.6 843.9L498.0 843.8L498.5 843.7L498.9 843.6L499.4 843.5L499.8 843.6L500.3 843.6L500.7 843.7L501.2 843.8L501.6 843.9L502.1 843.8L502.5 843.7L503.0 843.6L503.4 843.5L503.9 843.5L504.4 843.5L504.8 843.6L505.3 843.7L505.7 843.7L506.2 843.8L506.6 843.8L507.1 843.8L507.5 843.7L508.0 843.7L508.4 843.6L508.9 843.7L509.3 843.7L509.8 843.8L510.2 843.8L510.7 843.9L511.1 843.8L511.6 843.7L512.1 843.7L512.5 843.6L513.0 843.5L513.4 843.5L513.9 843.6L514.3 843.7L514.8 843.8L515.2 843.8L515.7 843.8L516.1 843.8L516.6 843.8L517.0 843.7L517.5 843.7L517.9 843.7L518.4 843.8L518.8 843.9L519.3 843.9L519.7 844.0L520.2 844.0L520.7 843.9L521.1 843.9L521.6 843.8L522.0 843.8L522.5 843.8L522.9 843.9L523.4 843.9L523.8 844.0L524.3 844.0L524.7 844.0L525.2 843.9L525.6 843.8L526.1 843.8L526.5 843.7L527.0 843.7L527.4 843.8L527.9 843.9L528.4 844.0L528.8 844.1L529.3 844.1L529.7 844.0L530.2 843.9L530.6 843.8L531.1 843.8L531.5 843.8L532.0 843.9L532.4 844.0L532.9 844.0L533.3 844.1L533.8 844.1L534.2 844.0L534.7 843.9L535.1 843.8L535.6 843.7L536.0 843.8L536.5 843.8L537.0 843.9L537.4 843.9L537.9 844.0L538.3 844.0L538.8 844.0L539.2 844.0L539.7 843.9L540.1 843.9L540.6 844.0L541.0 844.1L541.5 844.1L541.9 844.2L542.4 844.3L542.8 844.2L543.3 844.1L543.7 844.0L544.2 843.9L544.7 843.8L545.1 843.9L545.6 843.9L546.0 844.0L546.5 844.1L546.9 844.2L547.4 844.1L547.8 844.1L548.3 844.0L548.7 844.0L549.2 844.0L549.6 844.0L550.1 844.0L550.5 844.1L551.0 844.1L551.4 844.2L551.9 844.2L552.3 844.1L552.8 844.1L553.3 844.0L553.7 844.0L554.2 844.0L554.6 844.1L555.1 844.1L555.5 844.2L556.0 844.3L556.4 844.2L556.9 844.1L557.3 844.0L557.8 843.9L558.2 843.8L558.7 843.9L559.1 843.9L559.6 844.0L560.0 844.1L560.5 844.2L561.0 844.2L561.4 844.1L561.9 844.1L562.3 844.1L562.8 844.0L563.2 844.0L563.7 844.1L564.1 844.1L564.6 844.2L565.0 844.2L565.5 844.2L565.9 844.1L566.4 844.0L566.8 844.0L567.3 843.9L567.7 843.9L568.2 844.0L568.6 844.0L569.1 844.1L569.6 844.2L570.0 844.1L570.5 844.0L570.9 844.0L571.4 843.9L571.8 843.8L572.3 843.8L572.7 843.9L573.2 844.0L573.6 844.0L574.1 844.1L574.5 844.1L575.0 844.0L575.4 844.0L575.9 844.0L576.3 844.0L576.8 844.0L577.2 844.1L577.7 844.2L578.2 844.2L578.6 844.3L579.1 844.3L579.5 844.3L580.0 844.2L580.4 844.1L580.9 844.1L581.3 844.1L581.8 844.1L582.2 844.2L582.7 844.2L583.1 844.3L583.6 844.3L584.0 844.2L584.5 844.2L584.9 844.1L585.4 844.1L585.9 844.1L586.3 844.1L586.8 844.1L587.2 844.2L587.7 844.2L588.1 844.2L588.6 844.2L589.0 844.2L589.5 844.1L589.9 844.1L590.4 844.1L590.8 844.1L591.3 844.2L591.7 844.2L592.2 844.2L592.6 844.2L593.1 844.2L593.5 844.1L594.0 844.1L594.5 844.1L594.9 844.1L595.4 844.1L595.8 844.1L596.3 844.1L596.7 844.1L597.2 844.1L597.6 844.1L598.1 844.0L598.5 844.0L599.0 844.0L599.4 844.0L599.9 844.0L600.3 844.1L600.8 844.1L601.2 844.2L601.7 844.1L602.2 844.1L602.6 844.1L603.1 844.0L603.5 844.0L604.0 844.0L604.4 844.1L604.9 844.1L605.3 844.2L605.8 844.2L606.2 844.2L606.7 844.1L607.1 844.1L607.6 844.0L608.0 843.9L608.5 844.0L608.9 844.1L609.4 844.1L609.8 844.2L610.3 844.3L610.8 844.3L611.2 844.2L611.7 844.1L612.1 844.0L612.6 844.0L613.0 844.0L613.5 844.0L613.9 844.1L614.4 844.1L614.8 844.2L615.3 844.2L615.7 844.1L616.2 844.0L616.6 843.9L617.1 843.9L617.5 843.9L618.0 844.0L618.5 844.1L618.9 844.1L619.4 844.2L619.8 844.2L620.3 844.2L620.7 844.1L621.2 844.1L621.6 844.1L622.1 844.1L622.5 844.2L623.0 844.2L623.4 844.3L623.9 844.4L624.3 844.3L624.8 844.2L625.2 844.2L625.7 844.1L626.1 844.0L626.6 844.1L627.1 844.2L627.5 844.2L628.0 844.3L628.4 844.4L628.9 844.4L629.3 844.3L629.8 844.2L630.2 844.1L630.7 844.0L631.1 844.1L631.6 844.1L632.0 844.2L632.4 844.2L632.6 862.3L632.7 862.3L633.8 860.4L635.0 858.8L636.1 857.7L637.2 856.8L638.4 856.2L639.5 856.0L640.6 855.9L641.7 855.8L642.9 855.7L644.0 855.7L645.1 855.6L646.3 855.6L647.4 855.6L648.5 855.6L649.6 855.5L650.8 855.5L651.9 855.5L653.0 855.5L654.2 855.4L655.3 855.4L656.4 855.4L657.5 855.4L658.7 855.4L659.8 855.4L660.9 855.3L662.1 855.3L663.2 855.3L664.3 855.3L665.4 855.3L666.6 855.3L667.7 855.3L668.8 855.3L670.0 855.3L671.1 855.3L672.2 855.3L673.3 855.2L674.5 855.2L675.6 855.2L676.7 855.2L677.9 855.2L679.0 855.2L680.1 855.2L681.2 855.2L682.4 855.2L683.5 855.2L684.6 855.2L685.8 855.2L686.9 855.2L688.0 855.2L689.1 855.2L690.3 855.2L691.4 855.2L692.5 855.2L693.7 855.2L694.8 855.2L695.9 855.2L697.0 855.2L698.2 855.2L699.3 855.2L700.4 855.2L701.5 855.2L702.7 855.2L703.8 855.2L704.9 855.2L706.1 855.2L707.2 855.2L708.3 855.2L709.4 855.2L710.6 855.2L711.7 855.2L712.8 855.2L714.0 855.2L715.1 855.2L716.2 855.2L717.3 855.2L718.5 855.2L719.6 855.2L720.7 855.2L721.9 855.2L723.0 855.2L724.1 855.2L725.2 855.2L726.4 855.2L727.5 855.2L728.6 855.2L729.8 855.2L730.9 855.2L732.0 855.2L733.1 855.2L734.3 855.2L735.4 855.2L736.5 855.2L737.7 855.2L738.8 855.2L739.9 855.2L741.0 855.2L742.2 855.2L743.3 855.2L744.4 855.2L745.6 855.2L746.7 855.2L747.8 855.2L748.9 855.2L750.1 855.2L751.2 855.2L752.3 855.2L753.5 855.2L754.6 855.2L755.7 855.2L756.8 855.2L758.0 855.2L759.1 855.2L760.2 855.2L761.4 855.2L762.5 855.2L763.6 855.2L764.7 855.2L765.9 855.2L767.0 855.2L768.1 855.2L769.3 855.2L770.4 855.2L771.5 855.2L772.6 855.2L773.8 855.2L774.9 855.2L776.0 855.2L777.2 855.2L778.3 855.2L779.4 855.2L780.5 855.2L781.7 855.2L782.8 855.2L783.9 855.2L785.1 855.2L786.2 855.2L787.3 855.2L788.4 855.2L789.6 855.2L790.7 855.2L791.8 855.2L793.0 855.2L794.1 855.2L795.2 855.2L796.3 855.2L797.5 855.2L798.6 855.2L799.7 855.2L800.9 855.2L802.0 855.2L803.1 855.2L804.2 855.2L805.4 855.2L806.5 855.2L807.6 855.2L808.8 855.2L809.9 855.2L811.0 855.2L812.1 855.2L813.3 855.2L814.4 855.2L815.5 855.2L816.7 855.2L817.8 855.2L818.9 855.2L820.0 855.2L821.2 855.2L822.3 855.2L823.4 855.2L824.6 855.2L825.7 855.2L826.8 855.2L827.9 855.2L829.1 855.2L830.2 855.2L831.3 855.2L832.5 855.2L833.6 855.2L834.7 855.2L835.8 855.2L837.0 855.2L838.1 855.2L839.2 855.2L840.4 855.2L841.5 855.2L842.6 855.2L843.7 855.2L844.9 855.2L846.0 855.2L847.1 855.2L848.3 855.2L849.4 855.2L850.5 855.2L851.6 855.2L852.8 855.2L853.9 855.2L855.0 855.2L856.2 855.2L857.3 855.2L857.6 855.2L857.8 831.9L858.0 831.9L858.4 832.5L858.9 832.9L859.3 833.3L859.8 833.6L860.2 834.0L860.7 834.3L861.1 834.8L861.6 835.3L862.0 835.7L862.5 836.1L862.9 836.5L863.4 836.7L863.8 837.0L864.3 837.2L864.7 837.5L865.2 837.8L865.7 838.2L866.1 838.6L866.6 839.0L867.0 839.4L867.5 839.7L867.9 839.9L868.4 840.1L868.8 840.2L869.3 840.4L869.7 840.5L870.2 840.7L870.6 840.9L871.1 841.1L871.5 841.3L872.0 841.4L872.4 841.4L872.9 841.5L873.4 841.5L873.8 841.6L874.3 841.6L874.7 841.8L875.2 842.0L875.6 842.2L876.1 842.3L876.5 842.4L877.0 842.5L877.4 842.5L877.9 842.5L878.3 842.4L878.8 842.5L879.2 842.6L879.7 842.7L880.1 842.8L880.6 842.9L881.0 843.0L881.5 843.0L882.0 843.0L882.4 843.0L882.9 843.0L883.3 843.0L883.8 843.1L884.2 843.2L884.7 843.3L885.1 843.4L885.6 843.4L886.0 843.4L886.5 843.3L886.9 843.3L887.4 843.3L887.8 843.3L888.3 843.4L888.7 843.4L889.2 843.5L889.7 843.6L890.1 843.6L890.6 843.6L891.0 843.6L891.5 843.6L891.9 843.5L892.4 843.5L892.8 843.6L893.3 843.7L893.7 843.8L894.2 843.8L894.6 843.9L895.1 843.9L895.5 843.9L896.0 843.9L896.4 843.9L896.9 844.0L897.3 844.0L897.8 844.1L898.3 844.2L898.7 844.2L899.2 844.3L899.6 844.2L900.1 844.2L900.5 844.1L901.0 844.1L901.4 844.0L901.9 844.1L902.3 844.2L902.8 844.2L903.2 844.3L903.7 844.3L904.1 844.3L904.6 844.2L905.0 844.2L905.5 844.2L905.9 844.2L906.4 844.2L906.9 844.3L907.3 844.3L907.8 844.4L908.2 844.4L908.7 844.3L909.1 844.3L909.6 844.2L910.0 844.2L910.5 844.2L910.9 844.3L911.4 844.3L911.8 844.4L912.3 844.5L912.7 844.6L913.2 844.5L913.6 844.5L914.1 844.5L914.6 844.5L915.0 844.5L915.5 844.5L915.9 844.5L916.4 844.5L916.8 844.6L917.3 844.6L917.7 844.6L918.2 844.5L918.6 844.5L919.1 844.5L919.5 844.5L920.0 844.5L920.4 844.6L920.9 844.7L921.3 844.7L921.8 844.8L922.2 844.7L922.7 844.7L923.2 844.6L923.6 844.5L924.1 844.5L924.5 844.6L925.0 844.7L925.4 844.7L925.9 844.8L926.3 844.8L926.8 844.7L927.2 844.7L927.7 844.6L928.1 844.6L928.6 844.5L929.0 844.6L929.5 844.7L929.9 844.8L930.4 844.8L930.9 844.9L931.3 844.8L931.8 844.8L932.2 844.7L932.7 844.7L933.1 844.7L933.6 844.7L934.0 844.8L934.5 844.8L934.9 844.9L935.4 844.9L935.8 844.8L936.3 844.7L936.7 844.6L937.2 844.5L937.6 844.5L938.1 844.6L938.5 844.7L939.0 844.8L939.5 844.9L939.9 844.9L940.4 844.9L940.8 844.8L941.3 844.7L941.7 844.7L942.2 844.6L942.6 844.7L943.1 844.7L943.5 844.7L944.0 844.8L944.4 844.8L944.9 844.7L945.3 844.7L945.8 844.7L946.2 844.6L946.7 844.6L947.2 844.7L947.6 844.7L948.1 844.8L948.5 844.9L949.0 844.9L949.4 844.8L949.9 844.8L950.3 844.7L950.8 844.6L951.2 844.6L951.7 844.7L952.1 844.7L952.6 844.8L953.0 844.9L953.5 844.9L953.9 844.8L954.4 844.7L954.8 844.6L955.3 844.6L955.8 844.5L956.2 844.6L956.7 844.7L957.1 844.8L957.6 844.9L958.0 844.9L958.5 844.8L958.9 844.7L959.4 844.7L959.8 844.6L960.3 844.5L960.7 844.6L961.2 844.7L961.6 844.8L962.1 844.8L962.5 844.9L963.0 844.8L963.4 844.8L963.9 844.7L964.4 844.7L964.8 844.7L965.3 844.7L965.7 844.7L966.2 844.7L966.6 844.7L967.1 844.7L967.5 844.7L968.0 844.7L968.4 844.7L968.9 844.7L969.3 844.7L969.8 844.8L970.2 844.8L970.7 844.9L971.1 844.9L971.6 844.9L972.1 844.9L972.5 844.8L973.0 844.7L973.4 844.6L973.9 844.6L974.3 844.7L974.8 844.8L975.2 844.9L975.7 845.0L976.1 845.0L976.6 844.9L977.0 844.8L977.5 844.7L977.9 844.6L978.4 844.6L978.8 844.7L979.3 844.7L979.7 844.8L980.2 844.9L980.7 844.9L981.1 844.9L981.6 844.8L982.0 844.8L982.5 844.8L982.9 844.7L983.4 844.8L983.8 844.8L984.3 844.8L984.7 844.9L985.2 844.9L985.6 844.8L986.1 844.8L986.5 844.8L987.0 844.7L987.4 844.7L987.9 844.8L988.4 844.8L988.8 844.8L989.3 844.9L989.7 844.9L990.2 844.9L990.6 844.8L991.1 844.8L991.5 844.8L992.0 844.8L992.4 844.8L992.9 844.9L993.3 844.9L993.8 845.0L994.2 845.0L994.7 844.9L995.1 844.8L995.6 844.7L996.0 844.7L996.5 844.6L997.0 844.7L997.4 844.8L997.9 844.9L998.3 845.0L998.8 845.0L999.2 845.0L999.7 844.9L1000.1 844.8L1000.6 844.8L1001.0 844.7L1001.5 844.8L1001.9 844.9L1002.4 845.0L1002.8 845.1L1003.3 845.1L1003.7 845.1L1004.2 845.1L1004.7 845.0L1005.1 845.0L1005.6 845.0L1006.0 845.0L1006.5 845.0L1006.9 845.1L1007.4 845.1L1007.8 845.1L1008.3 845.1L1008.7 845.1L1009.2 845.1L1009.6 845.0L1010.1 845.0L1010.5 845.1L1011.0 845.1L1011.4 845.2L1011.9 845.2L1012.3 845.3L1012.8 845.2L1013.3 845.1L1013.7 845.1L1014.2 845.0L1014.6 845.0L1015.1 845.0L1015.5 845.0L1016.0 845.0L1016.4 845.1L1016.9 845.1L1017.3 845.0L1017.8 845.0L1018.2 844.9L1018.7 844.9L1019.1 844.9L1019.6 845.0L1020.0 845.0L1020.5 845.1L1020.9 845.1L1021.4 845.2L1021.9 845.1L1022.3 845.1L1022.8 845.0L1023.2 844.9L1023.7 844.9L1024.1 845.0L1024.6 845.1L1025.0 845.2L1025.5 845.3L1025.9 845.3L1026.4 845.3L1026.8 845.2L1027.3 845.2L1027.7 845.1L1028.2 845.1L1028.6 845.1L1029.1 845.2L1029.6 845.3L1030.0 845.4L1030.5 845.4L1030.9 845.3L1031.4 845.2L1031.8 845.1L1032.3 844.9L1032.7 844.9L1033.2 845.0L1033.6 845.0L1034.1 845.1L1034.5 845.2L1035.0 845.2L1035.4 845.2L1035.9 845.2L1036.3 845.1L1036.8 845.1L1037.2 845.0L1037.7 845.1L1038.2 845.2L1038.6 845.2L1039.1 845.3L1039.5 845.3L1040.0 845.3L1040.4 845.2L1040.9 845.2L1041.3 845.2L1041.8 845.2L1042.2 845.2L1042.7 845.2L1043.1 845.2L1043.6 845.3L1044.0 845.3L1044.5 845.2L1044.9 845.1L1045.4 845.1L1045.9 845.0L1046.3 845.0L1046.8 845.0L1047.2 845.0L1047.7 845.1L1048.1 845.1L1048.6 845.1L1049.0 845.0L1049.5 845.0L1049.9 844.9L1050.4 844.9L1050.8 844.8L1051.3 844.9L1051.7 845.0L1052.2 845.1L1052.6 845.2L1053.1 845.2L1053.5 845.2L1054.0 845.1L1054.5 845.0L1054.9 845.0L1055.4 844.9L1055.8 845.0L1056.3 845.1L1056.7 845.1L1057.2 845.2L1057.6 845.2L1058.1 845.2L1058.5 845.1L1059.0 845.0L1059.4 844.9L1059.9 844.8L1060.3 844.9L1060.8 844.9L1061.2 845.0L1061.7 845.0L1062.1 845.1L1062.6 845.0L1063.1 845.0L1063.5 845.0L1064.0 844.9L1064.4 844.9L1064.9 845.0L1065.3 845.0L1065.8 845.1L1066.2 845.1L1066.7 845.1L1067.1 845.1L1067.6 845.0L1068.0 845.0L1068.5 844.9L1068.9 844.9L1069.4 845.0L1069.8 845.1L1070.3 845.2L1070.8 845.3L1071.2 845.3L1071.7 845.2L1072.1 845.2L1072.6 845.1L1073.0 845.0L1073.5 845.0L1073.9 845.0L1074.4 845.1L1074.8 845.2L1075.3 845.3L1075.7 845.4L1076.2 845.3L1076.6 845.2L1077.1 845.2L1077.5 845.1L1078.0 845.1L1078.4 845.2L1078.9 845.2L1079.4 845.3L1079.8 845.3L1080.3 845.4L1080.7 845.3L1081.2 845.3L1081.6 845.2L1082.1 845.1L1082.5 845.1L1083.0 845.2L1083.4 845.2L1083.8 845.2L1084.0 861.9L1084.1 861.9L1085.2 860.2L1086.4 858.8L1087.5 857.7L1088.6 856.8L1089.8 856.2L1090.9 856.0L1092.0 855.9L1093.2 855.8L1094.3 855.7L1095.4 855.7L1096.5 855.7L1097.7 855.6L1098.8 855.6L1099.9 855.6L1101.1 855.6L1102.2 855.5L1103.3 855.5L1104.5 855.5L1105.6 855.5L1106.7 855.4L1107.9 855.4L1109.0 855.4L1110.1 855.4L1111.2 855.4L1112.4 855.4L1113.5 855.4L1114.6 855.3L1115.8 855.3L1116.9 855.3L1118.0 855.3L1119.2 855.3L1120.3 855.3L1121.4 855.3L1122.6 855.3L1123.7 855.3L1124.8 855.3L1125.9 855.2L1127.1 855.2L1128.2 855.2L1129.3 855.2L1130.5 855.2L1131.6 855.2L1132.7 855.2L1133.9 855.2L1135.0 855.2L1136.1 855.2L1137.3 855.2L1138.4 855.2L1139.5 855.2L1140.6 855.2L1141.8 855.2L1142.9 855.2L1144.0 855.2L1145.2 855.2L1146.3 855.2L1147.4 855.2L1148.6 855.2L1149.7 855.2L1150.8 855.2L1152.0 855.2L1153.1 855.2L1154.2 855.2L1155.3 855.2L1156.5 855.2L1157.6 855.2L1158.7 855.2L1159.9 855.2L1161.0 855.2L1162.1 855.2L1163.3 855.2L1164.4 855.2L1165.5 855.2L1166.7 855.2L1167.8 855.2L1168.9 855.2L1170.0 855.2L1171.2 855.2L1172.3 855.2L1173.4 855.2L1174.6 855.2L1175.7 855.2L1176.8 855.2L1178.0 855.2L1179.1 855.2L1180.2 855.2L1181.4 855.2L1182.5 855.2L1183.6 855.2L1184.7 855.2L1185.9 855.2L1187.0 855.2L1188.1 855.2L1189.3 855.2L1190.4 855.2L1191.5 855.2L1192.7 855.2L1193.8 855.2L1194.9 855.2L1196.1 855.2L1197.2 855.2L1198.3 855.2L1199.4 855.2L1200.6 855.2L1201.7 855.2L1202.8 855.2L1204.0 855.2L1205.1 855.2L1206.2 855.2L1207.4 855.2L1208.5 855.2L1209.6 855.2L1210.8 855.2L1211.9 855.2L1213.0 855.2L1214.1 855.2L1215.3 855.2L1216.4 855.2L1217.5 855.2L1218.7 855.2L1219.8 855.2L1220.9 855.2L1222.1 855.2L1223.2 855.2L1224.3 855.2L1225.5 855.2L1226.6 855.2L1227.7 855.2L1228.8 855.2L1230.0 855.2L1231.1 855.2L1232.2 855.2L1233.4 855.2L1234.5 855.2L1235.6 855.2L1236.8 855.2L1237.9 855.2L1239.0 855.2L1240.2 855.2L1241.3 855.2L1242.4 855.2L1243.5 855.2L1244.7 855.2L1245.8 855.2L1246.9 855.2L1248.1 855.2L1249.2 855.2L1250.3 855.2L1251.5 855.2L1252.6 855.2L1253.7 855.2L1254.9 855.2L1256.0 855.2L1257.1 855.2L1258.2 855.2L1259.4 855.2L1260.5 855.2L1261.6 855.2L1262.8 855.2L1263.9 855.2L1265.0 855.2L1266.2 855.2L1267.3 855.2L1268.4 855.2L1269.6 855.2L1270.7 855.2L1271.8 855.2L1272.9 855.2L1274.1 855.2L1275.2 855.2L1276.3 855.2L1277.5 855.2L1278.6 855.2L1279.7 855.2L1280.9 855.2L1282.0 855.2L1283.1 855.2L1284.3 855.2L1285.4 855.2L1286.5 855.2L1287.6 855.2L1288.8 855.2L1289.9 855.2L1291.0 855.2L1292.2 855.2L1293.3 855.2L1294.4 855.2L1295.6 855.2L1296.7 855.2L1297.8 855.2L1299.0 855.2L1300.1 855.2L1301.2 855.2L1302.3 855.2L1303.5 855.2L1304.6 855.2L1305.7 855.2L1306.9 855.2L1308.0 855.2L1309.1 855.2L1310.3 855.2L1311.4 855.2L1312.5 855.2L1313.7 855.2"/></g>
<line x1="1313.65" y1="20.8" x2="1313.65" y2="942.50" stroke="#000" stroke-width="5"/>
<text x="153.2" y="868.7" text-anchor="end" font-size="40" font-family="'Liberation Serif', 'Times New Roman', serif" font-weight="bold">0.0</text>
<text x="153.2" y="660.5" text-anchor="end" font-size="40" font-family="'Liberation Serif', 'Times New Roman', serif" font-weight="bold">0.5</text>
<text x="153.2" y="452.4" text-anchor="end" font-size="40" font-family="'Liberation Serif', 'Times New Roman', serif" font-weight="bold">1.0</text>
<text x="153.2" y="244.2" text-anchor="end" font-size="40" font-family="'Liberation Serif', 'Times New Roman', serif" font-weight="bold">1.5</text>
<text x="153.2" y="36.1" text-anchor="end" font-size="40" font-family="'Liberation Serif', 'Times New Roman', serif" font-weight="bold">2.0</text>
<text x="182.8" y="1001.2" text-anchor="middle" font-size="40" font-family="'Liberation Serif', 'Times New Roman', serif" font-weight="bold">0</text>
<text x="408.9" y="1001.2" text-anchor="middle" font-size="40" font-family="'Liberation Serif', 'Times New Roman', serif" font-weight="bold">50</text>
<text x="635.1" y="1001.2" text-anchor="middle" font-size="40" font-family="'Liberation Serif', 'Times New Roman', serif" font-weight="bold">100</text>
<text x="861.2" y="1001.2" text-anchor="middle" font-size="40" font-family="'Liberation Serif', 'Times New Roman', serif" font-weight="bold">150</text>
<text x="1087.4" y="1001.2" text-anchor="middle" font-size="40" font-family="'Liberation Serif', 'Times New Roman', serif" font-weight="bold">200</text>
<text x="1314.2" y="1001.2" text-anchor="middle" font-size="40" font-family="'Liberation Serif', 'Times New Roman', serif" font-weight="bold">250</text>
<text x="749.4" y="1075.2" text-anchor="middle" letter-spacing="0.42" font-size="47" font-family="'Liberation Serif', 'Times New Roman', serif" font-weight="bold">Time (sec)</text>
<text transform="translate(51 691.4) rotate(-90)" letter-spacing="0.42" font-size="47" font-family="'Liberation Serif', 'Times New Roman', serif" font-weight="bold">Photocurrent (μA/cm<tspan font-size="31.5" dy="-20.5">2</tspan><tspan dy="20.5">)</tspan></text>
<line x1="969.4" y1="109.20" x2="1046.8" y2="109.20" stroke="#000000" stroke-width="7"/>
<text x="1065.5" y="122.8" font-size="39" font-family="'Liberation Serif', 'Times New Roman', serif">P<tspan font-size="26.2" dx="2" dy="10">TiN</tspan><tspan dx="-0.8" dy="-10">=0 W</tspan></text>
<line x1="969.4" y1="166.15" x2="1046.8" y2="166.15" stroke="#ff0000" stroke-width="7"/>
<text x="1065.5" y="179.8" font-size="39" font-family="'Liberation Serif', 'Times New Roman', serif">P<tspan font-size="26.2" dx="2" dy="10">TiN</tspan><tspan dx="-0.8" dy="-10">=25 W</tspan></text>
<line x1="969.4" y1="223.10" x2="1046.8" y2="223.10" stroke="#0000ff" stroke-width="7"/>
<text x="1065.5" y="236.7" font-size="39" font-family="'Liberation Serif', 'Times New Roman', serif">P<tspan font-size="26.2" dx="2" dy="10">TiN</tspan><tspan dx="-0.8" dy="-10">=35 W</tspan></text>
<line x1="969.4" y1="280.05" x2="1046.8" y2="280.05" stroke="#ff00ff" stroke-width="7"/>
<text x="1065.5" y="293.7" font-size="39" font-family="'Liberation Serif', 'Times New Roman', serif">P<tspan font-size="26.2" dx="2" dy="10">TiN</tspan><tspan dx="-0.8" dy="-10">=50 W</tspan></text>
<line x1="969.4" y1="337.00" x2="1046.8" y2="337.00" stroke="#008000" stroke-width="7"/>
<text x="1065.5" y="350.6" font-size="39" font-family="'Liberation Serif', 'Times New Roman', serif">P<tspan font-size="26.2" dx="2" dy="10">TiN</tspan><tspan dx="-0.8" dy="-10">=75 W</tspan></text>
<line x1="969.4" y1="393.95" x2="1046.8" y2="393.95" stroke="#000080" stroke-width="7"/>
<text x="1065.5" y="407.6" font-size="39" font-family="'Liberation Serif', 'Times New Roman', serif">P<tspan font-size="26.2" dx="2" dy="10">TiN</tspan><tspan dx="-0.8" dy="-10">=100 W</tspan></text>
<line x1="969.4" y1="450.90" x2="1046.8" y2="450.90" stroke="#8000ff" stroke-width="7"/>
<text x="1065.5" y="464.5" font-size="39" font-family="'Liberation Serif', 'Times New Roman', serif">TiO<tspan font-size="26.2" dx="1" dy="10">2</tspan></text>
</svg>
</body>
</html>
